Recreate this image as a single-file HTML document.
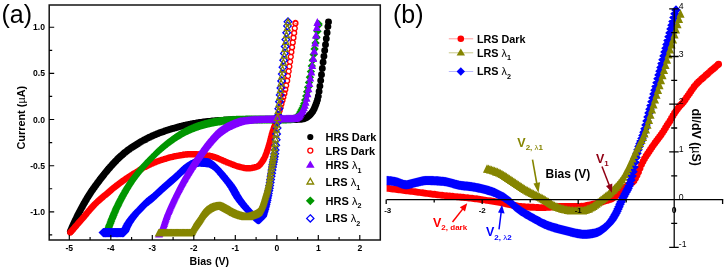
<!DOCTYPE html>
<html><head><meta charset="utf-8"><title>Figure</title>
<style>
html,body{margin:0;padding:0;background:#fff}
svg{display:block}
text{font-family:"Liberation Sans",sans-serif;fill:#000}
.tk{font-size:8.6px;font-weight:bold}
.tb{font-size:8.7px}
.pl{font-size:25px}
.al{font-size:10.6px;font-weight:bold}
.bl{font-size:12px;font-weight:bold}
.lg{font-size:11px;font-weight:bold}
.lgb{font-size:10.8px}
.sub{font-size:7.2px;font-weight:bold}
.an{font-size:12.5px;font-weight:bold}
.ans{font-size:8px;font-weight:bold}
</style></head><body>
<svg width="725" height="269" viewBox="0 0 725 269">
<rect width="725" height="269" fill="#fff"/>
<g id="panelA">
<path d="M70.3 231.5h0M71.1 229.6h0M71.9 227.8h0M72.7 226h0M73.5 224.2h0M74.3 222.5h0M75.1 220.7h0M75.9 219.1h0M76.7 217.4h0M77.5 215.8h0M78.3 214.2h0M79.1 212.7h0M79.9 211.1h0M80.7 209.6h0M81.5 208.1h0M82.3 206.7h0M83.1 205.2h0M83.9 203.8h0M84.7 202.4h0M85.5 201h0M86.3 199.7h0M87.1 198.3h0M87.9 197h0M88.7 195.7h0M89.5 194.5h0M90.3 193.2h0M91.1 192h0M91.9 190.8h0M92.7 189.7h0M93.5 188.5h0M94.3 187.4h0M95.1 186.3h0M95.9 185.2h0M96.7 184.1h0M97.5 183h0M98.3 181.9h0M99.1 180.9h0M99.9 179.8h0M100.7 178.8h0M101.5 177.7h0M102.3 176.7h0M103.1 175.7h0M103.9 174.7h0M104.7 173.6h0M105.5 172.6h0M106.3 171.7h0M107.1 170.7h0M107.9 169.7h0M108.7 168.8h0M109.5 167.9h0M110.3 167h0M111.1 166.1h0M111.9 165.2h0M112.7 164.3h0M113.5 163.4h0M114.3 162.6h0M115.1 161.7h0M115.9 160.9h0M116.7 160.1h0M117.5 159.3h0M118.3 158.5h0M119.1 157.7h0M119.9 157h0M120.7 156.3h0M121.5 155.6h0M122.3 154.9h0M123.1 154.2h0M123.9 153.5h0M124.7 152.8h0M125.5 152.2h0M126.3 151.6h0M127.1 151h0M127.9 150.3h0M128.7 149.7h0M129.5 149.2h0M130.3 148.6h0M131.1 148h0M131.9 147.5h0M132.7 146.9h0M133.5 146.4h0M134.3 145.9h0M135.1 145.4h0M135.9 144.9h0M136.7 144.4h0M137.5 143.9h0M138.3 143.4h0M139.1 142.9h0M139.9 142.5h0M140.7 142h0M141.5 141.5h0M142.3 141.1h0M143.1 140.6h0M143.9 140.2h0M144.7 139.8h0M145.5 139.4h0M146.3 138.9h0M147.1 138.5h0M147.9 138.1h0M148.7 137.7h0M149.5 137.3h0M150.3 137h0M151.1 136.6h0M151.9 136.2h0M152.7 135.8h0M153.5 135.5h0M154.3 135.1h0M155.1 134.8h0M155.9 134.4h0M156.7 134.1h0M157.5 133.8h0M158.3 133.5h0M159.1 133.1h0M159.9 132.8h0M160.7 132.5h0M161.5 132.2h0M162.3 132h0M163.1 131.7h0M163.9 131.4h0M164.7 131.1h0M165.5 130.8h0M166.3 130.6h0M167.1 130.3h0M167.9 130.1h0M168.7 129.8h0M169.5 129.6h0M170.3 129.3h0M171.1 129.1h0M171.9 128.8h0M172.7 128.6h0M173.5 128.4h0M174.3 128.1h0M175.1 127.9h0M175.9 127.7h0M176.7 127.5h0M177.5 127.2h0M178.3 127h0M179.1 126.8h0M179.9 126.6h0M180.7 126.4h0M181.5 126.2h0M182.3 126h0M183.1 125.8h0M183.9 125.6h0M184.7 125.4h0M185.5 125.3h0M186.3 125.1h0M187.1 124.9h0M187.9 124.7h0M188.7 124.6h0M189.5 124.4h0M190.3 124.2h0M191.1 124.1h0M191.9 123.9h0M192.7 123.8h0M193.5 123.6h0M194.3 123.5h0M195.1 123.4h0M195.9 123.2h0M196.7 123.1h0M197.5 123h0M198.3 122.8h0M199.1 122.7h0M199.9 122.6h0M200.7 122.5h0M201.5 122.4h0M202.3 122.3h0M203.1 122.2h0M203.9 122.1h0M204.7 122h0M205.5 121.9h0M206.3 121.8h0M207.1 121.7h0M207.9 121.6h0M208.7 121.5h0M209.5 121.4h0M210.3 121.4h0M211.1 121.3h0M211.9 121.2h0M212.7 121.2h0M213.5 121.1h0M214.3 121h0M215.1 121h0M215.9 120.9h0M216.7 120.8h0M217.5 120.8h0M218.3 120.7h0M219.1 120.7h0M219.9 120.6h0M220.7 120.6h0M221.5 120.5h0M222.3 120.4h0M223.1 120.4h0M223.9 120.3h0M224.7 120.3h0M225.5 120.2h0M226.3 120.2h0M227.1 120.2h0M227.9 120.1h0M228.7 120.1h0M229.5 120h0M230.3 120h0M231.1 119.9h0M231.9 119.9h0M232.7 119.9h0M233.5 119.8h0M234.3 119.8h0M235.1 119.8h0M235.9 119.7h0M236.7 119.7h0M237.5 119.7h0M238.3 119.6h0M239.1 119.6h0M239.9 119.6h0M240.7 119.6h0M241.5 119.6h0M242.3 119.6h0M243.1 119.6h0M243.9 119.5h0M244.7 119.5h0M245.5 119.5h0M246.3 119.5h0M247.1 119.5h0M247.9 119.5h0M248.7 119.5h0M249.5 119.5h0M250.3 119.5h0M251.1 119.5h0M251.9 119.5h0M252.7 119.5h0M253.5 119.5h0M254.3 119.5h0M255.1 119.5h0M255.9 119.5h0M256.7 119.5h0M257.5 119.5h0M258.3 119.5h0M259.1 119.5h0M259.9 119.5h0M260.7 119.5h0M261.5 119.5h0M262.3 119.5h0M263.1 119.5h0M263.9 119.5h0M264.7 119.5h0M265.5 119.5h0M266.3 119.5h0M267.1 119.5h0M267.9 119.5h0M268.7 119.5h0M269.5 119.5h0M270.3 119.5h0M271.1 119.5h0M271.9 119.5h0M272.7 119.5h0M273.5 119.5h0M274.3 119.5h0M275.1 119.5h0M275.9 119.5h0M276.7 119.5h0M277.5 119.5h0M278.3 119.5h0M279.1 119.5h0M279.9 119.5h0M280.7 119.5h0M281.5 119.5h0M282.3 119.5h0M283.1 119.5h0M283.9 119.5h0M284.7 119.5h0M285.5 119.5h0M286.3 119.5h0M287.1 119.5h0M287.9 119.5h0M288.7 119.5h0M289.5 119.5h0M290.3 119.5h0M291.1 119.5h0M291.9 119.5h0M292.7 119.5h0M293.5 119.5h0M294.3 119.5h0M295.1 119.5h0M295.9 119.5h0M296.7 119.5h0M297.5 119.4h0M298.3 119.4h0M299.1 119.4h0M299.9 119.4h0M300.7 119.4h0M301.5 119.3h0M302.3 119.1h0M303.1 118.9h0M303.9 118.7h0M304.7 118.4h0M305.5 118.1h0M306.3 117.7h0M307.1 117.2h0M307.9 116.6h0M308.7 115.9h0M309.5 115.3h0M310.3 114.5h0M311.1 113.6h0M311.9 112.6h0M312.7 111.5h0M313.5 110.1h0M314.3 108.4h0M315.1 106.5h0M315.9 104.5h0M316.7 102.3h0M317.5 99.8h0M318.3 96.2h0M319.1 91.5h0M319.9 86.1h0M320.7 80.6h0M321.5 74.7h0M322.3 68.5h0M323.1 62.3h0M323.9 56.3h0M324.7 50.5h0M325.5 44.7h0M326.3 38.8h0M327.1 32.7h0M327.9 26.6h0M328.5 22h0" stroke="#000" stroke-width="6.9" stroke-linecap="round" fill="none"/>
<path d="M70.3 232.5L71.2 231.5L72.1 230.4L73.1 229.4L74 228.3L74.9 227.2L75.8 226.2L76.7 225.1L77.7 224.1L78.6 223L79.5 221.9L80.4 220.9L81.3 219.8L82.3 218.8L83.2 217.7L84.1 216.7L85 215.6L85.9 214.5L86.9 213.4L87.8 212.3L88.7 211.2L89.6 210.1L90.5 209L91.5 208L92.4 207L93.3 206L94.2 205L95.1 204.1L96.1 203.2L97 202.3L97.9 201.4L98.8 200.6L99.7 199.7L100.7 198.9L101.6 198.1L102.5 197.4L103.4 196.6L104.3 195.8L105.3 195.1L106.2 194.4L107.1 193.6L108 192.8L108.9 192L109.9 191.2L110.8 190.4L111.7 189.6L112.6 188.8L113.5 188.1L114.5 187.4L115.4 186.6L116.3 185.9L117.2 185.2L118.1 184.5L119.1 183.8L120 183.1L120.9 182.4L121.8 181.7L122.7 181.1L123.7 180.4L124.6 179.8L125.5 179.1L126.4 178.5L127.3 177.9L128.3 177.3L129.2 176.7L130.1 176.1L131 175.5L131.9 174.9L132.9 174.3L133.8 173.8L134.7 173.2L135.6 172.6L136.5 172L137.5 171.4L138.4 170.8L139.3 170.2L140.2 169.6L141.1 169.1L142.1 168.6L143 168.1L143.9 167.6L144.8 167.1L145.7 166.6L146.7 166.2L147.6 165.7L148.5 165.3L149.4 164.8L150.3 164.4L151.3 164L152.2 163.6L153.1 163.2L154 162.8L154.9 162.4L155.9 162L156.8 161.7L157.7 161.3L158.6 161L159.5 160.7L160.5 160.3L161.4 160L162.3 159.7L163.2 159.4L164.1 159.2L165.1 158.9L166 158.6L166.9 158.3L167.8 158L168.7 157.8L169.7 157.5L170.6 157.3L171.5 157.1L172.4 156.9L173.3 156.6L174.3 156.4L175.2 156.3L176.1 156.1L177 155.9L177.9 155.8L178.9 155.6L179.8 155.5L180.7 155.3L181.6 155.2L182.5 155L183.5 154.9L184.4 154.8L185.3 154.7L186.2 154.6L187.1 154.5L188.1 154.4L189 154.4L189.9 154.3L190.8 154.3L191.7 154.3L192.7 154.3L193.6 154.3L194.5 154.4L195.4 154.4L196.3 154.5L197.3 154.5L198.2 154.6L199.1 154.7L200 154.8L200.9 154.9L201.9 154.9L202.8 155L203.7 155.2L204.6 155.3L205.5 155.4L206.5 155.5L207.4 155.6L208.3 155.8L209.2 155.9L210.1 156L211.1 156.2L212 156.4L212.9 156.6L213.8 156.9L214.7 157.2L215.7 157.5L216.6 157.8L217.5 158.2L218.4 158.6L219.3 159L220.3 159.4L221.2 159.8L222.1 160.2L223 160.6L223.9 161L224.9 161.4L225.8 161.8L226.7 162.2L227.6 162.6L228.5 162.9L229.5 163.3L230.4 163.6L231.3 164L232.2 164.3L233.1 164.7L234.1 165.1L235 165.4L235.9 165.8L236.8 166.1L237.7 166.4L238.7 166.7L239.6 166.9L240.5 167.1L241.4 167.3L242.3 167.6L243.3 167.8L244.2 168L245.1 168.1L246 168.3L246.9 168.4L247.9 168.4L248.8 168.4L249.7 168.3L250.6 168.2L251.5 168.1L252.5 167.9L253.4 167.7L254.3 167.5L255.2 167.3L256.1 167L257.1 166.6L258 166.2L258.9 165.6L259.8 164.8L260.7 163.7L261.7 162.5L262.6 161.2L263.5 159.7L264.4 157.9L265.3 155.9L266.3 153.6L267.2 150.9L268.1 147.9L269 144.9L269.9 141.6L270.9 138L271.8 134.5L272.7 131.4L273.6 128.7L274.5 126.2L275.5 123.8L276.4 121.3L276.4 121.3M295.4 23.4L295.5 23" stroke="#ff0000" stroke-width="4" fill="none" stroke-linejoin="round"/>
<path d="M67.8 232.5a2.45 2.45 0 1 0 4.9 0a2.45 2.45 0 1 0 -4.9 0zM68.3 232a2.45 2.45 0 1 0 4.9 0a2.45 2.45 0 1 0 -4.9 0zM68.8 231.5a2.45 2.45 0 1 0 4.9 0a2.45 2.45 0 1 0 -4.9 0zM69.2 230.9a2.45 2.45 0 1 0 4.9 0a2.45 2.45 0 1 0 -4.9 0zM69.7 230.4a2.45 2.45 0 1 0 4.9 0a2.45 2.45 0 1 0 -4.9 0zM70.1 229.9a2.45 2.45 0 1 0 4.9 0a2.45 2.45 0 1 0 -4.9 0zM70.6 229.4a2.45 2.45 0 1 0 4.9 0a2.45 2.45 0 1 0 -4.9 0zM71.1 228.8a2.45 2.45 0 1 0 4.9 0a2.45 2.45 0 1 0 -4.9 0zM71.5 228.3a2.45 2.45 0 1 0 4.9 0a2.45 2.45 0 1 0 -4.9 0zM72 227.8a2.45 2.45 0 1 0 4.9 0a2.45 2.45 0 1 0 -4.9 0zM72.4 227.2a2.45 2.45 0 1 0 4.9 0a2.45 2.45 0 1 0 -4.9 0zM72.9 226.7a2.45 2.45 0 1 0 4.9 0a2.45 2.45 0 1 0 -4.9 0zM73.4 226.2a2.45 2.45 0 1 0 4.9 0a2.45 2.45 0 1 0 -4.9 0zM73.8 225.7a2.45 2.45 0 1 0 4.9 0a2.45 2.45 0 1 0 -4.9 0zM74.3 225.1a2.45 2.45 0 1 0 4.9 0a2.45 2.45 0 1 0 -4.9 0zM74.7 224.6a2.45 2.45 0 1 0 4.9 0a2.45 2.45 0 1 0 -4.9 0zM75.2 224.1a2.45 2.45 0 1 0 4.9 0a2.45 2.45 0 1 0 -4.9 0zM75.7 223.5a2.45 2.45 0 1 0 4.9 0a2.45 2.45 0 1 0 -4.9 0zM76.1 223a2.45 2.45 0 1 0 4.9 0a2.45 2.45 0 1 0 -4.9 0zM76.6 222.5a2.45 2.45 0 1 0 4.9 0a2.45 2.45 0 1 0 -4.9 0zM77 221.9a2.45 2.45 0 1 0 4.9 0a2.45 2.45 0 1 0 -4.9 0zM77.5 221.4a2.45 2.45 0 1 0 4.9 0a2.45 2.45 0 1 0 -4.9 0zM78 220.9a2.45 2.45 0 1 0 4.9 0a2.45 2.45 0 1 0 -4.9 0zM78.4 220.4a2.45 2.45 0 1 0 4.9 0a2.45 2.45 0 1 0 -4.9 0zM78.9 219.8a2.45 2.45 0 1 0 4.9 0a2.45 2.45 0 1 0 -4.9 0zM79.3 219.3a2.45 2.45 0 1 0 4.9 0a2.45 2.45 0 1 0 -4.9 0zM79.8 218.8a2.45 2.45 0 1 0 4.9 0a2.45 2.45 0 1 0 -4.9 0zM80.3 218.2a2.45 2.45 0 1 0 4.9 0a2.45 2.45 0 1 0 -4.9 0zM80.7 217.7a2.45 2.45 0 1 0 4.9 0a2.45 2.45 0 1 0 -4.9 0zM81.2 217.2a2.45 2.45 0 1 0 4.9 0a2.45 2.45 0 1 0 -4.9 0zM81.6 216.7a2.45 2.45 0 1 0 4.9 0a2.45 2.45 0 1 0 -4.9 0zM82.1 216.1a2.45 2.45 0 1 0 4.9 0a2.45 2.45 0 1 0 -4.9 0zM82.6 215.6a2.45 2.45 0 1 0 4.9 0a2.45 2.45 0 1 0 -4.9 0zM83 215a2.45 2.45 0 1 0 4.9 0a2.45 2.45 0 1 0 -4.9 0zM83.5 214.5a2.45 2.45 0 1 0 4.9 0a2.45 2.45 0 1 0 -4.9 0zM83.9 213.9a2.45 2.45 0 1 0 4.9 0a2.45 2.45 0 1 0 -4.9 0zM84.4 213.4a2.45 2.45 0 1 0 4.9 0a2.45 2.45 0 1 0 -4.9 0zM84.9 212.8a2.45 2.45 0 1 0 4.9 0a2.45 2.45 0 1 0 -4.9 0zM85.3 212.3a2.45 2.45 0 1 0 4.9 0a2.45 2.45 0 1 0 -4.9 0zM85.8 211.7a2.45 2.45 0 1 0 4.9 0a2.45 2.45 0 1 0 -4.9 0zM86.2 211.2a2.45 2.45 0 1 0 4.9 0a2.45 2.45 0 1 0 -4.9 0zM86.7 210.7a2.45 2.45 0 1 0 4.9 0a2.45 2.45 0 1 0 -4.9 0zM87.2 210.1a2.45 2.45 0 1 0 4.9 0a2.45 2.45 0 1 0 -4.9 0zM87.6 209.6a2.45 2.45 0 1 0 4.9 0a2.45 2.45 0 1 0 -4.9 0zM88.1 209a2.45 2.45 0 1 0 4.9 0a2.45 2.45 0 1 0 -4.9 0zM88.5 208.5a2.45 2.45 0 1 0 4.9 0a2.45 2.45 0 1 0 -4.9 0zM89 208a2.45 2.45 0 1 0 4.9 0a2.45 2.45 0 1 0 -4.9 0zM89.5 207.5a2.45 2.45 0 1 0 4.9 0a2.45 2.45 0 1 0 -4.9 0zM89.9 207a2.45 2.45 0 1 0 4.9 0a2.45 2.45 0 1 0 -4.9 0zM90.4 206.5a2.45 2.45 0 1 0 4.9 0a2.45 2.45 0 1 0 -4.9 0zM90.8 206a2.45 2.45 0 1 0 4.9 0a2.45 2.45 0 1 0 -4.9 0zM91.3 205.5a2.45 2.45 0 1 0 4.9 0a2.45 2.45 0 1 0 -4.9 0zM91.8 205a2.45 2.45 0 1 0 4.9 0a2.45 2.45 0 1 0 -4.9 0zM92.2 204.5a2.45 2.45 0 1 0 4.9 0a2.45 2.45 0 1 0 -4.9 0zM92.7 204.1a2.45 2.45 0 1 0 4.9 0a2.45 2.45 0 1 0 -4.9 0zM93.1 203.6a2.45 2.45 0 1 0 4.9 0a2.45 2.45 0 1 0 -4.9 0zM93.6 203.2a2.45 2.45 0 1 0 4.9 0a2.45 2.45 0 1 0 -4.9 0zM94.1 202.7a2.45 2.45 0 1 0 4.9 0a2.45 2.45 0 1 0 -4.9 0zM94.5 202.3a2.45 2.45 0 1 0 4.9 0a2.45 2.45 0 1 0 -4.9 0zM95 201.8a2.45 2.45 0 1 0 4.9 0a2.45 2.45 0 1 0 -4.9 0zM95.4 201.4a2.45 2.45 0 1 0 4.9 0a2.45 2.45 0 1 0 -4.9 0zM95.9 201a2.45 2.45 0 1 0 4.9 0a2.45 2.45 0 1 0 -4.9 0zM96.4 200.6a2.45 2.45 0 1 0 4.9 0a2.45 2.45 0 1 0 -4.9 0zM96.8 200.2a2.45 2.45 0 1 0 4.9 0a2.45 2.45 0 1 0 -4.9 0zM97.3 199.7a2.45 2.45 0 1 0 4.9 0a2.45 2.45 0 1 0 -4.9 0zM97.7 199.3a2.45 2.45 0 1 0 4.9 0a2.45 2.45 0 1 0 -4.9 0zM98.2 198.9a2.45 2.45 0 1 0 4.9 0a2.45 2.45 0 1 0 -4.9 0zM98.7 198.5a2.45 2.45 0 1 0 4.9 0a2.45 2.45 0 1 0 -4.9 0zM99.1 198.1a2.45 2.45 0 1 0 4.9 0a2.45 2.45 0 1 0 -4.9 0zM99.6 197.7a2.45 2.45 0 1 0 4.9 0a2.45 2.45 0 1 0 -4.9 0zM100 197.4a2.45 2.45 0 1 0 4.9 0a2.45 2.45 0 1 0 -4.9 0zM100.5 197a2.45 2.45 0 1 0 4.9 0a2.45 2.45 0 1 0 -4.9 0zM101 196.6a2.45 2.45 0 1 0 4.9 0a2.45 2.45 0 1 0 -4.9 0zM101.4 196.2a2.45 2.45 0 1 0 4.9 0a2.45 2.45 0 1 0 -4.9 0zM101.9 195.8a2.45 2.45 0 1 0 4.9 0a2.45 2.45 0 1 0 -4.9 0zM102.3 195.5a2.45 2.45 0 1 0 4.9 0a2.45 2.45 0 1 0 -4.9 0zM102.8 195.1a2.45 2.45 0 1 0 4.9 0a2.45 2.45 0 1 0 -4.9 0zM103.3 194.7a2.45 2.45 0 1 0 4.9 0a2.45 2.45 0 1 0 -4.9 0zM103.7 194.4a2.45 2.45 0 1 0 4.9 0a2.45 2.45 0 1 0 -4.9 0zM104.2 194a2.45 2.45 0 1 0 4.9 0a2.45 2.45 0 1 0 -4.9 0zM104.6 193.6a2.45 2.45 0 1 0 4.9 0a2.45 2.45 0 1 0 -4.9 0zM105.1 193.2a2.45 2.45 0 1 0 4.9 0a2.45 2.45 0 1 0 -4.9 0zM105.6 192.8a2.45 2.45 0 1 0 4.9 0a2.45 2.45 0 1 0 -4.9 0zM106 192.4a2.45 2.45 0 1 0 4.9 0a2.45 2.45 0 1 0 -4.9 0zM106.5 192a2.45 2.45 0 1 0 4.9 0a2.45 2.45 0 1 0 -4.9 0zM106.9 191.6a2.45 2.45 0 1 0 4.9 0a2.45 2.45 0 1 0 -4.9 0zM107.4 191.2a2.45 2.45 0 1 0 4.9 0a2.45 2.45 0 1 0 -4.9 0zM107.9 190.8a2.45 2.45 0 1 0 4.9 0a2.45 2.45 0 1 0 -4.9 0zM108.3 190.4a2.45 2.45 0 1 0 4.9 0a2.45 2.45 0 1 0 -4.9 0zM108.8 190a2.45 2.45 0 1 0 4.9 0a2.45 2.45 0 1 0 -4.9 0zM109.2 189.6a2.45 2.45 0 1 0 4.9 0a2.45 2.45 0 1 0 -4.9 0zM109.7 189.2a2.45 2.45 0 1 0 4.9 0a2.45 2.45 0 1 0 -4.9 0zM110.2 188.8a2.45 2.45 0 1 0 4.9 0a2.45 2.45 0 1 0 -4.9 0zM110.6 188.5a2.45 2.45 0 1 0 4.9 0a2.45 2.45 0 1 0 -4.9 0zM111.1 188.1a2.45 2.45 0 1 0 4.9 0a2.45 2.45 0 1 0 -4.9 0zM111.5 187.7a2.45 2.45 0 1 0 4.9 0a2.45 2.45 0 1 0 -4.9 0zM112 187.4a2.45 2.45 0 1 0 4.9 0a2.45 2.45 0 1 0 -4.9 0zM112.5 187a2.45 2.45 0 1 0 4.9 0a2.45 2.45 0 1 0 -4.9 0zM112.9 186.6a2.45 2.45 0 1 0 4.9 0a2.45 2.45 0 1 0 -4.9 0zM113.4 186.3a2.45 2.45 0 1 0 4.9 0a2.45 2.45 0 1 0 -4.9 0zM113.8 185.9a2.45 2.45 0 1 0 4.9 0a2.45 2.45 0 1 0 -4.9 0zM114.3 185.5a2.45 2.45 0 1 0 4.9 0a2.45 2.45 0 1 0 -4.9 0zM114.8 185.2a2.45 2.45 0 1 0 4.9 0a2.45 2.45 0 1 0 -4.9 0zM115.2 184.8a2.45 2.45 0 1 0 4.9 0a2.45 2.45 0 1 0 -4.9 0zM115.7 184.5a2.45 2.45 0 1 0 4.9 0a2.45 2.45 0 1 0 -4.9 0zM116.1 184.1a2.45 2.45 0 1 0 4.9 0a2.45 2.45 0 1 0 -4.9 0zM116.6 183.8a2.45 2.45 0 1 0 4.9 0a2.45 2.45 0 1 0 -4.9 0zM117.1 183.4a2.45 2.45 0 1 0 4.9 0a2.45 2.45 0 1 0 -4.9 0zM117.5 183.1a2.45 2.45 0 1 0 4.9 0a2.45 2.45 0 1 0 -4.9 0zM118 182.8a2.45 2.45 0 1 0 4.9 0a2.45 2.45 0 1 0 -4.9 0zM118.4 182.4a2.45 2.45 0 1 0 4.9 0a2.45 2.45 0 1 0 -4.9 0zM118.9 182.1a2.45 2.45 0 1 0 4.9 0a2.45 2.45 0 1 0 -4.9 0zM119.4 181.7a2.45 2.45 0 1 0 4.9 0a2.45 2.45 0 1 0 -4.9 0zM119.8 181.4a2.45 2.45 0 1 0 4.9 0a2.45 2.45 0 1 0 -4.9 0zM120.3 181.1a2.45 2.45 0 1 0 4.9 0a2.45 2.45 0 1 0 -4.9 0zM120.7 180.7a2.45 2.45 0 1 0 4.9 0a2.45 2.45 0 1 0 -4.9 0zM121.2 180.4a2.45 2.45 0 1 0 4.9 0a2.45 2.45 0 1 0 -4.9 0zM121.7 180.1a2.45 2.45 0 1 0 4.9 0a2.45 2.45 0 1 0 -4.9 0zM122.1 179.8a2.45 2.45 0 1 0 4.9 0a2.45 2.45 0 1 0 -4.9 0zM122.6 179.5a2.45 2.45 0 1 0 4.9 0a2.45 2.45 0 1 0 -4.9 0zM123 179.1a2.45 2.45 0 1 0 4.9 0a2.45 2.45 0 1 0 -4.9 0zM123.5 178.8a2.45 2.45 0 1 0 4.9 0a2.45 2.45 0 1 0 -4.9 0zM124 178.5a2.45 2.45 0 1 0 4.9 0a2.45 2.45 0 1 0 -4.9 0zM124.4 178.2a2.45 2.45 0 1 0 4.9 0a2.45 2.45 0 1 0 -4.9 0zM124.9 177.9a2.45 2.45 0 1 0 4.9 0a2.45 2.45 0 1 0 -4.9 0zM125.3 177.6a2.45 2.45 0 1 0 4.9 0a2.45 2.45 0 1 0 -4.9 0zM125.8 177.3a2.45 2.45 0 1 0 4.9 0a2.45 2.45 0 1 0 -4.9 0zM126.3 177a2.45 2.45 0 1 0 4.9 0a2.45 2.45 0 1 0 -4.9 0zM126.7 176.7a2.45 2.45 0 1 0 4.9 0a2.45 2.45 0 1 0 -4.9 0zM127.2 176.4a2.45 2.45 0 1 0 4.9 0a2.45 2.45 0 1 0 -4.9 0zM127.6 176.1a2.45 2.45 0 1 0 4.9 0a2.45 2.45 0 1 0 -4.9 0zM128.1 175.8a2.45 2.45 0 1 0 4.9 0a2.45 2.45 0 1 0 -4.9 0zM128.6 175.5a2.45 2.45 0 1 0 4.9 0a2.45 2.45 0 1 0 -4.9 0zM129 175.2a2.45 2.45 0 1 0 4.9 0a2.45 2.45 0 1 0 -4.9 0zM129.5 174.9a2.45 2.45 0 1 0 4.9 0a2.45 2.45 0 1 0 -4.9 0zM129.9 174.6a2.45 2.45 0 1 0 4.9 0a2.45 2.45 0 1 0 -4.9 0zM130.4 174.3a2.45 2.45 0 1 0 4.9 0a2.45 2.45 0 1 0 -4.9 0zM130.9 174a2.45 2.45 0 1 0 4.9 0a2.45 2.45 0 1 0 -4.9 0zM131.3 173.8a2.45 2.45 0 1 0 4.9 0a2.45 2.45 0 1 0 -4.9 0zM131.8 173.5a2.45 2.45 0 1 0 4.9 0a2.45 2.45 0 1 0 -4.9 0zM132.2 173.2a2.45 2.45 0 1 0 4.9 0a2.45 2.45 0 1 0 -4.9 0zM132.7 172.9a2.45 2.45 0 1 0 4.9 0a2.45 2.45 0 1 0 -4.9 0zM133.2 172.6a2.45 2.45 0 1 0 4.9 0a2.45 2.45 0 1 0 -4.9 0zM133.6 172.3a2.45 2.45 0 1 0 4.9 0a2.45 2.45 0 1 0 -4.9 0zM134.1 172a2.45 2.45 0 1 0 4.9 0a2.45 2.45 0 1 0 -4.9 0zM134.5 171.7a2.45 2.45 0 1 0 4.9 0a2.45 2.45 0 1 0 -4.9 0zM135 171.4a2.45 2.45 0 1 0 4.9 0a2.45 2.45 0 1 0 -4.9 0zM135.5 171.1a2.45 2.45 0 1 0 4.9 0a2.45 2.45 0 1 0 -4.9 0zM135.9 170.8a2.45 2.45 0 1 0 4.9 0a2.45 2.45 0 1 0 -4.9 0zM136.4 170.5a2.45 2.45 0 1 0 4.9 0a2.45 2.45 0 1 0 -4.9 0zM136.8 170.2a2.45 2.45 0 1 0 4.9 0a2.45 2.45 0 1 0 -4.9 0zM137.3 169.9a2.45 2.45 0 1 0 4.9 0a2.45 2.45 0 1 0 -4.9 0zM137.8 169.6a2.45 2.45 0 1 0 4.9 0a2.45 2.45 0 1 0 -4.9 0zM138.2 169.4a2.45 2.45 0 1 0 4.9 0a2.45 2.45 0 1 0 -4.9 0zM138.7 169.1a2.45 2.45 0 1 0 4.9 0a2.45 2.45 0 1 0 -4.9 0zM139.1 168.9a2.45 2.45 0 1 0 4.9 0a2.45 2.45 0 1 0 -4.9 0zM139.6 168.6a2.45 2.45 0 1 0 4.9 0a2.45 2.45 0 1 0 -4.9 0zM140.1 168.3a2.45 2.45 0 1 0 4.9 0a2.45 2.45 0 1 0 -4.9 0zM140.5 168.1a2.45 2.45 0 1 0 4.9 0a2.45 2.45 0 1 0 -4.9 0zM141 167.8a2.45 2.45 0 1 0 4.9 0a2.45 2.45 0 1 0 -4.9 0zM141.4 167.6a2.45 2.45 0 1 0 4.9 0a2.45 2.45 0 1 0 -4.9 0zM141.9 167.3a2.45 2.45 0 1 0 4.9 0a2.45 2.45 0 1 0 -4.9 0zM142.4 167.1a2.45 2.45 0 1 0 4.9 0a2.45 2.45 0 1 0 -4.9 0zM142.8 166.9a2.45 2.45 0 1 0 4.9 0a2.45 2.45 0 1 0 -4.9 0zM143.3 166.6a2.45 2.45 0 1 0 4.9 0a2.45 2.45 0 1 0 -4.9 0zM143.7 166.4a2.45 2.45 0 1 0 4.9 0a2.45 2.45 0 1 0 -4.9 0zM144.2 166.2a2.45 2.45 0 1 0 4.9 0a2.45 2.45 0 1 0 -4.9 0zM144.7 165.9a2.45 2.45 0 1 0 4.9 0a2.45 2.45 0 1 0 -4.9 0zM145.1 165.7a2.45 2.45 0 1 0 4.9 0a2.45 2.45 0 1 0 -4.9 0zM145.6 165.5a2.45 2.45 0 1 0 4.9 0a2.45 2.45 0 1 0 -4.9 0zM146 165.3a2.45 2.45 0 1 0 4.9 0a2.45 2.45 0 1 0 -4.9 0zM146.5 165.1a2.45 2.45 0 1 0 4.9 0a2.45 2.45 0 1 0 -4.9 0zM147 164.8a2.45 2.45 0 1 0 4.9 0a2.45 2.45 0 1 0 -4.9 0zM147.4 164.6a2.45 2.45 0 1 0 4.9 0a2.45 2.45 0 1 0 -4.9 0zM147.9 164.4a2.45 2.45 0 1 0 4.9 0a2.45 2.45 0 1 0 -4.9 0zM148.3 164.2a2.45 2.45 0 1 0 4.9 0a2.45 2.45 0 1 0 -4.9 0zM148.8 164a2.45 2.45 0 1 0 4.9 0a2.45 2.45 0 1 0 -4.9 0zM149.3 163.8a2.45 2.45 0 1 0 4.9 0a2.45 2.45 0 1 0 -4.9 0zM149.7 163.6a2.45 2.45 0 1 0 4.9 0a2.45 2.45 0 1 0 -4.9 0zM150.2 163.4a2.45 2.45 0 1 0 4.9 0a2.45 2.45 0 1 0 -4.9 0zM150.6 163.2a2.45 2.45 0 1 0 4.9 0a2.45 2.45 0 1 0 -4.9 0zM151.1 163a2.45 2.45 0 1 0 4.9 0a2.45 2.45 0 1 0 -4.9 0zM151.6 162.8a2.45 2.45 0 1 0 4.9 0a2.45 2.45 0 1 0 -4.9 0zM152 162.6a2.45 2.45 0 1 0 4.9 0a2.45 2.45 0 1 0 -4.9 0zM152.5 162.4a2.45 2.45 0 1 0 4.9 0a2.45 2.45 0 1 0 -4.9 0zM152.9 162.2a2.45 2.45 0 1 0 4.9 0a2.45 2.45 0 1 0 -4.9 0zM153.4 162a2.45 2.45 0 1 0 4.9 0a2.45 2.45 0 1 0 -4.9 0zM153.9 161.8a2.45 2.45 0 1 0 4.9 0a2.45 2.45 0 1 0 -4.9 0zM154.3 161.7a2.45 2.45 0 1 0 4.9 0a2.45 2.45 0 1 0 -4.9 0zM154.8 161.5a2.45 2.45 0 1 0 4.9 0a2.45 2.45 0 1 0 -4.9 0zM155.2 161.3a2.45 2.45 0 1 0 4.9 0a2.45 2.45 0 1 0 -4.9 0zM155.7 161.1a2.45 2.45 0 1 0 4.9 0a2.45 2.45 0 1 0 -4.9 0zM156.2 161a2.45 2.45 0 1 0 4.9 0a2.45 2.45 0 1 0 -4.9 0zM156.6 160.8a2.45 2.45 0 1 0 4.9 0a2.45 2.45 0 1 0 -4.9 0zM157.1 160.7a2.45 2.45 0 1 0 4.9 0a2.45 2.45 0 1 0 -4.9 0zM157.5 160.5a2.45 2.45 0 1 0 4.9 0a2.45 2.45 0 1 0 -4.9 0zM158 160.3a2.45 2.45 0 1 0 4.9 0a2.45 2.45 0 1 0 -4.9 0zM158.5 160.2a2.45 2.45 0 1 0 4.9 0a2.45 2.45 0 1 0 -4.9 0zM158.9 160a2.45 2.45 0 1 0 4.9 0a2.45 2.45 0 1 0 -4.9 0zM159.4 159.9a2.45 2.45 0 1 0 4.9 0a2.45 2.45 0 1 0 -4.9 0zM159.8 159.7a2.45 2.45 0 1 0 4.9 0a2.45 2.45 0 1 0 -4.9 0zM160.3 159.6a2.45 2.45 0 1 0 4.9 0a2.45 2.45 0 1 0 -4.9 0zM160.8 159.4a2.45 2.45 0 1 0 4.9 0a2.45 2.45 0 1 0 -4.9 0zM161.2 159.3a2.45 2.45 0 1 0 4.9 0a2.45 2.45 0 1 0 -4.9 0zM161.7 159.2a2.45 2.45 0 1 0 4.9 0a2.45 2.45 0 1 0 -4.9 0zM162.1 159a2.45 2.45 0 1 0 4.9 0a2.45 2.45 0 1 0 -4.9 0zM162.6 158.9a2.45 2.45 0 1 0 4.9 0a2.45 2.45 0 1 0 -4.9 0zM163.1 158.7a2.45 2.45 0 1 0 4.9 0a2.45 2.45 0 1 0 -4.9 0zM163.5 158.6a2.45 2.45 0 1 0 4.9 0a2.45 2.45 0 1 0 -4.9 0zM164 158.5a2.45 2.45 0 1 0 4.9 0a2.45 2.45 0 1 0 -4.9 0zM164.4 158.3a2.45 2.45 0 1 0 4.9 0a2.45 2.45 0 1 0 -4.9 0zM164.9 158.2a2.45 2.45 0 1 0 4.9 0a2.45 2.45 0 1 0 -4.9 0zM165.4 158a2.45 2.45 0 1 0 4.9 0a2.45 2.45 0 1 0 -4.9 0zM165.8 157.9a2.45 2.45 0 1 0 4.9 0a2.45 2.45 0 1 0 -4.9 0zM166.3 157.8a2.45 2.45 0 1 0 4.9 0a2.45 2.45 0 1 0 -4.9 0zM166.7 157.7a2.45 2.45 0 1 0 4.9 0a2.45 2.45 0 1 0 -4.9 0zM167.2 157.5a2.45 2.45 0 1 0 4.9 0a2.45 2.45 0 1 0 -4.9 0zM167.7 157.4a2.45 2.45 0 1 0 4.9 0a2.45 2.45 0 1 0 -4.9 0zM168.1 157.3a2.45 2.45 0 1 0 4.9 0a2.45 2.45 0 1 0 -4.9 0zM168.6 157.2a2.45 2.45 0 1 0 4.9 0a2.45 2.45 0 1 0 -4.9 0zM169 157.1a2.45 2.45 0 1 0 4.9 0a2.45 2.45 0 1 0 -4.9 0zM169.5 157a2.45 2.45 0 1 0 4.9 0a2.45 2.45 0 1 0 -4.9 0zM170 156.9a2.45 2.45 0 1 0 4.9 0a2.45 2.45 0 1 0 -4.9 0zM170.4 156.7a2.45 2.45 0 1 0 4.9 0a2.45 2.45 0 1 0 -4.9 0zM170.9 156.6a2.45 2.45 0 1 0 4.9 0a2.45 2.45 0 1 0 -4.9 0zM171.3 156.5a2.45 2.45 0 1 0 4.9 0a2.45 2.45 0 1 0 -4.9 0zM171.8 156.4a2.45 2.45 0 1 0 4.9 0a2.45 2.45 0 1 0 -4.9 0zM172.3 156.4a2.45 2.45 0 1 0 4.9 0a2.45 2.45 0 1 0 -4.9 0zM172.7 156.3a2.45 2.45 0 1 0 4.9 0a2.45 2.45 0 1 0 -4.9 0zM173.2 156.2a2.45 2.45 0 1 0 4.9 0a2.45 2.45 0 1 0 -4.9 0zM173.6 156.1a2.45 2.45 0 1 0 4.9 0a2.45 2.45 0 1 0 -4.9 0zM174.1 156a2.45 2.45 0 1 0 4.9 0a2.45 2.45 0 1 0 -4.9 0zM174.6 155.9a2.45 2.45 0 1 0 4.9 0a2.45 2.45 0 1 0 -4.9 0zM175 155.9a2.45 2.45 0 1 0 4.9 0a2.45 2.45 0 1 0 -4.9 0zM175.5 155.8a2.45 2.45 0 1 0 4.9 0a2.45 2.45 0 1 0 -4.9 0zM175.9 155.7a2.45 2.45 0 1 0 4.9 0a2.45 2.45 0 1 0 -4.9 0zM176.4 155.6a2.45 2.45 0 1 0 4.9 0a2.45 2.45 0 1 0 -4.9 0zM176.9 155.6a2.45 2.45 0 1 0 4.9 0a2.45 2.45 0 1 0 -4.9 0zM177.3 155.5a2.45 2.45 0 1 0 4.9 0a2.45 2.45 0 1 0 -4.9 0zM177.8 155.4a2.45 2.45 0 1 0 4.9 0a2.45 2.45 0 1 0 -4.9 0zM178.2 155.3a2.45 2.45 0 1 0 4.9 0a2.45 2.45 0 1 0 -4.9 0zM178.7 155.3a2.45 2.45 0 1 0 4.9 0a2.45 2.45 0 1 0 -4.9 0zM179.2 155.2a2.45 2.45 0 1 0 4.9 0a2.45 2.45 0 1 0 -4.9 0zM179.6 155.1a2.45 2.45 0 1 0 4.9 0a2.45 2.45 0 1 0 -4.9 0zM180.1 155a2.45 2.45 0 1 0 4.9 0a2.45 2.45 0 1 0 -4.9 0zM180.5 155a2.45 2.45 0 1 0 4.9 0a2.45 2.45 0 1 0 -4.9 0zM181 154.9a2.45 2.45 0 1 0 4.9 0a2.45 2.45 0 1 0 -4.9 0zM181.5 154.8a2.45 2.45 0 1 0 4.9 0a2.45 2.45 0 1 0 -4.9 0zM181.9 154.8a2.45 2.45 0 1 0 4.9 0a2.45 2.45 0 1 0 -4.9 0zM182.4 154.7a2.45 2.45 0 1 0 4.9 0a2.45 2.45 0 1 0 -4.9 0zM182.8 154.7a2.45 2.45 0 1 0 4.9 0a2.45 2.45 0 1 0 -4.9 0zM183.3 154.6a2.45 2.45 0 1 0 4.9 0a2.45 2.45 0 1 0 -4.9 0zM183.8 154.6a2.45 2.45 0 1 0 4.9 0a2.45 2.45 0 1 0 -4.9 0zM184.2 154.5a2.45 2.45 0 1 0 4.9 0a2.45 2.45 0 1 0 -4.9 0zM184.7 154.5a2.45 2.45 0 1 0 4.9 0a2.45 2.45 0 1 0 -4.9 0zM185.1 154.4a2.45 2.45 0 1 0 4.9 0a2.45 2.45 0 1 0 -4.9 0zM185.6 154.4a2.45 2.45 0 1 0 4.9 0a2.45 2.45 0 1 0 -4.9 0zM186.1 154.4a2.45 2.45 0 1 0 4.9 0a2.45 2.45 0 1 0 -4.9 0zM186.5 154.4a2.45 2.45 0 1 0 4.9 0a2.45 2.45 0 1 0 -4.9 0zM187 154.3a2.45 2.45 0 1 0 4.9 0a2.45 2.45 0 1 0 -4.9 0zM187.4 154.3a2.45 2.45 0 1 0 4.9 0a2.45 2.45 0 1 0 -4.9 0zM187.9 154.3a2.45 2.45 0 1 0 4.9 0a2.45 2.45 0 1 0 -4.9 0zM188.4 154.3a2.45 2.45 0 1 0 4.9 0a2.45 2.45 0 1 0 -4.9 0zM188.8 154.3a2.45 2.45 0 1 0 4.9 0a2.45 2.45 0 1 0 -4.9 0zM189.3 154.3a2.45 2.45 0 1 0 4.9 0a2.45 2.45 0 1 0 -4.9 0zM189.7 154.3a2.45 2.45 0 1 0 4.9 0a2.45 2.45 0 1 0 -4.9 0zM190.2 154.3a2.45 2.45 0 1 0 4.9 0a2.45 2.45 0 1 0 -4.9 0zM190.7 154.3a2.45 2.45 0 1 0 4.9 0a2.45 2.45 0 1 0 -4.9 0zM191.1 154.3a2.45 2.45 0 1 0 4.9 0a2.45 2.45 0 1 0 -4.9 0zM191.6 154.4a2.45 2.45 0 1 0 4.9 0a2.45 2.45 0 1 0 -4.9 0zM192 154.4a2.45 2.45 0 1 0 4.9 0a2.45 2.45 0 1 0 -4.9 0zM192.5 154.4a2.45 2.45 0 1 0 4.9 0a2.45 2.45 0 1 0 -4.9 0zM193 154.4a2.45 2.45 0 1 0 4.9 0a2.45 2.45 0 1 0 -4.9 0zM193.4 154.4a2.45 2.45 0 1 0 4.9 0a2.45 2.45 0 1 0 -4.9 0zM193.9 154.5a2.45 2.45 0 1 0 4.9 0a2.45 2.45 0 1 0 -4.9 0zM194.3 154.5a2.45 2.45 0 1 0 4.9 0a2.45 2.45 0 1 0 -4.9 0zM194.8 154.5a2.45 2.45 0 1 0 4.9 0a2.45 2.45 0 1 0 -4.9 0zM195.3 154.6a2.45 2.45 0 1 0 4.9 0a2.45 2.45 0 1 0 -4.9 0zM195.7 154.6a2.45 2.45 0 1 0 4.9 0a2.45 2.45 0 1 0 -4.9 0zM196.2 154.6a2.45 2.45 0 1 0 4.9 0a2.45 2.45 0 1 0 -4.9 0zM196.6 154.7a2.45 2.45 0 1 0 4.9 0a2.45 2.45 0 1 0 -4.9 0zM197.1 154.7a2.45 2.45 0 1 0 4.9 0a2.45 2.45 0 1 0 -4.9 0zM197.6 154.8a2.45 2.45 0 1 0 4.9 0a2.45 2.45 0 1 0 -4.9 0zM198 154.8a2.45 2.45 0 1 0 4.9 0a2.45 2.45 0 1 0 -4.9 0zM198.5 154.9a2.45 2.45 0 1 0 4.9 0a2.45 2.45 0 1 0 -4.9 0zM198.9 154.9a2.45 2.45 0 1 0 4.9 0a2.45 2.45 0 1 0 -4.9 0zM199.4 154.9a2.45 2.45 0 1 0 4.9 0a2.45 2.45 0 1 0 -4.9 0zM199.9 155a2.45 2.45 0 1 0 4.9 0a2.45 2.45 0 1 0 -4.9 0zM200.3 155a2.45 2.45 0 1 0 4.9 0a2.45 2.45 0 1 0 -4.9 0zM200.8 155.1a2.45 2.45 0 1 0 4.9 0a2.45 2.45 0 1 0 -4.9 0zM201.2 155.2a2.45 2.45 0 1 0 4.9 0a2.45 2.45 0 1 0 -4.9 0zM201.7 155.2a2.45 2.45 0 1 0 4.9 0a2.45 2.45 0 1 0 -4.9 0zM202.2 155.3a2.45 2.45 0 1 0 4.9 0a2.45 2.45 0 1 0 -4.9 0zM202.6 155.3a2.45 2.45 0 1 0 4.9 0a2.45 2.45 0 1 0 -4.9 0zM203.1 155.4a2.45 2.45 0 1 0 4.9 0a2.45 2.45 0 1 0 -4.9 0zM203.5 155.4a2.45 2.45 0 1 0 4.9 0a2.45 2.45 0 1 0 -4.9 0zM204 155.5a2.45 2.45 0 1 0 4.9 0a2.45 2.45 0 1 0 -4.9 0zM204.5 155.6a2.45 2.45 0 1 0 4.9 0a2.45 2.45 0 1 0 -4.9 0zM204.9 155.6a2.45 2.45 0 1 0 4.9 0a2.45 2.45 0 1 0 -4.9 0zM205.4 155.7a2.45 2.45 0 1 0 4.9 0a2.45 2.45 0 1 0 -4.9 0zM205.8 155.8a2.45 2.45 0 1 0 4.9 0a2.45 2.45 0 1 0 -4.9 0zM206.3 155.8a2.45 2.45 0 1 0 4.9 0a2.45 2.45 0 1 0 -4.9 0zM206.8 155.9a2.45 2.45 0 1 0 4.9 0a2.45 2.45 0 1 0 -4.9 0zM207.2 156a2.45 2.45 0 1 0 4.9 0a2.45 2.45 0 1 0 -4.9 0zM207.7 156a2.45 2.45 0 1 0 4.9 0a2.45 2.45 0 1 0 -4.9 0zM208.1 156.1a2.45 2.45 0 1 0 4.9 0a2.45 2.45 0 1 0 -4.9 0zM208.6 156.2a2.45 2.45 0 1 0 4.9 0a2.45 2.45 0 1 0 -4.9 0zM209.1 156.3a2.45 2.45 0 1 0 4.9 0a2.45 2.45 0 1 0 -4.9 0zM209.5 156.4a2.45 2.45 0 1 0 4.9 0a2.45 2.45 0 1 0 -4.9 0zM210 156.5a2.45 2.45 0 1 0 4.9 0a2.45 2.45 0 1 0 -4.9 0zM210.4 156.6a2.45 2.45 0 1 0 4.9 0a2.45 2.45 0 1 0 -4.9 0zM210.9 156.7a2.45 2.45 0 1 0 4.9 0a2.45 2.45 0 1 0 -4.9 0zM211.4 156.9a2.45 2.45 0 1 0 4.9 0a2.45 2.45 0 1 0 -4.9 0zM211.8 157a2.45 2.45 0 1 0 4.9 0a2.45 2.45 0 1 0 -4.9 0zM212.3 157.2a2.45 2.45 0 1 0 4.9 0a2.45 2.45 0 1 0 -4.9 0zM212.7 157.3a2.45 2.45 0 1 0 4.9 0a2.45 2.45 0 1 0 -4.9 0zM213.2 157.5a2.45 2.45 0 1 0 4.9 0a2.45 2.45 0 1 0 -4.9 0zM213.7 157.7a2.45 2.45 0 1 0 4.9 0a2.45 2.45 0 1 0 -4.9 0zM214.1 157.8a2.45 2.45 0 1 0 4.9 0a2.45 2.45 0 1 0 -4.9 0zM214.6 158a2.45 2.45 0 1 0 4.9 0a2.45 2.45 0 1 0 -4.9 0zM215 158.2a2.45 2.45 0 1 0 4.9 0a2.45 2.45 0 1 0 -4.9 0zM215.5 158.4a2.45 2.45 0 1 0 4.9 0a2.45 2.45 0 1 0 -4.9 0zM216 158.6a2.45 2.45 0 1 0 4.9 0a2.45 2.45 0 1 0 -4.9 0zM216.4 158.8a2.45 2.45 0 1 0 4.9 0a2.45 2.45 0 1 0 -4.9 0zM216.9 159a2.45 2.45 0 1 0 4.9 0a2.45 2.45 0 1 0 -4.9 0zM217.3 159.2a2.45 2.45 0 1 0 4.9 0a2.45 2.45 0 1 0 -4.9 0zM217.8 159.4a2.45 2.45 0 1 0 4.9 0a2.45 2.45 0 1 0 -4.9 0zM218.3 159.6a2.45 2.45 0 1 0 4.9 0a2.45 2.45 0 1 0 -4.9 0zM218.7 159.8a2.45 2.45 0 1 0 4.9 0a2.45 2.45 0 1 0 -4.9 0zM219.2 160a2.45 2.45 0 1 0 4.9 0a2.45 2.45 0 1 0 -4.9 0zM219.6 160.2a2.45 2.45 0 1 0 4.9 0a2.45 2.45 0 1 0 -4.9 0zM220.1 160.4a2.45 2.45 0 1 0 4.9 0a2.45 2.45 0 1 0 -4.9 0zM220.6 160.6a2.45 2.45 0 1 0 4.9 0a2.45 2.45 0 1 0 -4.9 0zM221 160.8a2.45 2.45 0 1 0 4.9 0a2.45 2.45 0 1 0 -4.9 0zM221.5 161a2.45 2.45 0 1 0 4.9 0a2.45 2.45 0 1 0 -4.9 0zM221.9 161.2a2.45 2.45 0 1 0 4.9 0a2.45 2.45 0 1 0 -4.9 0zM222.4 161.4a2.45 2.45 0 1 0 4.9 0a2.45 2.45 0 1 0 -4.9 0zM222.9 161.6a2.45 2.45 0 1 0 4.9 0a2.45 2.45 0 1 0 -4.9 0zM223.3 161.8a2.45 2.45 0 1 0 4.9 0a2.45 2.45 0 1 0 -4.9 0zM223.8 162a2.45 2.45 0 1 0 4.9 0a2.45 2.45 0 1 0 -4.9 0zM224.2 162.2a2.45 2.45 0 1 0 4.9 0a2.45 2.45 0 1 0 -4.9 0zM224.7 162.4a2.45 2.45 0 1 0 4.9 0a2.45 2.45 0 1 0 -4.9 0zM225.2 162.6a2.45 2.45 0 1 0 4.9 0a2.45 2.45 0 1 0 -4.9 0zM225.6 162.8a2.45 2.45 0 1 0 4.9 0a2.45 2.45 0 1 0 -4.9 0zM226.1 162.9a2.45 2.45 0 1 0 4.9 0a2.45 2.45 0 1 0 -4.9 0zM226.5 163.1a2.45 2.45 0 1 0 4.9 0a2.45 2.45 0 1 0 -4.9 0zM227 163.3a2.45 2.45 0 1 0 4.9 0a2.45 2.45 0 1 0 -4.9 0zM227.5 163.4a2.45 2.45 0 1 0 4.9 0a2.45 2.45 0 1 0 -4.9 0zM227.9 163.6a2.45 2.45 0 1 0 4.9 0a2.45 2.45 0 1 0 -4.9 0zM228.4 163.8a2.45 2.45 0 1 0 4.9 0a2.45 2.45 0 1 0 -4.9 0zM228.8 164a2.45 2.45 0 1 0 4.9 0a2.45 2.45 0 1 0 -4.9 0zM229.3 164.2a2.45 2.45 0 1 0 4.9 0a2.45 2.45 0 1 0 -4.9 0zM229.8 164.3a2.45 2.45 0 1 0 4.9 0a2.45 2.45 0 1 0 -4.9 0zM230.2 164.5a2.45 2.45 0 1 0 4.9 0a2.45 2.45 0 1 0 -4.9 0zM230.7 164.7a2.45 2.45 0 1 0 4.9 0a2.45 2.45 0 1 0 -4.9 0zM231.1 164.9a2.45 2.45 0 1 0 4.9 0a2.45 2.45 0 1 0 -4.9 0zM231.6 165.1a2.45 2.45 0 1 0 4.9 0a2.45 2.45 0 1 0 -4.9 0zM232.1 165.2a2.45 2.45 0 1 0 4.9 0a2.45 2.45 0 1 0 -4.9 0zM232.5 165.4a2.45 2.45 0 1 0 4.9 0a2.45 2.45 0 1 0 -4.9 0zM233 165.6a2.45 2.45 0 1 0 4.9 0a2.45 2.45 0 1 0 -4.9 0zM233.4 165.8a2.45 2.45 0 1 0 4.9 0a2.45 2.45 0 1 0 -4.9 0zM233.9 165.9a2.45 2.45 0 1 0 4.9 0a2.45 2.45 0 1 0 -4.9 0zM234.4 166.1a2.45 2.45 0 1 0 4.9 0a2.45 2.45 0 1 0 -4.9 0zM234.8 166.2a2.45 2.45 0 1 0 4.9 0a2.45 2.45 0 1 0 -4.9 0zM235.3 166.4a2.45 2.45 0 1 0 4.9 0a2.45 2.45 0 1 0 -4.9 0zM235.7 166.5a2.45 2.45 0 1 0 4.9 0a2.45 2.45 0 1 0 -4.9 0zM236.2 166.7a2.45 2.45 0 1 0 4.9 0a2.45 2.45 0 1 0 -4.9 0zM236.7 166.8a2.45 2.45 0 1 0 4.9 0a2.45 2.45 0 1 0 -4.9 0zM237.1 166.9a2.45 2.45 0 1 0 4.9 0a2.45 2.45 0 1 0 -4.9 0zM237.6 167a2.45 2.45 0 1 0 4.9 0a2.45 2.45 0 1 0 -4.9 0zM238 167.1a2.45 2.45 0 1 0 4.9 0a2.45 2.45 0 1 0 -4.9 0zM238.5 167.2a2.45 2.45 0 1 0 4.9 0a2.45 2.45 0 1 0 -4.9 0zM239 167.3a2.45 2.45 0 1 0 4.9 0a2.45 2.45 0 1 0 -4.9 0zM239.4 167.4a2.45 2.45 0 1 0 4.9 0a2.45 2.45 0 1 0 -4.9 0zM239.9 167.6a2.45 2.45 0 1 0 4.9 0a2.45 2.45 0 1 0 -4.9 0zM240.3 167.7a2.45 2.45 0 1 0 4.9 0a2.45 2.45 0 1 0 -4.9 0zM240.8 167.8a2.45 2.45 0 1 0 4.9 0a2.45 2.45 0 1 0 -4.9 0zM241.3 167.9a2.45 2.45 0 1 0 4.9 0a2.45 2.45 0 1 0 -4.9 0zM241.7 168a2.45 2.45 0 1 0 4.9 0a2.45 2.45 0 1 0 -4.9 0zM242.2 168.1a2.45 2.45 0 1 0 4.9 0a2.45 2.45 0 1 0 -4.9 0zM242.6 168.1a2.45 2.45 0 1 0 4.9 0a2.45 2.45 0 1 0 -4.9 0zM243.1 168.2a2.45 2.45 0 1 0 4.9 0a2.45 2.45 0 1 0 -4.9 0zM243.6 168.3a2.45 2.45 0 1 0 4.9 0a2.45 2.45 0 1 0 -4.9 0zM244 168.3a2.45 2.45 0 1 0 4.9 0a2.45 2.45 0 1 0 -4.9 0zM244.5 168.4a2.45 2.45 0 1 0 4.9 0a2.45 2.45 0 1 0 -4.9 0zM244.9 168.4a2.45 2.45 0 1 0 4.9 0a2.45 2.45 0 1 0 -4.9 0zM245.4 168.4a2.45 2.45 0 1 0 4.9 0a2.45 2.45 0 1 0 -4.9 0zM245.9 168.4a2.45 2.45 0 1 0 4.9 0a2.45 2.45 0 1 0 -4.9 0zM246.3 168.4a2.45 2.45 0 1 0 4.9 0a2.45 2.45 0 1 0 -4.9 0zM246.8 168.4a2.45 2.45 0 1 0 4.9 0a2.45 2.45 0 1 0 -4.9 0zM247.2 168.3a2.45 2.45 0 1 0 4.9 0a2.45 2.45 0 1 0 -4.9 0zM247.7 168.3a2.45 2.45 0 1 0 4.9 0a2.45 2.45 0 1 0 -4.9 0zM248.2 168.2a2.45 2.45 0 1 0 4.9 0a2.45 2.45 0 1 0 -4.9 0zM248.6 168.1a2.45 2.45 0 1 0 4.9 0a2.45 2.45 0 1 0 -4.9 0zM249.1 168.1a2.45 2.45 0 1 0 4.9 0a2.45 2.45 0 1 0 -4.9 0zM249.5 168a2.45 2.45 0 1 0 4.9 0a2.45 2.45 0 1 0 -4.9 0zM250 167.9a2.45 2.45 0 1 0 4.9 0a2.45 2.45 0 1 0 -4.9 0zM250.5 167.8a2.45 2.45 0 1 0 4.9 0a2.45 2.45 0 1 0 -4.9 0zM250.9 167.7a2.45 2.45 0 1 0 4.9 0a2.45 2.45 0 1 0 -4.9 0zM251.4 167.6a2.45 2.45 0 1 0 4.9 0a2.45 2.45 0 1 0 -4.9 0zM251.8 167.5a2.45 2.45 0 1 0 4.9 0a2.45 2.45 0 1 0 -4.9 0zM252.3 167.4a2.45 2.45 0 1 0 4.9 0a2.45 2.45 0 1 0 -4.9 0zM252.8 167.3a2.45 2.45 0 1 0 4.9 0a2.45 2.45 0 1 0 -4.9 0zM253.2 167.1a2.45 2.45 0 1 0 4.9 0a2.45 2.45 0 1 0 -4.9 0zM253.7 167a2.45 2.45 0 1 0 4.9 0a2.45 2.45 0 1 0 -4.9 0zM254.1 166.8a2.45 2.45 0 1 0 4.9 0a2.45 2.45 0 1 0 -4.9 0zM254.6 166.6a2.45 2.45 0 1 0 4.9 0a2.45 2.45 0 1 0 -4.9 0zM255.1 166.4a2.45 2.45 0 1 0 4.9 0a2.45 2.45 0 1 0 -4.9 0zM255.5 166.2a2.45 2.45 0 1 0 4.9 0a2.45 2.45 0 1 0 -4.9 0zM256 165.9a2.45 2.45 0 1 0 4.9 0a2.45 2.45 0 1 0 -4.9 0zM256.4 165.6a2.45 2.45 0 1 0 4.9 0a2.45 2.45 0 1 0 -4.9 0zM256.9 165.2a2.45 2.45 0 1 0 4.9 0a2.45 2.45 0 1 0 -4.9 0zM257.4 164.8a2.45 2.45 0 1 0 4.9 0a2.45 2.45 0 1 0 -4.9 0zM257.8 164.3a2.45 2.45 0 1 0 4.9 0a2.45 2.45 0 1 0 -4.9 0zM258.3 163.7a2.45 2.45 0 1 0 4.9 0a2.45 2.45 0 1 0 -4.9 0zM258.7 163.1a2.45 2.45 0 1 0 4.9 0a2.45 2.45 0 1 0 -4.9 0zM259.2 162.5a2.45 2.45 0 1 0 4.9 0a2.45 2.45 0 1 0 -4.9 0zM259.7 161.8a2.45 2.45 0 1 0 4.9 0a2.45 2.45 0 1 0 -4.9 0zM260.1 161.2a2.45 2.45 0 1 0 4.9 0a2.45 2.45 0 1 0 -4.9 0zM260.6 160.4a2.45 2.45 0 1 0 4.9 0a2.45 2.45 0 1 0 -4.9 0zM261 159.7a2.45 2.45 0 1 0 4.9 0a2.45 2.45 0 1 0 -4.9 0zM261.5 158.8a2.45 2.45 0 1 0 4.9 0a2.45 2.45 0 1 0 -4.9 0zM262 157.9a2.45 2.45 0 1 0 4.9 0a2.45 2.45 0 1 0 -4.9 0zM262.4 157a2.45 2.45 0 1 0 4.9 0a2.45 2.45 0 1 0 -4.9 0zM262.9 155.9a2.45 2.45 0 1 0 4.9 0a2.45 2.45 0 1 0 -4.9 0zM263.3 154.8a2.45 2.45 0 1 0 4.9 0a2.45 2.45 0 1 0 -4.9 0zM263.8 153.6a2.45 2.45 0 1 0 4.9 0a2.45 2.45 0 1 0 -4.9 0zM264.3 152.2a2.45 2.45 0 1 0 4.9 0a2.45 2.45 0 1 0 -4.9 0zM264.7 150.9a2.45 2.45 0 1 0 4.9 0a2.45 2.45 0 1 0 -4.9 0zM265.2 149.4a2.45 2.45 0 1 0 4.9 0a2.45 2.45 0 1 0 -4.9 0zM265.6 147.9a2.45 2.45 0 1 0 4.9 0a2.45 2.45 0 1 0 -4.9 0zM266.1 146.4a2.45 2.45 0 1 0 4.9 0a2.45 2.45 0 1 0 -4.9 0zM266.6 144.9a2.45 2.45 0 1 0 4.9 0a2.45 2.45 0 1 0 -4.9 0zM267 143.3a2.45 2.45 0 1 0 4.9 0a2.45 2.45 0 1 0 -4.9 0zM267.5 141.6a2.45 2.45 0 1 0 4.9 0a2.45 2.45 0 1 0 -4.9 0zM267.9 139.8a2.45 2.45 0 1 0 4.9 0a2.45 2.45 0 1 0 -4.9 0zM268.4 138a2.45 2.45 0 1 0 4.9 0a2.45 2.45 0 1 0 -4.9 0zM268.9 136.2a2.45 2.45 0 1 0 4.9 0a2.45 2.45 0 1 0 -4.9 0zM269.3 134.5a2.45 2.45 0 1 0 4.9 0a2.45 2.45 0 1 0 -4.9 0zM269.8 132.9a2.45 2.45 0 1 0 4.9 0a2.45 2.45 0 1 0 -4.9 0zM270.2 131.4a2.45 2.45 0 1 0 4.9 0a2.45 2.45 0 1 0 -4.9 0zM270.7 130a2.45 2.45 0 1 0 4.9 0a2.45 2.45 0 1 0 -4.9 0zM271.2 128.7a2.45 2.45 0 1 0 4.9 0a2.45 2.45 0 1 0 -4.9 0zM271.6 127.4a2.45 2.45 0 1 0 4.9 0a2.45 2.45 0 1 0 -4.9 0zM272.1 126.2a2.45 2.45 0 1 0 4.9 0a2.45 2.45 0 1 0 -4.9 0zM272.5 125a2.45 2.45 0 1 0 4.9 0a2.45 2.45 0 1 0 -4.9 0zM273 123.8a2.45 2.45 0 1 0 4.9 0a2.45 2.45 0 1 0 -4.9 0zM273.5 122.6a2.45 2.45 0 1 0 4.9 0a2.45 2.45 0 1 0 -4.9 0zM273.9 121.3a2.45 2.45 0 1 0 4.9 0a2.45 2.45 0 1 0 -4.9 0zM274.7 118.9a2.45 2.45 0 1 0 4.9 0a2.45 2.45 0 1 0 -4.9 0zM275.5 116.4a2.45 2.45 0 1 0 4.9 0a2.45 2.45 0 1 0 -4.9 0zM276.2 114a2.45 2.45 0 1 0 4.9 0a2.45 2.45 0 1 0 -4.9 0zM277.2 110.7a2.45 2.45 0 1 0 4.9 0a2.45 2.45 0 1 0 -4.9 0zM278.1 107.3a2.45 2.45 0 1 0 4.9 0a2.45 2.45 0 1 0 -4.9 0zM279 103.9a2.45 2.45 0 1 0 4.9 0a2.45 2.45 0 1 0 -4.9 0zM280 100.4a2.45 2.45 0 1 0 4.9 0a2.45 2.45 0 1 0 -4.9 0zM280.9 96.9a2.45 2.45 0 1 0 4.9 0a2.45 2.45 0 1 0 -4.9 0zM281.9 93.4a2.45 2.45 0 1 0 4.9 0a2.45 2.45 0 1 0 -4.9 0zM282.8 89.6a2.45 2.45 0 1 0 4.9 0a2.45 2.45 0 1 0 -4.9 0zM283.7 85.4a2.45 2.45 0 1 0 4.9 0a2.45 2.45 0 1 0 -4.9 0zM284.7 80.7a2.45 2.45 0 1 0 4.9 0a2.45 2.45 0 1 0 -4.9 0zM285.5 76a2.45 2.45 0 1 0 4.9 0a2.45 2.45 0 1 0 -4.9 0zM286.2 71.2a2.45 2.45 0 1 0 4.9 0a2.45 2.45 0 1 0 -4.9 0zM286.9 66.4a2.45 2.45 0 1 0 4.9 0a2.45 2.45 0 1 0 -4.9 0zM287.6 61.7a2.45 2.45 0 1 0 4.9 0a2.45 2.45 0 1 0 -4.9 0zM288.3 56.8a2.45 2.45 0 1 0 4.9 0a2.45 2.45 0 1 0 -4.9 0zM288.9 52.1a2.45 2.45 0 1 0 4.9 0a2.45 2.45 0 1 0 -4.9 0zM289.6 47.3a2.45 2.45 0 1 0 4.9 0a2.45 2.45 0 1 0 -4.9 0zM290.3 42.5a2.45 2.45 0 1 0 4.9 0a2.45 2.45 0 1 0 -4.9 0zM291 37.7a2.45 2.45 0 1 0 4.9 0a2.45 2.45 0 1 0 -4.9 0zM291.7 33a2.45 2.45 0 1 0 4.9 0a2.45 2.45 0 1 0 -4.9 0zM292.3 28.3a2.45 2.45 0 1 0 4.9 0a2.45 2.45 0 1 0 -4.9 0zM293 23.4a2.45 2.45 0 1 0 4.9 0a2.45 2.45 0 1 0 -4.9 0zM293 23a2.45 2.45 0 1 0 4.9 0a2.45 2.45 0 1 0 -4.9 0z" stroke="#ff0000" stroke-width="1.4" fill="none"/>
<path d="M107.5 226.8l4.2 4.2l-4.2 4.2l-4.2 -4.2zM108 225.5l4.2 4.2l-4.2 4.2l-4.2 -4.2zM108.4 224.1l4.2 4.2l-4.2 4.2l-4.2 -4.2zM108.9 222.8l4.2 4.2l-4.2 4.2l-4.2 -4.2zM109.3 221.6l4.2 4.2l-4.2 4.2l-4.2 -4.2zM109.8 220.3l4.2 4.2l-4.2 4.2l-4.2 -4.2zM110.3 219.1l4.2 4.2l-4.2 4.2l-4.2 -4.2zM110.7 217.9l4.2 4.2l-4.2 4.2l-4.2 -4.2zM111.2 216.7l4.2 4.2l-4.2 4.2l-4.2 -4.2zM111.6 215.6l4.2 4.2l-4.2 4.2l-4.2 -4.2zM112.1 214.4l4.2 4.2l-4.2 4.2l-4.2 -4.2zM112.6 213.3l4.2 4.2l-4.2 4.2l-4.2 -4.2zM113 212.1l4.2 4.2l-4.2 4.2l-4.2 -4.2zM113.5 211l4.2 4.2l-4.2 4.2l-4.2 -4.2zM113.9 209.9l4.2 4.2l-4.2 4.2l-4.2 -4.2zM114.4 208.8l4.2 4.2l-4.2 4.2l-4.2 -4.2zM114.9 207.7l4.2 4.2l-4.2 4.2l-4.2 -4.2zM115.3 206.7l4.2 4.2l-4.2 4.2l-4.2 -4.2zM115.8 205.6l4.2 4.2l-4.2 4.2l-4.2 -4.2zM116.2 204.6l4.2 4.2l-4.2 4.2l-4.2 -4.2zM116.7 203.6l4.2 4.2l-4.2 4.2l-4.2 -4.2zM117.2 202.6l4.2 4.2l-4.2 4.2l-4.2 -4.2zM117.6 201.7l4.2 4.2l-4.2 4.2l-4.2 -4.2zM118.1 200.7l4.2 4.2l-4.2 4.2l-4.2 -4.2zM118.5 199.8l4.2 4.2l-4.2 4.2l-4.2 -4.2zM119 198.8l4.2 4.2l-4.2 4.2l-4.2 -4.2zM119.5 197.9l4.2 4.2l-4.2 4.2l-4.2 -4.2zM119.9 197l4.2 4.2l-4.2 4.2l-4.2 -4.2zM120.4 196.1l4.2 4.2l-4.2 4.2l-4.2 -4.2zM120.8 195.2l4.2 4.2l-4.2 4.2l-4.2 -4.2zM121.3 194.4l4.2 4.2l-4.2 4.2l-4.2 -4.2zM121.8 193.5l4.2 4.2l-4.2 4.2l-4.2 -4.2zM122.2 192.6l4.2 4.2l-4.2 4.2l-4.2 -4.2zM122.7 191.8l4.2 4.2l-4.2 4.2l-4.2 -4.2zM123.1 191l4.2 4.2l-4.2 4.2l-4.2 -4.2zM123.6 190.1l4.2 4.2l-4.2 4.2l-4.2 -4.2zM124.1 189.3l4.2 4.2l-4.2 4.2l-4.2 -4.2zM124.5 188.5l4.2 4.2l-4.2 4.2l-4.2 -4.2zM125 187.7l4.2 4.2l-4.2 4.2l-4.2 -4.2zM125.4 186.9l4.2 4.2l-4.2 4.2l-4.2 -4.2zM125.9 186.1l4.2 4.2l-4.2 4.2l-4.2 -4.2zM126.4 185.3l4.2 4.2l-4.2 4.2l-4.2 -4.2zM126.8 184.6l4.2 4.2l-4.2 4.2l-4.2 -4.2zM127.3 183.8l4.2 4.2l-4.2 4.2l-4.2 -4.2zM127.7 183.1l4.2 4.2l-4.2 4.2l-4.2 -4.2zM128.2 182.3l4.2 4.2l-4.2 4.2l-4.2 -4.2zM128.7 181.6l4.2 4.2l-4.2 4.2l-4.2 -4.2zM129.1 180.9l4.2 4.2l-4.2 4.2l-4.2 -4.2zM129.6 180.2l4.2 4.2l-4.2 4.2l-4.2 -4.2zM130 179.5l4.2 4.2l-4.2 4.2l-4.2 -4.2zM130.5 178.8l4.2 4.2l-4.2 4.2l-4.2 -4.2zM131 178.1l4.2 4.2l-4.2 4.2l-4.2 -4.2zM131.4 177.4l4.2 4.2l-4.2 4.2l-4.2 -4.2zM131.9 176.8l4.2 4.2l-4.2 4.2l-4.2 -4.2zM132.3 176.1l4.2 4.2l-4.2 4.2l-4.2 -4.2zM132.8 175.5l4.2 4.2l-4.2 4.2l-4.2 -4.2zM133.3 174.9l4.2 4.2l-4.2 4.2l-4.2 -4.2zM133.7 174.2l4.2 4.2l-4.2 4.2l-4.2 -4.2zM134.2 173.6l4.2 4.2l-4.2 4.2l-4.2 -4.2zM134.6 173l4.2 4.2l-4.2 4.2l-4.2 -4.2zM135.1 172.4l4.2 4.2l-4.2 4.2l-4.2 -4.2zM135.6 171.8l4.2 4.2l-4.2 4.2l-4.2 -4.2zM136 171.2l4.2 4.2l-4.2 4.2l-4.2 -4.2zM136.5 170.6l4.2 4.2l-4.2 4.2l-4.2 -4.2zM136.9 170l4.2 4.2l-4.2 4.2l-4.2 -4.2zM137.4 169.5l4.2 4.2l-4.2 4.2l-4.2 -4.2zM137.9 168.9l4.2 4.2l-4.2 4.2l-4.2 -4.2zM138.3 168.3l4.2 4.2l-4.2 4.2l-4.2 -4.2zM138.8 167.8l4.2 4.2l-4.2 4.2l-4.2 -4.2zM139.2 167.2l4.2 4.2l-4.2 4.2l-4.2 -4.2zM139.7 166.6l4.2 4.2l-4.2 4.2l-4.2 -4.2zM140.2 166.1l4.2 4.2l-4.2 4.2l-4.2 -4.2zM140.6 165.5l4.2 4.2l-4.2 4.2l-4.2 -4.2zM141.1 165l4.2 4.2l-4.2 4.2l-4.2 -4.2zM141.5 164.5l4.2 4.2l-4.2 4.2l-4.2 -4.2zM142 163.9l4.2 4.2l-4.2 4.2l-4.2 -4.2zM142.5 163.4l4.2 4.2l-4.2 4.2l-4.2 -4.2zM142.9 162.9l4.2 4.2l-4.2 4.2l-4.2 -4.2zM143.4 162.4l4.2 4.2l-4.2 4.2l-4.2 -4.2zM143.8 161.9l4.2 4.2l-4.2 4.2l-4.2 -4.2zM144.3 161.3l4.2 4.2l-4.2 4.2l-4.2 -4.2zM144.8 160.8l4.2 4.2l-4.2 4.2l-4.2 -4.2zM145.2 160.3l4.2 4.2l-4.2 4.2l-4.2 -4.2zM145.7 159.8l4.2 4.2l-4.2 4.2l-4.2 -4.2zM146.1 159.4l4.2 4.2l-4.2 4.2l-4.2 -4.2zM146.6 158.9l4.2 4.2l-4.2 4.2l-4.2 -4.2zM147.1 158.4l4.2 4.2l-4.2 4.2l-4.2 -4.2zM147.5 157.9l4.2 4.2l-4.2 4.2l-4.2 -4.2zM148 157.4l4.2 4.2l-4.2 4.2l-4.2 -4.2zM148.4 156.9l4.2 4.2l-4.2 4.2l-4.2 -4.2zM148.9 156.4l4.2 4.2l-4.2 4.2l-4.2 -4.2zM149.4 156l4.2 4.2l-4.2 4.2l-4.2 -4.2zM149.8 155.5l4.2 4.2l-4.2 4.2l-4.2 -4.2zM150.3 155l4.2 4.2l-4.2 4.2l-4.2 -4.2zM150.7 154.6l4.2 4.2l-4.2 4.2l-4.2 -4.2zM151.2 154.1l4.2 4.2l-4.2 4.2l-4.2 -4.2zM151.7 153.6l4.2 4.2l-4.2 4.2l-4.2 -4.2zM152.1 153.2l4.2 4.2l-4.2 4.2l-4.2 -4.2zM152.6 152.7l4.2 4.2l-4.2 4.2l-4.2 -4.2zM153 152.2l4.2 4.2l-4.2 4.2l-4.2 -4.2zM153.5 151.8l4.2 4.2l-4.2 4.2l-4.2 -4.2zM154 151.3l4.2 4.2l-4.2 4.2l-4.2 -4.2zM154.4 150.9l4.2 4.2l-4.2 4.2l-4.2 -4.2zM154.9 150.4l4.2 4.2l-4.2 4.2l-4.2 -4.2zM155.3 150l4.2 4.2l-4.2 4.2l-4.2 -4.2zM155.8 149.5l4.2 4.2l-4.2 4.2l-4.2 -4.2zM156.3 149.1l4.2 4.2l-4.2 4.2l-4.2 -4.2zM156.7 148.6l4.2 4.2l-4.2 4.2l-4.2 -4.2zM157.2 148.2l4.2 4.2l-4.2 4.2l-4.2 -4.2zM157.6 147.8l4.2 4.2l-4.2 4.2l-4.2 -4.2zM158.1 147.3l4.2 4.2l-4.2 4.2l-4.2 -4.2zM158.6 146.9l4.2 4.2l-4.2 4.2l-4.2 -4.2zM159 146.5l4.2 4.2l-4.2 4.2l-4.2 -4.2zM159.5 146.1l4.2 4.2l-4.2 4.2l-4.2 -4.2zM159.9 145.7l4.2 4.2l-4.2 4.2l-4.2 -4.2zM160.4 145.2l4.2 4.2l-4.2 4.2l-4.2 -4.2zM160.9 144.8l4.2 4.2l-4.2 4.2l-4.2 -4.2zM161.3 144.4l4.2 4.2l-4.2 4.2l-4.2 -4.2zM161.8 144l4.2 4.2l-4.2 4.2l-4.2 -4.2zM162.2 143.6l4.2 4.2l-4.2 4.2l-4.2 -4.2zM162.7 143.2l4.2 4.2l-4.2 4.2l-4.2 -4.2zM163.2 142.9l4.2 4.2l-4.2 4.2l-4.2 -4.2zM163.6 142.5l4.2 4.2l-4.2 4.2l-4.2 -4.2zM164.1 142.1l4.2 4.2l-4.2 4.2l-4.2 -4.2zM164.5 141.7l4.2 4.2l-4.2 4.2l-4.2 -4.2zM165 141.3l4.2 4.2l-4.2 4.2l-4.2 -4.2zM165.5 140.9l4.2 4.2l-4.2 4.2l-4.2 -4.2zM165.9 140.6l4.2 4.2l-4.2 4.2l-4.2 -4.2zM166.4 140.2l4.2 4.2l-4.2 4.2l-4.2 -4.2zM166.8 139.8l4.2 4.2l-4.2 4.2l-4.2 -4.2zM167.3 139.5l4.2 4.2l-4.2 4.2l-4.2 -4.2zM167.8 139.1l4.2 4.2l-4.2 4.2l-4.2 -4.2zM168.2 138.7l4.2 4.2l-4.2 4.2l-4.2 -4.2zM168.7 138.4l4.2 4.2l-4.2 4.2l-4.2 -4.2zM169.1 138l4.2 4.2l-4.2 4.2l-4.2 -4.2zM169.6 137.7l4.2 4.2l-4.2 4.2l-4.2 -4.2zM170.1 137.4l4.2 4.2l-4.2 4.2l-4.2 -4.2zM170.5 137l4.2 4.2l-4.2 4.2l-4.2 -4.2zM171 136.7l4.2 4.2l-4.2 4.2l-4.2 -4.2zM171.4 136.3l4.2 4.2l-4.2 4.2l-4.2 -4.2zM171.9 136l4.2 4.2l-4.2 4.2l-4.2 -4.2zM172.4 135.7l4.2 4.2l-4.2 4.2l-4.2 -4.2zM172.8 135.3l4.2 4.2l-4.2 4.2l-4.2 -4.2zM173.3 135l4.2 4.2l-4.2 4.2l-4.2 -4.2zM173.7 134.7l4.2 4.2l-4.2 4.2l-4.2 -4.2zM174.2 134.4l4.2 4.2l-4.2 4.2l-4.2 -4.2zM174.7 134l4.2 4.2l-4.2 4.2l-4.2 -4.2zM175.1 133.7l4.2 4.2l-4.2 4.2l-4.2 -4.2zM175.6 133.4l4.2 4.2l-4.2 4.2l-4.2 -4.2zM176 133.1l4.2 4.2l-4.2 4.2l-4.2 -4.2zM176.5 132.8l4.2 4.2l-4.2 4.2l-4.2 -4.2zM177 132.5l4.2 4.2l-4.2 4.2l-4.2 -4.2zM177.4 132.2l4.2 4.2l-4.2 4.2l-4.2 -4.2zM177.9 131.9l4.2 4.2l-4.2 4.2l-4.2 -4.2zM178.3 131.6l4.2 4.2l-4.2 4.2l-4.2 -4.2zM178.8 131.3l4.2 4.2l-4.2 4.2l-4.2 -4.2zM179.3 131l4.2 4.2l-4.2 4.2l-4.2 -4.2zM179.7 130.8l4.2 4.2l-4.2 4.2l-4.2 -4.2zM180.2 130.5l4.2 4.2l-4.2 4.2l-4.2 -4.2zM180.6 130.2l4.2 4.2l-4.2 4.2l-4.2 -4.2zM181.1 130l4.2 4.2l-4.2 4.2l-4.2 -4.2zM181.6 129.7l4.2 4.2l-4.2 4.2l-4.2 -4.2zM182 129.4l4.2 4.2l-4.2 4.2l-4.2 -4.2zM182.5 129.2l4.2 4.2l-4.2 4.2l-4.2 -4.2zM182.9 128.9l4.2 4.2l-4.2 4.2l-4.2 -4.2zM183.4 128.6l4.2 4.2l-4.2 4.2l-4.2 -4.2zM183.9 128.4l4.2 4.2l-4.2 4.2l-4.2 -4.2zM184.3 128.1l4.2 4.2l-4.2 4.2l-4.2 -4.2zM184.8 127.9l4.2 4.2l-4.2 4.2l-4.2 -4.2zM185.2 127.6l4.2 4.2l-4.2 4.2l-4.2 -4.2zM185.7 127.4l4.2 4.2l-4.2 4.2l-4.2 -4.2zM186.2 127.1l4.2 4.2l-4.2 4.2l-4.2 -4.2zM186.6 126.9l4.2 4.2l-4.2 4.2l-4.2 -4.2zM187.1 126.7l4.2 4.2l-4.2 4.2l-4.2 -4.2zM187.5 126.5l4.2 4.2l-4.2 4.2l-4.2 -4.2zM188 126.2l4.2 4.2l-4.2 4.2l-4.2 -4.2zM188.5 126l4.2 4.2l-4.2 4.2l-4.2 -4.2zM188.9 125.8l4.2 4.2l-4.2 4.2l-4.2 -4.2zM189.4 125.6l4.2 4.2l-4.2 4.2l-4.2 -4.2zM189.8 125.4l4.2 4.2l-4.2 4.2l-4.2 -4.2zM190.3 125.2l4.2 4.2l-4.2 4.2l-4.2 -4.2zM190.8 125l4.2 4.2l-4.2 4.2l-4.2 -4.2zM191.2 124.8l4.2 4.2l-4.2 4.2l-4.2 -4.2zM191.7 124.6l4.2 4.2l-4.2 4.2l-4.2 -4.2zM192.1 124.4l4.2 4.2l-4.2 4.2l-4.2 -4.2zM192.6 124.2l4.2 4.2l-4.2 4.2l-4.2 -4.2zM193.1 124l4.2 4.2l-4.2 4.2l-4.2 -4.2zM193.5 123.8l4.2 4.2l-4.2 4.2l-4.2 -4.2zM194 123.6l4.2 4.2l-4.2 4.2l-4.2 -4.2zM194.4 123.5l4.2 4.2l-4.2 4.2l-4.2 -4.2zM194.9 123.3l4.2 4.2l-4.2 4.2l-4.2 -4.2zM195.4 123.1l4.2 4.2l-4.2 4.2l-4.2 -4.2zM195.8 122.9l4.2 4.2l-4.2 4.2l-4.2 -4.2zM196.3 122.8l4.2 4.2l-4.2 4.2l-4.2 -4.2zM196.7 122.6l4.2 4.2l-4.2 4.2l-4.2 -4.2zM197.2 122.4l4.2 4.2l-4.2 4.2l-4.2 -4.2zM197.7 122.3l4.2 4.2l-4.2 4.2l-4.2 -4.2zM198.1 122.1l4.2 4.2l-4.2 4.2l-4.2 -4.2zM198.6 122l4.2 4.2l-4.2 4.2l-4.2 -4.2zM199 121.8l4.2 4.2l-4.2 4.2l-4.2 -4.2zM199.5 121.7l4.2 4.2l-4.2 4.2l-4.2 -4.2zM200 121.5l4.2 4.2l-4.2 4.2l-4.2 -4.2zM200.4 121.4l4.2 4.2l-4.2 4.2l-4.2 -4.2zM200.9 121.2l4.2 4.2l-4.2 4.2l-4.2 -4.2zM201.3 121.1l4.2 4.2l-4.2 4.2l-4.2 -4.2zM201.8 120.9l4.2 4.2l-4.2 4.2l-4.2 -4.2zM202.3 120.8l4.2 4.2l-4.2 4.2l-4.2 -4.2zM202.7 120.7l4.2 4.2l-4.2 4.2l-4.2 -4.2zM203.2 120.5l4.2 4.2l-4.2 4.2l-4.2 -4.2zM203.6 120.4l4.2 4.2l-4.2 4.2l-4.2 -4.2zM204.1 120.3l4.2 4.2l-4.2 4.2l-4.2 -4.2zM204.6 120.1l4.2 4.2l-4.2 4.2l-4.2 -4.2zM205 120l4.2 4.2l-4.2 4.2l-4.2 -4.2zM205.5 119.9l4.2 4.2l-4.2 4.2l-4.2 -4.2zM205.9 119.8l4.2 4.2l-4.2 4.2l-4.2 -4.2zM206.4 119.7l4.2 4.2l-4.2 4.2l-4.2 -4.2zM206.9 119.5l4.2 4.2l-4.2 4.2l-4.2 -4.2zM207.3 119.4l4.2 4.2l-4.2 4.2l-4.2 -4.2zM207.8 119.3l4.2 4.2l-4.2 4.2l-4.2 -4.2zM208.2 119.2l4.2 4.2l-4.2 4.2l-4.2 -4.2zM208.7 119.1l4.2 4.2l-4.2 4.2l-4.2 -4.2zM209.2 119l4.2 4.2l-4.2 4.2l-4.2 -4.2zM209.6 118.9l4.2 4.2l-4.2 4.2l-4.2 -4.2zM210.1 118.8l4.2 4.2l-4.2 4.2l-4.2 -4.2zM210.5 118.7l4.2 4.2l-4.2 4.2l-4.2 -4.2zM211 118.6l4.2 4.2l-4.2 4.2l-4.2 -4.2zM211.5 118.5l4.2 4.2l-4.2 4.2l-4.2 -4.2zM211.9 118.4l4.2 4.2l-4.2 4.2l-4.2 -4.2zM212.4 118.3l4.2 4.2l-4.2 4.2l-4.2 -4.2zM212.8 118.2l4.2 4.2l-4.2 4.2l-4.2 -4.2zM213.3 118.1l4.2 4.2l-4.2 4.2l-4.2 -4.2zM213.8 118l4.2 4.2l-4.2 4.2l-4.2 -4.2zM214.2 117.9l4.2 4.2l-4.2 4.2l-4.2 -4.2zM214.7 117.8l4.2 4.2l-4.2 4.2l-4.2 -4.2zM215.1 117.8l4.2 4.2l-4.2 4.2l-4.2 -4.2zM215.6 117.7l4.2 4.2l-4.2 4.2l-4.2 -4.2zM216.1 117.6l4.2 4.2l-4.2 4.2l-4.2 -4.2zM216.5 117.5l4.2 4.2l-4.2 4.2l-4.2 -4.2zM217 117.4l4.2 4.2l-4.2 4.2l-4.2 -4.2zM217.4 117.4l4.2 4.2l-4.2 4.2l-4.2 -4.2zM217.9 117.3l4.2 4.2l-4.2 4.2l-4.2 -4.2zM218.4 117.2l4.2 4.2l-4.2 4.2l-4.2 -4.2zM218.8 117.2l4.2 4.2l-4.2 4.2l-4.2 -4.2zM219.3 117.1l4.2 4.2l-4.2 4.2l-4.2 -4.2zM219.7 117l4.2 4.2l-4.2 4.2l-4.2 -4.2zM220.2 117l4.2 4.2l-4.2 4.2l-4.2 -4.2zM220.7 116.9l4.2 4.2l-4.2 4.2l-4.2 -4.2zM221.1 116.9l4.2 4.2l-4.2 4.2l-4.2 -4.2zM221.6 116.8l4.2 4.2l-4.2 4.2l-4.2 -4.2zM222.5 116.7l4.2 4.2l-4.2 4.2l-4.2 -4.2zM223.5 116.6l4.2 4.2l-4.2 4.2l-4.2 -4.2zM224.4 116.5l4.2 4.2l-4.2 4.2l-4.2 -4.2zM225.3 116.4l4.2 4.2l-4.2 4.2l-4.2 -4.2zM226.3 116.3l4.2 4.2l-4.2 4.2l-4.2 -4.2zM227.2 116.2l4.2 4.2l-4.2 4.2l-4.2 -4.2zM228.2 116.1l4.2 4.2l-4.2 4.2l-4.2 -4.2zM229.1 116.1l4.2 4.2l-4.2 4.2l-4.2 -4.2zM230 116l4.2 4.2l-4.2 4.2l-4.2 -4.2zM231 115.9l4.2 4.2l-4.2 4.2l-4.2 -4.2zM231.9 115.9l4.2 4.2l-4.2 4.2l-4.2 -4.2zM232.9 115.8l4.2 4.2l-4.2 4.2l-4.2 -4.2zM233.8 115.8l4.2 4.2l-4.2 4.2l-4.2 -4.2zM234.7 115.7l4.2 4.2l-4.2 4.2l-4.2 -4.2zM235.7 115.7l4.2 4.2l-4.2 4.2l-4.2 -4.2zM236.6 115.6l4.2 4.2l-4.2 4.2l-4.2 -4.2zM237.6 115.6l4.2 4.2l-4.2 4.2l-4.2 -4.2zM238.5 115.5l4.2 4.2l-4.2 4.2l-4.2 -4.2zM239.4 115.5l4.2 4.2l-4.2 4.2l-4.2 -4.2zM240.4 115.5l4.2 4.2l-4.2 4.2l-4.2 -4.2zM241.3 115.5l4.2 4.2l-4.2 4.2l-4.2 -4.2zM242.3 115.4l4.2 4.2l-4.2 4.2l-4.2 -4.2zM243.2 115.4l4.2 4.2l-4.2 4.2l-4.2 -4.2zM244.1 115.4l4.2 4.2l-4.2 4.2l-4.2 -4.2zM245.1 115.4l4.2 4.2l-4.2 4.2l-4.2 -4.2zM246 115.3l4.2 4.2l-4.2 4.2l-4.2 -4.2zM247 115.3l4.2 4.2l-4.2 4.2l-4.2 -4.2zM247.9 115.3l4.2 4.2l-4.2 4.2l-4.2 -4.2zM248.8 115.3l4.2 4.2l-4.2 4.2l-4.2 -4.2zM249.8 115.3l4.2 4.2l-4.2 4.2l-4.2 -4.2zM250.7 115.3l4.2 4.2l-4.2 4.2l-4.2 -4.2zM251.7 115.3l4.2 4.2l-4.2 4.2l-4.2 -4.2zM252.6 115.3l4.2 4.2l-4.2 4.2l-4.2 -4.2zM253.5 115.3l4.2 4.2l-4.2 4.2l-4.2 -4.2zM254.5 115.3l4.2 4.2l-4.2 4.2l-4.2 -4.2zM255.4 115.3l4.2 4.2l-4.2 4.2l-4.2 -4.2zM256.4 115.3l4.2 4.2l-4.2 4.2l-4.2 -4.2zM257.3 115.3l4.2 4.2l-4.2 4.2l-4.2 -4.2zM258.2 115.3l4.2 4.2l-4.2 4.2l-4.2 -4.2zM259.2 115.3l4.2 4.2l-4.2 4.2l-4.2 -4.2zM260.1 115.3l4.2 4.2l-4.2 4.2l-4.2 -4.2zM261.1 115.3l4.2 4.2l-4.2 4.2l-4.2 -4.2zM262 115.3l4.2 4.2l-4.2 4.2l-4.2 -4.2zM262.9 115.3l4.2 4.2l-4.2 4.2l-4.2 -4.2zM263.9 115.3l4.2 4.2l-4.2 4.2l-4.2 -4.2zM264.8 115.3l4.2 4.2l-4.2 4.2l-4.2 -4.2zM265.8 115.3l4.2 4.2l-4.2 4.2l-4.2 -4.2zM266.7 115.3l4.2 4.2l-4.2 4.2l-4.2 -4.2zM267.6 115.3l4.2 4.2l-4.2 4.2l-4.2 -4.2zM268.6 115.3l4.2 4.2l-4.2 4.2l-4.2 -4.2zM269.5 115.3l4.2 4.2l-4.2 4.2l-4.2 -4.2zM270.5 115.3l4.2 4.2l-4.2 4.2l-4.2 -4.2zM271.4 115.3l4.2 4.2l-4.2 4.2l-4.2 -4.2zM272.3 115.3l4.2 4.2l-4.2 4.2l-4.2 -4.2zM273.3 115.3l4.2 4.2l-4.2 4.2l-4.2 -4.2zM274.2 115.3l4.2 4.2l-4.2 4.2l-4.2 -4.2zM275.2 115.3l4.2 4.2l-4.2 4.2l-4.2 -4.2zM276.1 115.3l4.2 4.2l-4.2 4.2l-4.2 -4.2zM277 115.3l4.2 4.2l-4.2 4.2l-4.2 -4.2zM278 115.3l4.2 4.2l-4.2 4.2l-4.2 -4.2zM278.9 115.3l4.2 4.2l-4.2 4.2l-4.2 -4.2zM279.9 115.3l4.2 4.2l-4.2 4.2l-4.2 -4.2zM280.8 115.3l4.2 4.2l-4.2 4.2l-4.2 -4.2zM281.7 115.3l4.2 4.2l-4.2 4.2l-4.2 -4.2zM282.7 115.3l4.2 4.2l-4.2 4.2l-4.2 -4.2zM283.6 115.3l4.2 4.2l-4.2 4.2l-4.2 -4.2zM284.6 115.3l4.2 4.2l-4.2 4.2l-4.2 -4.2zM285.5 115.3l4.2 4.2l-4.2 4.2l-4.2 -4.2zM286.4 115.3l4.2 4.2l-4.2 4.2l-4.2 -4.2zM287.4 115.2l4.2 4.2l-4.2 4.2l-4.2 -4.2zM288.3 115.2l4.2 4.2l-4.2 4.2l-4.2 -4.2zM289.3 115.1l4.2 4.2l-4.2 4.2l-4.2 -4.2zM290.2 115.1l4.2 4.2l-4.2 4.2l-4.2 -4.2zM291.1 115l4.2 4.2l-4.2 4.2l-4.2 -4.2zM292.1 114.9l4.2 4.2l-4.2 4.2l-4.2 -4.2zM293 114.8l4.2 4.2l-4.2 4.2l-4.2 -4.2zM294 114.6l4.2 4.2l-4.2 4.2l-4.2 -4.2zM294.9 114.2l4.2 4.2l-4.2 4.2l-4.2 -4.2zM295.8 113.6l4.2 4.2l-4.2 4.2l-4.2 -4.2zM296.8 113l4.2 4.2l-4.2 4.2l-4.2 -4.2zM297.7 112.2l4.2 4.2l-4.2 4.2l-4.2 -4.2zM298.7 111l4.2 4.2l-4.2 4.2l-4.2 -4.2zM299.6 109.5l4.2 4.2l-4.2 4.2l-4.2 -4.2zM300.5 107.7l4.2 4.2l-4.2 4.2l-4.2 -4.2zM301.5 105.9l4.2 4.2l-4.2 4.2l-4.2 -4.2zM302.4 104l4.2 4.2l-4.2 4.2l-4.2 -4.2zM303.4 101.8l4.2 4.2l-4.2 4.2l-4.2 -4.2zM304.3 99.2l4.2 4.2l-4.2 4.2l-4.2 -4.2zM305.2 95.9l4.2 4.2l-4.2 4.2l-4.2 -4.2zM306.2 91.9l4.2 4.2l-4.2 4.2l-4.2 -4.2zM307.1 87.5l4.2 4.2l-4.2 4.2l-4.2 -4.2zM308.1 83l4.2 4.2l-4.2 4.2l-4.2 -4.2zM309 78.2l4.2 4.2l-4.2 4.2l-4.2 -4.2zM309.9 73l4.2 4.2l-4.2 4.2l-4.2 -4.2zM310.9 67.4l4.2 4.2l-4.2 4.2l-4.2 -4.2zM311.8 61.7l4.2 4.2l-4.2 4.2l-4.2 -4.2zM312.8 56l4.2 4.2l-4.2 4.2l-4.2 -4.2zM313.7 50.4l4.2 4.2l-4.2 4.2l-4.2 -4.2zM314.6 44.7l4.2 4.2l-4.2 4.2l-4.2 -4.2zM315.6 38.9l4.2 4.2l-4.2 4.2l-4.2 -4.2zM316.5 33l4.2 4.2l-4.2 4.2l-4.2 -4.2zM317.5 27.1l4.2 4.2l-4.2 4.2l-4.2 -4.2zM318.4 21.1l4.2 4.2l-4.2 4.2l-4.2 -4.2zM318.6 19.8l4.2 4.2l-4.2 4.2l-4.2 -4.2z" fill="#009600"/>
<path d="M103.2 232.6L104.1 232.6L105 232.6L106 232.6L106.9 232.6L107.8 232.6L108.7 232.6L109.6 232.6L110.6 232.6L111.5 232.6L112.4 232.6L113.3 232.6L114.2 232.6L115.2 232.6L116.1 232.6L117 232.6L117.9 232.6L118.8 232.6L119.8 232.6L120.7 232.6L121.6 232.6L122.5 232.6L123.4 232.6L124.4 231.7L125.3 230L126.2 227.8L127.1 225.7L128 224.1L129 222.6L129.9 221.2L130.8 219.8L131.7 218.6L132.6 217.4L133.6 216.3L134.5 215.1L135.4 214.1L136.3 213L137.2 212L138.2 211.1L139.1 210.2L140 209.3L140.9 208.2L141.8 207.2L142.8 206.3L143.7 205.3L144.6 204.4L145.5 203.5L146.4 202.7L147.4 201.9L148.3 201.2L149.2 200.5L150.1 199.8L151 199.1L152 198.4L152.9 197.6L153.8 196.8L154.7 196L155.6 195.1L156.6 194.2L157.5 193.4L158.4 192.5L159.3 191.6L160.2 190.8L161.2 190L162.1 189.1L163 188.3L163.9 187.5L164.8 186.7L165.8 185.9L166.7 185.1L167.6 184.2L168.5 183.4L169.4 182.6L170.4 181.8L171.3 181.1L172.2 180.3L173.1 179.5L174 178.6L175 177.8L175.9 177L176.8 176.1L177.7 175.3L178.6 174.4L179.6 173.5L180.5 172.6L181.4 171.7L182.3 170.9L183.2 170.1L184.2 169.3L185.1 168.6L186 168L186.9 167.3L187.8 166.7L188.8 166.1L189.7 165.6L190.6 165.1L191.5 164.6L192.4 164.1L193.4 163.7L194.3 163.3L195.2 162.9L196.1 162.6L197 162.4L198 162.2L198.9 162.1L199.8 162.1L200.7 162.2L201.6 162.2L202.6 162.3L203.5 162.3L204.4 162.4L205.3 162.5L206.2 162.6L207.2 162.7L208.1 162.8L209 163.1L209.9 163.5L210.8 164L211.8 164.6L212.7 165.2L213.6 165.9L214.5 166.6L215.4 167.5L216.4 168.4L217.3 169.3L218.2 170.3L219.1 171.3L220 172.3L221 173.3L221.9 174.4L222.8 175.5L223.7 176.7L224.6 177.8L225.6 178.9L226.5 180.1L227.4 181.2L228.3 182.3L229.2 183.5L230.2 184.8L231.1 186.1L232 187.4L232.9 188.9L233.8 190.5L234.8 192.2L235.7 193.9L236.6 195.6L237.5 197.1L238.4 198.4L239.4 199.7L240.3 201L241.2 202.2L242.1 203.3L243 204.5L244 205.6L244.9 206.7L245.8 207.8L246.7 208.8L247.6 209.8L248.6 210.8L249.5 211.8L250.4 212.8L251.3 213.8L252.2 214.8L253.2 215.8L254.1 216.7L255 217.5L255.9 218.3L256.8 219L257.8 219.5L258.7 219.6L259.6 219.2L260.5 218.6L261.4 217.6L262.4 216.4L263.3 214.1L264.2 211L265.1 207.8L266 204.2L266 204.2" stroke="#0000ff" stroke-width="4.5" fill="none" stroke-linejoin="round"/>
<path d="M103.2 228.8l3.8 3.8l-3.8 3.8l-3.8 -3.8zM103.7 228.8l3.8 3.8l-3.8 3.8l-3.8 -3.8zM104.1 228.8l3.8 3.8l-3.8 3.8l-3.8 -3.8zM104.6 228.8l3.8 3.8l-3.8 3.8l-3.8 -3.8zM105 228.8l3.8 3.8l-3.8 3.8l-3.8 -3.8zM105.5 228.8l3.8 3.8l-3.8 3.8l-3.8 -3.8zM106 228.8l3.8 3.8l-3.8 3.8l-3.8 -3.8zM106.4 228.8l3.8 3.8l-3.8 3.8l-3.8 -3.8zM106.9 228.8l3.8 3.8l-3.8 3.8l-3.8 -3.8zM107.3 228.8l3.8 3.8l-3.8 3.8l-3.8 -3.8zM107.8 228.8l3.8 3.8l-3.8 3.8l-3.8 -3.8zM108.3 228.8l3.8 3.8l-3.8 3.8l-3.8 -3.8zM108.7 228.8l3.8 3.8l-3.8 3.8l-3.8 -3.8zM109.2 228.8l3.8 3.8l-3.8 3.8l-3.8 -3.8zM109.6 228.8l3.8 3.8l-3.8 3.8l-3.8 -3.8zM110.1 228.8l3.8 3.8l-3.8 3.8l-3.8 -3.8zM110.6 228.8l3.8 3.8l-3.8 3.8l-3.8 -3.8zM111 228.8l3.8 3.8l-3.8 3.8l-3.8 -3.8zM111.5 228.8l3.8 3.8l-3.8 3.8l-3.8 -3.8zM111.9 228.8l3.8 3.8l-3.8 3.8l-3.8 -3.8zM112.4 228.8l3.8 3.8l-3.8 3.8l-3.8 -3.8zM112.9 228.8l3.8 3.8l-3.8 3.8l-3.8 -3.8zM113.3 228.8l3.8 3.8l-3.8 3.8l-3.8 -3.8zM113.8 228.8l3.8 3.8l-3.8 3.8l-3.8 -3.8zM114.2 228.8l3.8 3.8l-3.8 3.8l-3.8 -3.8zM114.7 228.8l3.8 3.8l-3.8 3.8l-3.8 -3.8zM115.2 228.8l3.8 3.8l-3.8 3.8l-3.8 -3.8zM115.6 228.8l3.8 3.8l-3.8 3.8l-3.8 -3.8zM116.1 228.8l3.8 3.8l-3.8 3.8l-3.8 -3.8zM116.5 228.8l3.8 3.8l-3.8 3.8l-3.8 -3.8zM117 228.8l3.8 3.8l-3.8 3.8l-3.8 -3.8zM117.5 228.8l3.8 3.8l-3.8 3.8l-3.8 -3.8zM117.9 228.8l3.8 3.8l-3.8 3.8l-3.8 -3.8zM118.4 228.8l3.8 3.8l-3.8 3.8l-3.8 -3.8zM118.8 228.8l3.8 3.8l-3.8 3.8l-3.8 -3.8zM119.3 228.8l3.8 3.8l-3.8 3.8l-3.8 -3.8zM119.8 228.8l3.8 3.8l-3.8 3.8l-3.8 -3.8zM120.2 228.8l3.8 3.8l-3.8 3.8l-3.8 -3.8zM120.7 228.8l3.8 3.8l-3.8 3.8l-3.8 -3.8zM121.1 228.8l3.8 3.8l-3.8 3.8l-3.8 -3.8zM121.6 228.8l3.8 3.8l-3.8 3.8l-3.8 -3.8zM122.1 228.8l3.8 3.8l-3.8 3.8l-3.8 -3.8zM122.5 228.8l3.8 3.8l-3.8 3.8l-3.8 -3.8zM123 228.8l3.8 3.8l-3.8 3.8l-3.8 -3.8zM123.4 228.8l3.8 3.8l-3.8 3.8l-3.8 -3.8zM123.9 228.5l3.8 3.8l-3.8 3.8l-3.8 -3.8zM124.4 227.9l3.8 3.8l-3.8 3.8l-3.8 -3.8zM124.8 227.2l3.8 3.8l-3.8 3.8l-3.8 -3.8zM125.3 226.2l3.8 3.8l-3.8 3.8l-3.8 -3.8zM125.7 225.1l3.8 3.8l-3.8 3.8l-3.8 -3.8zM126.2 224l3.8 3.8l-3.8 3.8l-3.8 -3.8zM126.7 222.9l3.8 3.8l-3.8 3.8l-3.8 -3.8zM127.1 221.9l3.8 3.8l-3.8 3.8l-3.8 -3.8zM127.6 221.1l3.8 3.8l-3.8 3.8l-3.8 -3.8zM128 220.3l3.8 3.8l-3.8 3.8l-3.8 -3.8zM128.5 219.5l3.8 3.8l-3.8 3.8l-3.8 -3.8zM129 218.8l3.8 3.8l-3.8 3.8l-3.8 -3.8zM129.4 218.1l3.8 3.8l-3.8 3.8l-3.8 -3.8zM129.9 217.4l3.8 3.8l-3.8 3.8l-3.8 -3.8zM130.3 216.7l3.8 3.8l-3.8 3.8l-3.8 -3.8zM130.8 216l3.8 3.8l-3.8 3.8l-3.8 -3.8zM131.3 215.4l3.8 3.8l-3.8 3.8l-3.8 -3.8zM131.7 214.8l3.8 3.8l-3.8 3.8l-3.8 -3.8zM132.2 214.2l3.8 3.8l-3.8 3.8l-3.8 -3.8zM132.6 213.6l3.8 3.8l-3.8 3.8l-3.8 -3.8zM133.1 213l3.8 3.8l-3.8 3.8l-3.8 -3.8zM133.6 212.5l3.8 3.8l-3.8 3.8l-3.8 -3.8zM134 211.9l3.8 3.8l-3.8 3.8l-3.8 -3.8zM134.5 211.3l3.8 3.8l-3.8 3.8l-3.8 -3.8zM134.9 210.8l3.8 3.8l-3.8 3.8l-3.8 -3.8zM135.4 210.3l3.8 3.8l-3.8 3.8l-3.8 -3.8zM135.9 209.7l3.8 3.8l-3.8 3.8l-3.8 -3.8zM136.3 209.2l3.8 3.8l-3.8 3.8l-3.8 -3.8zM136.8 208.7l3.8 3.8l-3.8 3.8l-3.8 -3.8zM137.2 208.2l3.8 3.8l-3.8 3.8l-3.8 -3.8zM137.7 207.8l3.8 3.8l-3.8 3.8l-3.8 -3.8zM138.2 207.3l3.8 3.8l-3.8 3.8l-3.8 -3.8zM138.6 206.8l3.8 3.8l-3.8 3.8l-3.8 -3.8zM139.1 206.4l3.8 3.8l-3.8 3.8l-3.8 -3.8zM139.5 205.9l3.8 3.8l-3.8 3.8l-3.8 -3.8zM140 205.5l3.8 3.8l-3.8 3.8l-3.8 -3.8zM140.5 205l3.8 3.8l-3.8 3.8l-3.8 -3.8zM140.9 204.4l3.8 3.8l-3.8 3.8l-3.8 -3.8zM141.4 203.9l3.8 3.8l-3.8 3.8l-3.8 -3.8zM141.8 203.4l3.8 3.8l-3.8 3.8l-3.8 -3.8zM142.3 202.9l3.8 3.8l-3.8 3.8l-3.8 -3.8zM142.8 202.5l3.8 3.8l-3.8 3.8l-3.8 -3.8zM143.2 202l3.8 3.8l-3.8 3.8l-3.8 -3.8zM143.7 201.5l3.8 3.8l-3.8 3.8l-3.8 -3.8zM144.1 201.1l3.8 3.8l-3.8 3.8l-3.8 -3.8zM144.6 200.6l3.8 3.8l-3.8 3.8l-3.8 -3.8zM145.1 200.2l3.8 3.8l-3.8 3.8l-3.8 -3.8zM145.5 199.7l3.8 3.8l-3.8 3.8l-3.8 -3.8zM146 199.3l3.8 3.8l-3.8 3.8l-3.8 -3.8zM146.4 198.9l3.8 3.8l-3.8 3.8l-3.8 -3.8zM146.9 198.5l3.8 3.8l-3.8 3.8l-3.8 -3.8zM147.4 198.1l3.8 3.8l-3.8 3.8l-3.8 -3.8zM147.8 197.8l3.8 3.8l-3.8 3.8l-3.8 -3.8zM148.3 197.4l3.8 3.8l-3.8 3.8l-3.8 -3.8zM148.7 197l3.8 3.8l-3.8 3.8l-3.8 -3.8zM149.2 196.7l3.8 3.8l-3.8 3.8l-3.8 -3.8zM149.7 196.3l3.8 3.8l-3.8 3.8l-3.8 -3.8zM150.1 196l3.8 3.8l-3.8 3.8l-3.8 -3.8zM150.6 195.6l3.8 3.8l-3.8 3.8l-3.8 -3.8zM151 195.3l3.8 3.8l-3.8 3.8l-3.8 -3.8zM151.5 194.9l3.8 3.8l-3.8 3.8l-3.8 -3.8zM152 194.6l3.8 3.8l-3.8 3.8l-3.8 -3.8zM152.4 194.2l3.8 3.8l-3.8 3.8l-3.8 -3.8zM152.9 193.8l3.8 3.8l-3.8 3.8l-3.8 -3.8zM153.3 193.4l3.8 3.8l-3.8 3.8l-3.8 -3.8zM153.8 193l3.8 3.8l-3.8 3.8l-3.8 -3.8zM154.3 192.6l3.8 3.8l-3.8 3.8l-3.8 -3.8zM154.7 192.2l3.8 3.8l-3.8 3.8l-3.8 -3.8zM155.2 191.7l3.8 3.8l-3.8 3.8l-3.8 -3.8zM155.6 191.3l3.8 3.8l-3.8 3.8l-3.8 -3.8zM156.1 190.9l3.8 3.8l-3.8 3.8l-3.8 -3.8zM156.6 190.4l3.8 3.8l-3.8 3.8l-3.8 -3.8zM157 190l3.8 3.8l-3.8 3.8l-3.8 -3.8zM157.5 189.6l3.8 3.8l-3.8 3.8l-3.8 -3.8zM157.9 189.1l3.8 3.8l-3.8 3.8l-3.8 -3.8zM158.4 188.7l3.8 3.8l-3.8 3.8l-3.8 -3.8zM158.9 188.3l3.8 3.8l-3.8 3.8l-3.8 -3.8zM159.3 187.8l3.8 3.8l-3.8 3.8l-3.8 -3.8zM159.8 187.4l3.8 3.8l-3.8 3.8l-3.8 -3.8zM160.2 187l3.8 3.8l-3.8 3.8l-3.8 -3.8zM160.7 186.6l3.8 3.8l-3.8 3.8l-3.8 -3.8zM161.2 186.2l3.8 3.8l-3.8 3.8l-3.8 -3.8zM161.6 185.7l3.8 3.8l-3.8 3.8l-3.8 -3.8zM162.1 185.3l3.8 3.8l-3.8 3.8l-3.8 -3.8zM162.5 184.9l3.8 3.8l-3.8 3.8l-3.8 -3.8zM163 184.5l3.8 3.8l-3.8 3.8l-3.8 -3.8zM163.5 184.1l3.8 3.8l-3.8 3.8l-3.8 -3.8zM163.9 183.7l3.8 3.8l-3.8 3.8l-3.8 -3.8zM164.4 183.3l3.8 3.8l-3.8 3.8l-3.8 -3.8zM164.8 182.9l3.8 3.8l-3.8 3.8l-3.8 -3.8zM165.3 182.5l3.8 3.8l-3.8 3.8l-3.8 -3.8zM165.8 182.1l3.8 3.8l-3.8 3.8l-3.8 -3.8zM166.2 181.7l3.8 3.8l-3.8 3.8l-3.8 -3.8zM166.7 181.3l3.8 3.8l-3.8 3.8l-3.8 -3.8zM167.1 180.8l3.8 3.8l-3.8 3.8l-3.8 -3.8zM167.6 180.4l3.8 3.8l-3.8 3.8l-3.8 -3.8zM168.1 180l3.8 3.8l-3.8 3.8l-3.8 -3.8zM168.5 179.6l3.8 3.8l-3.8 3.8l-3.8 -3.8zM169 179.2l3.8 3.8l-3.8 3.8l-3.8 -3.8zM169.4 178.8l3.8 3.8l-3.8 3.8l-3.8 -3.8zM169.9 178.4l3.8 3.8l-3.8 3.8l-3.8 -3.8zM170.4 178l3.8 3.8l-3.8 3.8l-3.8 -3.8zM170.8 177.6l3.8 3.8l-3.8 3.8l-3.8 -3.8zM171.3 177.3l3.8 3.8l-3.8 3.8l-3.8 -3.8zM171.7 176.9l3.8 3.8l-3.8 3.8l-3.8 -3.8zM172.2 176.5l3.8 3.8l-3.8 3.8l-3.8 -3.8zM172.7 176.1l3.8 3.8l-3.8 3.8l-3.8 -3.8zM173.1 175.7l3.8 3.8l-3.8 3.8l-3.8 -3.8zM173.6 175.3l3.8 3.8l-3.8 3.8l-3.8 -3.8zM174 174.8l3.8 3.8l-3.8 3.8l-3.8 -3.8zM174.5 174.4l3.8 3.8l-3.8 3.8l-3.8 -3.8zM175 174l3.8 3.8l-3.8 3.8l-3.8 -3.8zM175.4 173.6l3.8 3.8l-3.8 3.8l-3.8 -3.8zM175.9 173.2l3.8 3.8l-3.8 3.8l-3.8 -3.8zM176.3 172.8l3.8 3.8l-3.8 3.8l-3.8 -3.8zM176.8 172.3l3.8 3.8l-3.8 3.8l-3.8 -3.8zM177.3 171.9l3.8 3.8l-3.8 3.8l-3.8 -3.8zM177.7 171.5l3.8 3.8l-3.8 3.8l-3.8 -3.8zM178.2 171.1l3.8 3.8l-3.8 3.8l-3.8 -3.8zM178.6 170.6l3.8 3.8l-3.8 3.8l-3.8 -3.8zM179.1 170.1l3.8 3.8l-3.8 3.8l-3.8 -3.8zM179.6 169.7l3.8 3.8l-3.8 3.8l-3.8 -3.8zM180 169.2l3.8 3.8l-3.8 3.8l-3.8 -3.8zM180.5 168.8l3.8 3.8l-3.8 3.8l-3.8 -3.8zM180.9 168.3l3.8 3.8l-3.8 3.8l-3.8 -3.8zM181.4 167.9l3.8 3.8l-3.8 3.8l-3.8 -3.8zM181.9 167.5l3.8 3.8l-3.8 3.8l-3.8 -3.8zM182.3 167.1l3.8 3.8l-3.8 3.8l-3.8 -3.8zM182.8 166.7l3.8 3.8l-3.8 3.8l-3.8 -3.8zM183.2 166.3l3.8 3.8l-3.8 3.8l-3.8 -3.8zM183.7 165.9l3.8 3.8l-3.8 3.8l-3.8 -3.8zM184.2 165.5l3.8 3.8l-3.8 3.8l-3.8 -3.8zM184.6 165.2l3.8 3.8l-3.8 3.8l-3.8 -3.8zM185.1 164.8l3.8 3.8l-3.8 3.8l-3.8 -3.8zM185.5 164.5l3.8 3.8l-3.8 3.8l-3.8 -3.8zM186 164.2l3.8 3.8l-3.8 3.8l-3.8 -3.8zM186.5 163.8l3.8 3.8l-3.8 3.8l-3.8 -3.8zM186.9 163.5l3.8 3.8l-3.8 3.8l-3.8 -3.8zM187.4 163.2l3.8 3.8l-3.8 3.8l-3.8 -3.8zM187.8 162.9l3.8 3.8l-3.8 3.8l-3.8 -3.8zM188.3 162.6l3.8 3.8l-3.8 3.8l-3.8 -3.8zM188.8 162.3l3.8 3.8l-3.8 3.8l-3.8 -3.8zM189.2 162l3.8 3.8l-3.8 3.8l-3.8 -3.8zM189.7 161.8l3.8 3.8l-3.8 3.8l-3.8 -3.8zM190.1 161.5l3.8 3.8l-3.8 3.8l-3.8 -3.8zM190.6 161.3l3.8 3.8l-3.8 3.8l-3.8 -3.8zM191.1 161l3.8 3.8l-3.8 3.8l-3.8 -3.8zM191.5 160.8l3.8 3.8l-3.8 3.8l-3.8 -3.8zM192 160.6l3.8 3.8l-3.8 3.8l-3.8 -3.8zM192.4 160.3l3.8 3.8l-3.8 3.8l-3.8 -3.8zM192.9 160.1l3.8 3.8l-3.8 3.8l-3.8 -3.8zM193.4 159.9l3.8 3.8l-3.8 3.8l-3.8 -3.8zM193.8 159.7l3.8 3.8l-3.8 3.8l-3.8 -3.8zM194.3 159.5l3.8 3.8l-3.8 3.8l-3.8 -3.8zM194.7 159.3l3.8 3.8l-3.8 3.8l-3.8 -3.8zM195.2 159.1l3.8 3.8l-3.8 3.8l-3.8 -3.8zM195.7 158.9l3.8 3.8l-3.8 3.8l-3.8 -3.8zM196.1 158.8l3.8 3.8l-3.8 3.8l-3.8 -3.8zM196.6 158.7l3.8 3.8l-3.8 3.8l-3.8 -3.8zM197 158.6l3.8 3.8l-3.8 3.8l-3.8 -3.8zM197.5 158.5l3.8 3.8l-3.8 3.8l-3.8 -3.8zM198 158.4l3.8 3.8l-3.8 3.8l-3.8 -3.8zM198.4 158.4l3.8 3.8l-3.8 3.8l-3.8 -3.8zM198.9 158.3l3.8 3.8l-3.8 3.8l-3.8 -3.8zM199.3 158.3l3.8 3.8l-3.8 3.8l-3.8 -3.8zM199.8 158.3l3.8 3.8l-3.8 3.8l-3.8 -3.8zM200.3 158.3l3.8 3.8l-3.8 3.8l-3.8 -3.8zM200.7 158.4l3.8 3.8l-3.8 3.8l-3.8 -3.8zM201.2 158.4l3.8 3.8l-3.8 3.8l-3.8 -3.8zM201.6 158.4l3.8 3.8l-3.8 3.8l-3.8 -3.8zM202.1 158.4l3.8 3.8l-3.8 3.8l-3.8 -3.8zM202.6 158.5l3.8 3.8l-3.8 3.8l-3.8 -3.8zM203 158.5l3.8 3.8l-3.8 3.8l-3.8 -3.8zM203.5 158.5l3.8 3.8l-3.8 3.8l-3.8 -3.8zM203.9 158.6l3.8 3.8l-3.8 3.8l-3.8 -3.8zM204.4 158.6l3.8 3.8l-3.8 3.8l-3.8 -3.8zM204.9 158.6l3.8 3.8l-3.8 3.8l-3.8 -3.8zM205.3 158.7l3.8 3.8l-3.8 3.8l-3.8 -3.8zM205.8 158.7l3.8 3.8l-3.8 3.8l-3.8 -3.8zM206.2 158.8l3.8 3.8l-3.8 3.8l-3.8 -3.8zM206.7 158.9l3.8 3.8l-3.8 3.8l-3.8 -3.8zM207.2 158.9l3.8 3.8l-3.8 3.8l-3.8 -3.8zM207.6 159l3.8 3.8l-3.8 3.8l-3.8 -3.8zM208.1 159l3.8 3.8l-3.8 3.8l-3.8 -3.8zM208.5 159.1l3.8 3.8l-3.8 3.8l-3.8 -3.8zM209 159.3l3.8 3.8l-3.8 3.8l-3.8 -3.8zM209.5 159.5l3.8 3.8l-3.8 3.8l-3.8 -3.8zM209.9 159.7l3.8 3.8l-3.8 3.8l-3.8 -3.8zM210.4 159.9l3.8 3.8l-3.8 3.8l-3.8 -3.8zM210.8 160.2l3.8 3.8l-3.8 3.8l-3.8 -3.8zM211.3 160.5l3.8 3.8l-3.8 3.8l-3.8 -3.8zM211.8 160.8l3.8 3.8l-3.8 3.8l-3.8 -3.8zM212.2 161.1l3.8 3.8l-3.8 3.8l-3.8 -3.8zM212.7 161.4l3.8 3.8l-3.8 3.8l-3.8 -3.8zM213.1 161.7l3.8 3.8l-3.8 3.8l-3.8 -3.8zM213.6 162.1l3.8 3.8l-3.8 3.8l-3.8 -3.8zM214.1 162.4l3.8 3.8l-3.8 3.8l-3.8 -3.8zM214.5 162.8l3.8 3.8l-3.8 3.8l-3.8 -3.8zM215 163.2l3.8 3.8l-3.8 3.8l-3.8 -3.8zM215.4 163.7l3.8 3.8l-3.8 3.8l-3.8 -3.8zM215.9 164.1l3.8 3.8l-3.8 3.8l-3.8 -3.8zM216.4 164.6l3.8 3.8l-3.8 3.8l-3.8 -3.8zM216.8 165.1l3.8 3.8l-3.8 3.8l-3.8 -3.8zM217.3 165.5l3.8 3.8l-3.8 3.8l-3.8 -3.8zM217.7 166l3.8 3.8l-3.8 3.8l-3.8 -3.8zM218.2 166.5l3.8 3.8l-3.8 3.8l-3.8 -3.8zM218.7 167l3.8 3.8l-3.8 3.8l-3.8 -3.8zM219.1 167.5l3.8 3.8l-3.8 3.8l-3.8 -3.8zM219.6 168l3.8 3.8l-3.8 3.8l-3.8 -3.8zM220 168.5l3.8 3.8l-3.8 3.8l-3.8 -3.8zM220.5 169l3.8 3.8l-3.8 3.8l-3.8 -3.8zM221 169.5l3.8 3.8l-3.8 3.8l-3.8 -3.8zM221.4 170.1l3.8 3.8l-3.8 3.8l-3.8 -3.8zM221.9 170.6l3.8 3.8l-3.8 3.8l-3.8 -3.8zM222.3 171.2l3.8 3.8l-3.8 3.8l-3.8 -3.8zM222.8 171.7l3.8 3.8l-3.8 3.8l-3.8 -3.8zM223.3 172.3l3.8 3.8l-3.8 3.8l-3.8 -3.8zM223.7 172.9l3.8 3.8l-3.8 3.8l-3.8 -3.8zM224.2 173.4l3.8 3.8l-3.8 3.8l-3.8 -3.8zM224.6 174l3.8 3.8l-3.8 3.8l-3.8 -3.8zM225.1 174.6l3.8 3.8l-3.8 3.8l-3.8 -3.8zM225.6 175.1l3.8 3.8l-3.8 3.8l-3.8 -3.8zM226 175.7l3.8 3.8l-3.8 3.8l-3.8 -3.8zM226.5 176.3l3.8 3.8l-3.8 3.8l-3.8 -3.8zM226.9 176.8l3.8 3.8l-3.8 3.8l-3.8 -3.8zM227.4 177.4l3.8 3.8l-3.8 3.8l-3.8 -3.8zM227.9 178l3.8 3.8l-3.8 3.8l-3.8 -3.8zM228.3 178.5l3.8 3.8l-3.8 3.8l-3.8 -3.8zM228.8 179.1l3.8 3.8l-3.8 3.8l-3.8 -3.8zM229.2 179.7l3.8 3.8l-3.8 3.8l-3.8 -3.8zM229.7 180.3l3.8 3.8l-3.8 3.8l-3.8 -3.8zM230.2 181l3.8 3.8l-3.8 3.8l-3.8 -3.8zM230.6 181.6l3.8 3.8l-3.8 3.8l-3.8 -3.8zM231.1 182.3l3.8 3.8l-3.8 3.8l-3.8 -3.8zM231.5 182.9l3.8 3.8l-3.8 3.8l-3.8 -3.8zM232 183.6l3.8 3.8l-3.8 3.8l-3.8 -3.8zM232.5 184.3l3.8 3.8l-3.8 3.8l-3.8 -3.8zM232.9 185.1l3.8 3.8l-3.8 3.8l-3.8 -3.8zM233.4 185.9l3.8 3.8l-3.8 3.8l-3.8 -3.8zM233.8 186.7l3.8 3.8l-3.8 3.8l-3.8 -3.8zM234.3 187.6l3.8 3.8l-3.8 3.8l-3.8 -3.8zM234.8 188.4l3.8 3.8l-3.8 3.8l-3.8 -3.8zM235.2 189.3l3.8 3.8l-3.8 3.8l-3.8 -3.8zM235.7 190.1l3.8 3.8l-3.8 3.8l-3.8 -3.8zM236.1 191l3.8 3.8l-3.8 3.8l-3.8 -3.8zM236.6 191.8l3.8 3.8l-3.8 3.8l-3.8 -3.8zM237.1 192.5l3.8 3.8l-3.8 3.8l-3.8 -3.8zM237.5 193.3l3.8 3.8l-3.8 3.8l-3.8 -3.8zM238 194l3.8 3.8l-3.8 3.8l-3.8 -3.8zM238.4 194.6l3.8 3.8l-3.8 3.8l-3.8 -3.8zM238.9 195.3l3.8 3.8l-3.8 3.8l-3.8 -3.8zM239.4 195.9l3.8 3.8l-3.8 3.8l-3.8 -3.8zM239.8 196.5l3.8 3.8l-3.8 3.8l-3.8 -3.8zM240.3 197.2l3.8 3.8l-3.8 3.8l-3.8 -3.8zM240.7 197.8l3.8 3.8l-3.8 3.8l-3.8 -3.8zM241.2 198.4l3.8 3.8l-3.8 3.8l-3.8 -3.8zM241.7 199l3.8 3.8l-3.8 3.8l-3.8 -3.8zM242.1 199.5l3.8 3.8l-3.8 3.8l-3.8 -3.8zM242.6 200.1l3.8 3.8l-3.8 3.8l-3.8 -3.8zM243 200.7l3.8 3.8l-3.8 3.8l-3.8 -3.8zM243.5 201.2l3.8 3.8l-3.8 3.8l-3.8 -3.8zM244 201.8l3.8 3.8l-3.8 3.8l-3.8 -3.8zM244.4 202.3l3.8 3.8l-3.8 3.8l-3.8 -3.8zM244.9 202.9l3.8 3.8l-3.8 3.8l-3.8 -3.8zM245.3 203.4l3.8 3.8l-3.8 3.8l-3.8 -3.8zM245.8 204l3.8 3.8l-3.8 3.8l-3.8 -3.8zM246.3 204.5l3.8 3.8l-3.8 3.8l-3.8 -3.8zM246.7 205l3.8 3.8l-3.8 3.8l-3.8 -3.8zM247.2 205.5l3.8 3.8l-3.8 3.8l-3.8 -3.8zM247.6 206l3.8 3.8l-3.8 3.8l-3.8 -3.8zM248.1 206.5l3.8 3.8l-3.8 3.8l-3.8 -3.8zM248.6 207l3.8 3.8l-3.8 3.8l-3.8 -3.8zM249 207.5l3.8 3.8l-3.8 3.8l-3.8 -3.8zM249.5 208l3.8 3.8l-3.8 3.8l-3.8 -3.8zM249.9 208.5l3.8 3.8l-3.8 3.8l-3.8 -3.8zM250.4 209l3.8 3.8l-3.8 3.8l-3.8 -3.8zM250.9 209.5l3.8 3.8l-3.8 3.8l-3.8 -3.8zM251.3 210l3.8 3.8l-3.8 3.8l-3.8 -3.8zM251.8 210.5l3.8 3.8l-3.8 3.8l-3.8 -3.8zM252.2 211l3.8 3.8l-3.8 3.8l-3.8 -3.8zM252.7 211.5l3.8 3.8l-3.8 3.8l-3.8 -3.8zM253.2 212l3.8 3.8l-3.8 3.8l-3.8 -3.8zM253.6 212.5l3.8 3.8l-3.8 3.8l-3.8 -3.8zM254.1 212.9l3.8 3.8l-3.8 3.8l-3.8 -3.8zM254.5 213.3l3.8 3.8l-3.8 3.8l-3.8 -3.8zM255 213.7l3.8 3.8l-3.8 3.8l-3.8 -3.8zM255.5 214.1l3.8 3.8l-3.8 3.8l-3.8 -3.8zM255.9 214.5l3.8 3.8l-3.8 3.8l-3.8 -3.8zM256.4 214.8l3.8 3.8l-3.8 3.8l-3.8 -3.8zM256.8 215.2l3.8 3.8l-3.8 3.8l-3.8 -3.8zM257.3 215.5l3.8 3.8l-3.8 3.8l-3.8 -3.8zM257.8 215.7l3.8 3.8l-3.8 3.8l-3.8 -3.8zM258.2 215.8l3.8 3.8l-3.8 3.8l-3.8 -3.8zM258.7 215.8l3.8 3.8l-3.8 3.8l-3.8 -3.8zM259.1 215.7l3.8 3.8l-3.8 3.8l-3.8 -3.8zM259.6 215.4l3.8 3.8l-3.8 3.8l-3.8 -3.8zM260.1 215.1l3.8 3.8l-3.8 3.8l-3.8 -3.8zM260.5 214.8l3.8 3.8l-3.8 3.8l-3.8 -3.8zM261 214.3l3.8 3.8l-3.8 3.8l-3.8 -3.8zM261.4 213.8l3.8 3.8l-3.8 3.8l-3.8 -3.8zM261.9 213.3l3.8 3.8l-3.8 3.8l-3.8 -3.8zM262.4 212.6l3.8 3.8l-3.8 3.8l-3.8 -3.8zM262.8 211.6l3.8 3.8l-3.8 3.8l-3.8 -3.8zM263.3 210.3l3.8 3.8l-3.8 3.8l-3.8 -3.8zM263.7 208.8l3.8 3.8l-3.8 3.8l-3.8 -3.8zM264.2 207.2l3.8 3.8l-3.8 3.8l-3.8 -3.8zM264.7 205.7l3.8 3.8l-3.8 3.8l-3.8 -3.8zM265.1 204l3.8 3.8l-3.8 3.8l-3.8 -3.8zM265.6 202.3l3.8 3.8l-3.8 3.8l-3.8 -3.8zM266 200.4l3.8 3.8l-3.8 3.8l-3.8 -3.8zM266.5 198.4l3.8 3.8l-3.8 3.8l-3.8 -3.8zM267 196.4l3.8 3.8l-3.8 3.8l-3.8 -3.8zM267.4 194.2l3.8 3.8l-3.8 3.8l-3.8 -3.8zM267.9 192l3.8 3.8l-3.8 3.8l-3.8 -3.8zM268.3 189.6l3.8 3.8l-3.8 3.8l-3.8 -3.8zM268.8 187l3.8 3.8l-3.8 3.8l-3.8 -3.8zM269.3 184.4l3.8 3.8l-3.8 3.8l-3.8 -3.8zM269.7 181.7l3.8 3.8l-3.8 3.8l-3.8 -3.8zM270.2 178.7l3.8 3.8l-3.8 3.8l-3.8 -3.8zM270.6 175.7l3.8 3.8l-3.8 3.8l-3.8 -3.8zM271.1 172.5l3.8 3.8l-3.8 3.8l-3.8 -3.8zM271.6 169.4l3.8 3.8l-3.8 3.8l-3.8 -3.8zM272 166.3l3.8 3.8l-3.8 3.8l-3.8 -3.8zM272.5 163.3l3.8 3.8l-3.8 3.8l-3.8 -3.8zM272.9 160.6l3.8 3.8l-3.8 3.8l-3.8 -3.8zM273.4 158.1l3.8 3.8l-3.8 3.8l-3.8 -3.8zM273.9 155.6l3.8 3.8l-3.8 3.8l-3.8 -3.8zM274.3 152.9l3.8 3.8l-3.8 3.8l-3.8 -3.8zM274.8 149.9l3.8 3.8l-3.8 3.8l-3.8 -3.8zM275.2 146.2l3.8 3.8l-3.8 3.8l-3.8 -3.8zM275.7 141.5l3.8 3.8l-3.8 3.8l-3.8 -3.8zM276.2 136l3.8 3.8l-3.8 3.8l-3.8 -3.8zM276.6 130.2l3.8 3.8l-3.8 3.8l-3.8 -3.8zM277.1 124.3l3.8 3.8l-3.8 3.8l-3.8 -3.8zM277.5 118.6l3.8 3.8l-3.8 3.8l-3.8 -3.8zM278.2 111.8l3.8 3.8l-3.8 3.8l-3.8 -3.8zM278.8 104.9l3.8 3.8l-3.8 3.8l-3.8 -3.8zM279.5 98l3.8 3.8l-3.8 3.8l-3.8 -3.8zM280.2 91.1l3.8 3.8l-3.8 3.8l-3.8 -3.8zM280.9 84.2l3.8 3.8l-3.8 3.8l-3.8 -3.8zM281.6 77.2l3.8 3.8l-3.8 3.8l-3.8 -3.8zM282.3 70.3l3.8 3.8l-3.8 3.8l-3.8 -3.8zM283 63.4l3.8 3.8l-3.8 3.8l-3.8 -3.8zM283.7 56.4l3.8 3.8l-3.8 3.8l-3.8 -3.8zM284.4 49.6l3.8 3.8l-3.8 3.8l-3.8 -3.8zM285.2 42.7l3.8 3.8l-3.8 3.8l-3.8 -3.8zM285.9 35.8l3.8 3.8l-3.8 3.8l-3.8 -3.8zM286.7 29l3.8 3.8l-3.8 3.8l-3.8 -3.8zM287.5 22.1l3.8 3.8l-3.8 3.8l-3.8 -3.8zM288 18l3.8 3.8l-3.8 3.8l-3.8 -3.8z" stroke="#0000ff" stroke-width="1.3" fill="none"/>
<path d="M159 229.6l3.9 7.8h-7.8zM159.5 228.9l3.9 7.8h-7.8zM159.9 228.1l3.9 7.8h-7.8zM160.4 227.3l3.9 7.8h-7.8zM160.8 226.5l3.9 7.8h-7.8zM161.3 225.6l3.9 7.8h-7.8zM161.8 224.7l3.9 7.8h-7.8zM162.2 223.7l3.9 7.8h-7.8zM162.7 222.7l3.9 7.8h-7.8zM163.1 221.6l3.9 7.8h-7.8zM163.6 220.4l3.9 7.8h-7.8zM164.1 219.1l3.9 7.8h-7.8zM164.5 217.7l3.9 7.8h-7.8zM165 216.4l3.9 7.8h-7.8zM165.4 215l3.9 7.8h-7.8zM165.9 213.6l3.9 7.8h-7.8zM166.4 212.2l3.9 7.8h-7.8zM166.8 210.9l3.9 7.8h-7.8zM167.3 209.7l3.9 7.8h-7.8zM167.7 208.5l3.9 7.8h-7.8zM168.2 207.3l3.9 7.8h-7.8zM168.7 206.2l3.9 7.8h-7.8zM169.1 205.1l3.9 7.8h-7.8zM169.6 204l3.9 7.8h-7.8zM170 202.9l3.9 7.8h-7.8zM170.5 201.8l3.9 7.8h-7.8zM171 200.7l3.9 7.8h-7.8zM171.4 199.7l3.9 7.8h-7.8zM171.9 198.7l3.9 7.8h-7.8zM172.3 197.6l3.9 7.8h-7.8zM172.8 196.6l3.9 7.8h-7.8zM173.3 195.6l3.9 7.8h-7.8zM173.7 194.6l3.9 7.8h-7.8zM174.2 193.7l3.9 7.8h-7.8zM174.6 192.7l3.9 7.8h-7.8zM175.1 191.7l3.9 7.8h-7.8zM175.6 190.8l3.9 7.8h-7.8zM176 189.9l3.9 7.8h-7.8zM176.5 188.9l3.9 7.8h-7.8zM176.9 188l3.9 7.8h-7.8zM177.4 187.1l3.9 7.8h-7.8zM177.9 186.2l3.9 7.8h-7.8zM178.3 185.3l3.9 7.8h-7.8zM178.8 184.5l3.9 7.8h-7.8zM179.2 183.6l3.9 7.8h-7.8zM179.7 182.7l3.9 7.8h-7.8zM180.2 181.9l3.9 7.8h-7.8zM180.6 181l3.9 7.8h-7.8zM181.1 180.2l3.9 7.8h-7.8zM181.5 179.3l3.9 7.8h-7.8zM182 178.5l3.9 7.8h-7.8zM182.5 177.6l3.9 7.8h-7.8zM182.9 176.8l3.9 7.8h-7.8zM183.4 176l3.9 7.8h-7.8zM183.8 175.2l3.9 7.8h-7.8zM184.3 174.4l3.9 7.8h-7.8zM184.8 173.6l3.9 7.8h-7.8zM185.2 172.8l3.9 7.8h-7.8zM185.7 172l3.9 7.8h-7.8zM186.1 171.3l3.9 7.8h-7.8zM186.6 170.5l3.9 7.8h-7.8zM187.1 169.7l3.9 7.8h-7.8zM187.5 169l3.9 7.8h-7.8zM188 168.2l3.9 7.8h-7.8zM188.4 167.5l3.9 7.8h-7.8zM188.9 166.7l3.9 7.8h-7.8zM189.4 166l3.9 7.8h-7.8zM189.8 165.2l3.9 7.8h-7.8zM190.3 164.5l3.9 7.8h-7.8zM190.7 163.8l3.9 7.8h-7.8zM191.2 163l3.9 7.8h-7.8zM191.7 162.3l3.9 7.8h-7.8zM192.1 161.6l3.9 7.8h-7.8zM192.6 160.9l3.9 7.8h-7.8zM193 160.2l3.9 7.8h-7.8zM193.5 159.5l3.9 7.8h-7.8zM194 158.8l3.9 7.8h-7.8zM194.4 158.1l3.9 7.8h-7.8zM194.9 157.4l3.9 7.8h-7.8zM195.3 156.7l3.9 7.8h-7.8zM195.8 156l3.9 7.8h-7.8zM196.3 155.3l3.9 7.8h-7.8zM196.7 154.7l3.9 7.8h-7.8zM197.2 154l3.9 7.8h-7.8zM197.6 153.3l3.9 7.8h-7.8zM198.1 152.7l3.9 7.8h-7.8zM198.6 152l3.9 7.8h-7.8zM199 151.3l3.9 7.8h-7.8zM199.5 150.7l3.9 7.8h-7.8zM199.9 150l3.9 7.8h-7.8zM200.4 149.4l3.9 7.8h-7.8zM200.9 148.7l3.9 7.8h-7.8zM201.3 148.1l3.9 7.8h-7.8zM201.8 147.4l3.9 7.8h-7.8zM202.2 146.8l3.9 7.8h-7.8zM202.7 146.2l3.9 7.8h-7.8zM203.2 145.6l3.9 7.8h-7.8zM203.6 144.9l3.9 7.8h-7.8zM204.1 144.3l3.9 7.8h-7.8zM204.5 143.7l3.9 7.8h-7.8zM205 143.1l3.9 7.8h-7.8zM205.5 142.5l3.9 7.8h-7.8zM205.9 141.9l3.9 7.8h-7.8zM206.4 141.3l3.9 7.8h-7.8zM206.8 140.7l3.9 7.8h-7.8zM207.3 140.2l3.9 7.8h-7.8zM207.8 139.6l3.9 7.8h-7.8zM208.2 139l3.9 7.8h-7.8zM208.7 138.5l3.9 7.8h-7.8zM209.1 137.9l3.9 7.8h-7.8zM209.6 137.4l3.9 7.8h-7.8zM210.1 136.9l3.9 7.8h-7.8zM210.5 136.3l3.9 7.8h-7.8zM211 135.8l3.9 7.8h-7.8zM211.4 135.3l3.9 7.8h-7.8zM211.9 134.7l3.9 7.8h-7.8zM212.4 134.2l3.9 7.8h-7.8zM212.8 133.7l3.9 7.8h-7.8zM213.3 133.2l3.9 7.8h-7.8zM213.7 132.7l3.9 7.8h-7.8zM214.2 132.2l3.9 7.8h-7.8zM214.7 131.7l3.9 7.8h-7.8zM215.1 131.2l3.9 7.8h-7.8zM215.6 130.8l3.9 7.8h-7.8zM216 130.3l3.9 7.8h-7.8zM216.5 129.9l3.9 7.8h-7.8zM217 129.5l3.9 7.8h-7.8zM217.4 129.1l3.9 7.8h-7.8zM217.9 128.7l3.9 7.8h-7.8zM218.3 128.3l3.9 7.8h-7.8zM218.8 128l3.9 7.8h-7.8zM219.3 127.6l3.9 7.8h-7.8zM219.7 127.3l3.9 7.8h-7.8zM220.2 126.9l3.9 7.8h-7.8zM220.6 126.6l3.9 7.8h-7.8zM221.1 126.2l3.9 7.8h-7.8zM221.6 125.9l3.9 7.8h-7.8zM222 125.6l3.9 7.8h-7.8zM222.5 125.3l3.9 7.8h-7.8zM222.9 125l3.9 7.8h-7.8zM223.4 124.7l3.9 7.8h-7.8zM223.9 124.4l3.9 7.8h-7.8zM224.3 124.1l3.9 7.8h-7.8zM224.8 123.8l3.9 7.8h-7.8zM225.2 123.5l3.9 7.8h-7.8zM225.7 123.3l3.9 7.8h-7.8zM226.2 123l3.9 7.8h-7.8zM226.6 122.8l3.9 7.8h-7.8zM227.1 122.5l3.9 7.8h-7.8zM227.5 122.3l3.9 7.8h-7.8zM228 122.1l3.9 7.8h-7.8zM228.5 121.9l3.9 7.8h-7.8zM228.9 121.7l3.9 7.8h-7.8zM229.4 121.5l3.9 7.8h-7.8zM229.8 121.3l3.9 7.8h-7.8zM230.3 121l3.9 7.8h-7.8zM230.8 120.8l3.9 7.8h-7.8zM231.2 120.6l3.9 7.8h-7.8zM231.7 120.4l3.9 7.8h-7.8zM232.1 120.2l3.9 7.8h-7.8zM232.6 120l3.9 7.8h-7.8zM233.1 119.8l3.9 7.8h-7.8zM233.5 119.6l3.9 7.8h-7.8zM234 119.4l3.9 7.8h-7.8zM234.4 119.3l3.9 7.8h-7.8zM234.9 119.1l3.9 7.8h-7.8zM235.4 118.9l3.9 7.8h-7.8zM235.8 118.7l3.9 7.8h-7.8zM236.3 118.5l3.9 7.8h-7.8zM236.7 118.4l3.9 7.8h-7.8zM237.2 118.2l3.9 7.8h-7.8zM237.7 118.1l3.9 7.8h-7.8zM238.1 117.9l3.9 7.8h-7.8zM238.6 117.8l3.9 7.8h-7.8zM239 117.6l3.9 7.8h-7.8zM239.5 117.5l3.9 7.8h-7.8zM240 117.4l3.9 7.8h-7.8zM240.4 117.2l3.9 7.8h-7.8zM240.9 117.1l3.9 7.8h-7.8zM241.8 116.9l3.9 7.8h-7.8zM242.8 116.7l3.9 7.8h-7.8zM243.7 116.6l3.9 7.8h-7.8zM244.6 116.5l3.9 7.8h-7.8zM245.6 116.4l3.9 7.8h-7.8zM246.5 116.3l3.9 7.8h-7.8zM247.5 116.2l3.9 7.8h-7.8zM248.4 116.1l3.9 7.8h-7.8zM249.3 116l3.9 7.8h-7.8zM250.3 115.9l3.9 7.8h-7.8zM251.2 115.8l3.9 7.8h-7.8zM252.2 115.7l3.9 7.8h-7.8zM253.1 115.7l3.9 7.8h-7.8zM254 115.6l3.9 7.8h-7.8zM255 115.5l3.9 7.8h-7.8zM255.9 115.5l3.9 7.8h-7.8zM256.9 115.4l3.9 7.8h-7.8zM257.8 115.4l3.9 7.8h-7.8zM258.7 115.4l3.9 7.8h-7.8zM259.7 115.3l3.9 7.8h-7.8zM260.6 115.3l3.9 7.8h-7.8zM261.6 115.2l3.9 7.8h-7.8zM262.5 115.2l3.9 7.8h-7.8zM263.4 115.2l3.9 7.8h-7.8zM264.4 115.2l3.9 7.8h-7.8zM265.3 115.1l3.9 7.8h-7.8zM266.3 115.1l3.9 7.8h-7.8zM267.2 115.1l3.9 7.8h-7.8zM268.1 115.1l3.9 7.8h-7.8zM269.1 115l3.9 7.8h-7.8zM270 115l3.9 7.8h-7.8zM271 115l3.9 7.8h-7.8zM271.9 115l3.9 7.8h-7.8zM272.8 115l3.9 7.8h-7.8zM273.8 115l3.9 7.8h-7.8zM274.7 114.9l3.9 7.8h-7.8zM275.7 114.9l3.9 7.8h-7.8zM276.6 114.9l3.9 7.8h-7.8zM277.5 114.9l3.9 7.8h-7.8zM278.5 114.9l3.9 7.8h-7.8zM279.4 114.8l3.9 7.8h-7.8zM280.4 114.8l3.9 7.8h-7.8zM281.3 114.8l3.9 7.8h-7.8zM282.2 114.8l3.9 7.8h-7.8zM283.2 114.8l3.9 7.8h-7.8zM284.1 114.7l3.9 7.8h-7.8zM285.1 114.7l3.9 7.8h-7.8zM286 114.7l3.9 7.8h-7.8zM286.9 114.6l3.9 7.8h-7.8zM287.9 114.6l3.9 7.8h-7.8zM288.8 114.6l3.9 7.8h-7.8zM289.8 114.6l3.9 7.8h-7.8zM290.7 114.5l3.9 7.8h-7.8zM291.6 114.5l3.9 7.8h-7.8zM292.6 114.4l3.9 7.8h-7.8zM293.5 114.3l3.9 7.8h-7.8zM294.5 114.2l3.9 7.8h-7.8zM295.4 114l3.9 7.8h-7.8zM296.3 113.6l3.9 7.8h-7.8zM297.3 113l3.9 7.8h-7.8zM298.2 112.4l3.9 7.8h-7.8zM299.2 111.6l3.9 7.8h-7.8zM300.1 110.4l3.9 7.8h-7.8zM301 108.8l3.9 7.8h-7.8zM302 107.1l3.9 7.8h-7.8zM302.9 105.4l3.9 7.8h-7.8zM303.9 103.4l3.9 7.8h-7.8zM304.8 101l3.9 7.8h-7.8zM305.7 97.9l3.9 7.8h-7.8zM306.7 94l3.9 7.8h-7.8zM307.6 89.4l3.9 7.8h-7.8zM308.6 84.5l3.9 7.8h-7.8zM309.5 79.3l3.9 7.8h-7.8zM310.4 73.7l3.9 7.8h-7.8zM311.4 67.6l3.9 7.8h-7.8zM312.3 61.1l3.9 7.8h-7.8zM313.3 54.1l3.9 7.8h-7.8zM314.2 46.6l3.9 7.8h-7.8zM315.1 38.7l3.9 7.8h-7.8zM316 30.9l3.9 7.8h-7.8zM316.8 23.1l3.9 7.8h-7.8zM317.3 18.1l3.9 7.8h-7.8z" fill="#8000ff"/>
<path d="M158.6 233L159.5 233L160.4 233L161.4 233L162.3 233L163.2 233L164.1 233L165 233L166 233L166.9 233L167.8 233L168.7 233L169.6 233L170.6 233L171.5 233L172.4 233L173.3 233L174.2 233L175.2 233L176.1 233L177 233L177.9 233L178.8 233L179.8 233L180.7 233L181.6 233L182.5 233L183.4 233L184.4 233L185.3 233L186.2 233L187.1 233L188 233L189 233L189.9 233L190.8 232.8L191.7 231.7L192.6 230L193.6 228.2L194.5 226.7L195.4 225.4L196.3 224.1L197.2 222.8L198.2 221.4L199.1 220.1L200 218.7L200.9 217.2L201.8 215.8L202.8 214.5L203.7 213.4L204.6 212.4L205.5 211.4L206.4 210.6L207.4 209.9L208.3 209.3L209.2 208.7L210.1 208.2L211 207.7L212 207.3L212.9 207L213.8 206.7L214.7 206.5L215.6 206.3L216.6 206.1L217.5 206L218.4 205.9L219.3 205.8L220.2 205.8L221.2 206L222.1 206.3L223 206.7L223.9 207.1L224.8 207.6L225.8 208.2L226.7 208.6L227.6 209.1L228.5 209.6L229.4 210.2L230.4 210.7L231.3 211.3L232.2 211.8L233.1 212.4L234 212.8L235 213.2L235.9 213.7L236.8 214.1L237.7 214.5L238.6 214.8L239.6 215.2L240.5 215.5L241.4 215.7L242.3 216L243.2 216.2L244.2 216.4L245.1 216.6L246 216.7L246.9 216.8L247.8 216.7L248.8 216.6L249.7 216.3L250.6 216L251.5 215.7L252.4 215.3L253.4 215L254.3 214.7L255.2 214.3L256.1 213.8L257 213.2L258 212.5L258.9 211.6L259.8 210.1L260.7 208.4L261.6 206.4L262.6 204.3L263.5 202L264.4 199.3L265.3 196.3L266.2 193.2L267.2 190.2L268.1 186.8L268.5 185" stroke="#858500" stroke-width="3.6" fill="none" stroke-linejoin="round"/>
<path d="M158.6 230.1l2.9 5.8h-5.8zM159.1 230.1l2.9 5.8h-5.8zM159.5 230.1l2.9 5.8h-5.8zM160 230.1l2.9 5.8h-5.8zM160.4 230.1l2.9 5.8h-5.8zM160.9 230.1l2.9 5.8h-5.8zM161.4 230.1l2.9 5.8h-5.8zM161.8 230.1l2.9 5.8h-5.8zM162.3 230.1l2.9 5.8h-5.8zM162.7 230.1l2.9 5.8h-5.8zM163.2 230.1l2.9 5.8h-5.8zM163.7 230.1l2.9 5.8h-5.8zM164.1 230.1l2.9 5.8h-5.8zM164.6 230.1l2.9 5.8h-5.8zM165 230.1l2.9 5.8h-5.8zM165.5 230.1l2.9 5.8h-5.8zM166 230.1l2.9 5.8h-5.8zM166.4 230.1l2.9 5.8h-5.8zM166.9 230.1l2.9 5.8h-5.8zM167.3 230.1l2.9 5.8h-5.8zM167.8 230.1l2.9 5.8h-5.8zM168.3 230.1l2.9 5.8h-5.8zM168.7 230.1l2.9 5.8h-5.8zM169.2 230.1l2.9 5.8h-5.8zM169.6 230.1l2.9 5.8h-5.8zM170.1 230.1l2.9 5.8h-5.8zM170.6 230.1l2.9 5.8h-5.8zM171 230.1l2.9 5.8h-5.8zM171.5 230.1l2.9 5.8h-5.8zM171.9 230.1l2.9 5.8h-5.8zM172.4 230.1l2.9 5.8h-5.8zM172.9 230.1l2.9 5.8h-5.8zM173.3 230.1l2.9 5.8h-5.8zM173.8 230.1l2.9 5.8h-5.8zM174.2 230.1l2.9 5.8h-5.8zM174.7 230.1l2.9 5.8h-5.8zM175.2 230.1l2.9 5.8h-5.8zM175.6 230.1l2.9 5.8h-5.8zM176.1 230.1l2.9 5.8h-5.8zM176.5 230.1l2.9 5.8h-5.8zM177 230.1l2.9 5.8h-5.8zM177.5 230.1l2.9 5.8h-5.8zM177.9 230.1l2.9 5.8h-5.8zM178.4 230.1l2.9 5.8h-5.8zM178.8 230.1l2.9 5.8h-5.8zM179.3 230.1l2.9 5.8h-5.8zM179.8 230.1l2.9 5.8h-5.8zM180.2 230.1l2.9 5.8h-5.8zM180.7 230.1l2.9 5.8h-5.8zM181.1 230.1l2.9 5.8h-5.8zM181.6 230.1l2.9 5.8h-5.8zM182.1 230.1l2.9 5.8h-5.8zM182.5 230.1l2.9 5.8h-5.8zM183 230.1l2.9 5.8h-5.8zM183.4 230.1l2.9 5.8h-5.8zM183.9 230.1l2.9 5.8h-5.8zM184.4 230.1l2.9 5.8h-5.8zM184.8 230.1l2.9 5.8h-5.8zM185.3 230.1l2.9 5.8h-5.8zM185.7 230.1l2.9 5.8h-5.8zM186.2 230.1l2.9 5.8h-5.8zM186.7 230.1l2.9 5.8h-5.8zM187.1 230.1l2.9 5.8h-5.8zM187.6 230.1l2.9 5.8h-5.8zM188 230.1l2.9 5.8h-5.8zM188.5 230.1l2.9 5.8h-5.8zM189 230.1l2.9 5.8h-5.8zM189.4 230.1l2.9 5.8h-5.8zM189.9 230.1l2.9 5.8h-5.8zM190.3 230.1l2.9 5.8h-5.8zM190.8 229.9l2.9 5.8h-5.8zM191.3 229.4l2.9 5.8h-5.8zM191.7 228.8l2.9 5.8h-5.8zM192.2 228l2.9 5.8h-5.8zM192.6 227.1l2.9 5.8h-5.8zM193.1 226.2l2.9 5.8h-5.8zM193.6 225.3l2.9 5.8h-5.8zM194 224.5l2.9 5.8h-5.8zM194.5 223.8l2.9 5.8h-5.8zM194.9 223.2l2.9 5.8h-5.8zM195.4 222.5l2.9 5.8h-5.8zM195.9 221.8l2.9 5.8h-5.8zM196.3 221.2l2.9 5.8h-5.8zM196.8 220.5l2.9 5.8h-5.8zM197.2 219.9l2.9 5.8h-5.8zM197.7 219.2l2.9 5.8h-5.8zM198.2 218.5l2.9 5.8h-5.8zM198.6 217.9l2.9 5.8h-5.8zM199.1 217.2l2.9 5.8h-5.8zM199.5 216.5l2.9 5.8h-5.8zM200 215.8l2.9 5.8h-5.8zM200.5 215l2.9 5.8h-5.8zM200.9 214.3l2.9 5.8h-5.8zM201.4 213.6l2.9 5.8h-5.8zM201.8 212.9l2.9 5.8h-5.8zM202.3 212.2l2.9 5.8h-5.8zM202.8 211.6l2.9 5.8h-5.8zM203.2 211l2.9 5.8h-5.8zM203.7 210.5l2.9 5.8h-5.8zM204.1 210l2.9 5.8h-5.8zM204.6 209.5l2.9 5.8h-5.8zM205.1 209l2.9 5.8h-5.8zM205.5 208.5l2.9 5.8h-5.8zM206 208.1l2.9 5.8h-5.8zM206.4 207.7l2.9 5.8h-5.8zM206.9 207.3l2.9 5.8h-5.8zM207.4 207l2.9 5.8h-5.8zM207.8 206.7l2.9 5.8h-5.8zM208.3 206.4l2.9 5.8h-5.8zM208.7 206.1l2.9 5.8h-5.8zM209.2 205.8l2.9 5.8h-5.8zM209.7 205.5l2.9 5.8h-5.8zM210.1 205.3l2.9 5.8h-5.8zM210.6 205l2.9 5.8h-5.8zM211 204.8l2.9 5.8h-5.8zM211.5 204.6l2.9 5.8h-5.8zM212 204.4l2.9 5.8h-5.8zM212.4 204.2l2.9 5.8h-5.8zM212.9 204.1l2.9 5.8h-5.8zM213.3 203.9l2.9 5.8h-5.8zM213.8 203.8l2.9 5.8h-5.8zM214.3 203.7l2.9 5.8h-5.8zM214.7 203.6l2.9 5.8h-5.8zM215.2 203.5l2.9 5.8h-5.8zM215.6 203.4l2.9 5.8h-5.8zM216.1 203.3l2.9 5.8h-5.8zM216.6 203.2l2.9 5.8h-5.8zM217 203.1l2.9 5.8h-5.8zM217.5 203.1l2.9 5.8h-5.8zM217.9 203l2.9 5.8h-5.8zM218.4 203l2.9 5.8h-5.8zM218.9 202.9l2.9 5.8h-5.8zM219.3 202.9l2.9 5.8h-5.8zM219.8 202.9l2.9 5.8h-5.8zM220.2 202.9l2.9 5.8h-5.8zM220.7 203l2.9 5.8h-5.8zM221.2 203.1l2.9 5.8h-5.8zM221.6 203.2l2.9 5.8h-5.8zM222.1 203.4l2.9 5.8h-5.8zM222.5 203.6l2.9 5.8h-5.8zM223 203.8l2.9 5.8h-5.8zM223.5 204l2.9 5.8h-5.8zM223.9 204.2l2.9 5.8h-5.8zM224.4 204.5l2.9 5.8h-5.8zM224.8 204.7l2.9 5.8h-5.8zM225.3 205l2.9 5.8h-5.8zM225.8 205.3l2.9 5.8h-5.8zM226.2 205.5l2.9 5.8h-5.8zM226.7 205.7l2.9 5.8h-5.8zM227.1 206l2.9 5.8h-5.8zM227.6 206.2l2.9 5.8h-5.8zM228.1 206.5l2.9 5.8h-5.8zM228.5 206.7l2.9 5.8h-5.8zM229 207l2.9 5.8h-5.8zM229.4 207.3l2.9 5.8h-5.8zM229.9 207.5l2.9 5.8h-5.8zM230.4 207.8l2.9 5.8h-5.8zM230.8 208.1l2.9 5.8h-5.8zM231.3 208.4l2.9 5.8h-5.8zM231.7 208.7l2.9 5.8h-5.8zM232.2 208.9l2.9 5.8h-5.8zM232.7 209.2l2.9 5.8h-5.8zM233.1 209.5l2.9 5.8h-5.8zM233.6 209.7l2.9 5.8h-5.8zM234 209.9l2.9 5.8h-5.8zM234.5 210.1l2.9 5.8h-5.8zM235 210.3l2.9 5.8h-5.8zM235.4 210.6l2.9 5.8h-5.8zM235.9 210.8l2.9 5.8h-5.8zM236.3 211l2.9 5.8h-5.8zM236.8 211.2l2.9 5.8h-5.8zM237.3 211.4l2.9 5.8h-5.8zM237.7 211.6l2.9 5.8h-5.8zM238.2 211.8l2.9 5.8h-5.8zM238.6 211.9l2.9 5.8h-5.8zM239.1 212.1l2.9 5.8h-5.8zM239.6 212.3l2.9 5.8h-5.8zM240 212.4l2.9 5.8h-5.8zM240.5 212.6l2.9 5.8h-5.8zM240.9 212.7l2.9 5.8h-5.8zM241.4 212.8l2.9 5.8h-5.8zM241.9 212.9l2.9 5.8h-5.8zM242.3 213.1l2.9 5.8h-5.8zM242.8 213.2l2.9 5.8h-5.8zM243.2 213.3l2.9 5.8h-5.8zM243.7 213.4l2.9 5.8h-5.8zM244.2 213.5l2.9 5.8h-5.8zM244.6 213.6l2.9 5.8h-5.8zM245.1 213.7l2.9 5.8h-5.8zM245.5 213.8l2.9 5.8h-5.8zM246 213.8l2.9 5.8h-5.8zM246.5 213.9l2.9 5.8h-5.8zM246.9 213.9l2.9 5.8h-5.8zM247.4 213.9l2.9 5.8h-5.8zM247.8 213.8l2.9 5.8h-5.8zM248.3 213.8l2.9 5.8h-5.8zM248.8 213.7l2.9 5.8h-5.8zM249.2 213.5l2.9 5.8h-5.8zM249.7 213.4l2.9 5.8h-5.8zM250.1 213.3l2.9 5.8h-5.8zM250.6 213.1l2.9 5.8h-5.8zM251.1 212.9l2.9 5.8h-5.8zM251.5 212.8l2.9 5.8h-5.8zM252 212.6l2.9 5.8h-5.8zM252.4 212.4l2.9 5.8h-5.8zM252.9 212.3l2.9 5.8h-5.8zM253.4 212.1l2.9 5.8h-5.8zM253.8 211.9l2.9 5.8h-5.8zM254.3 211.8l2.9 5.8h-5.8zM254.7 211.6l2.9 5.8h-5.8zM255.2 211.4l2.9 5.8h-5.8zM255.7 211.1l2.9 5.8h-5.8zM256.1 210.9l2.9 5.8h-5.8zM256.6 210.6l2.9 5.8h-5.8zM257 210.3l2.9 5.8h-5.8zM257.5 210l2.9 5.8h-5.8zM258 209.6l2.9 5.8h-5.8zM258.4 209.2l2.9 5.8h-5.8zM258.9 208.7l2.9 5.8h-5.8zM259.3 208l2.9 5.8h-5.8zM259.8 207.2l2.9 5.8h-5.8zM260.3 206.4l2.9 5.8h-5.8zM260.7 205.5l2.9 5.8h-5.8zM261.2 204.5l2.9 5.8h-5.8zM261.6 203.5l2.9 5.8h-5.8zM262.1 202.5l2.9 5.8h-5.8zM262.6 201.4l2.9 5.8h-5.8zM263 200.3l2.9 5.8h-5.8zM263.5 199.1l2.9 5.8h-5.8zM263.9 197.8l2.9 5.8h-5.8zM264.4 196.4l2.9 5.8h-5.8zM264.9 194.9l2.9 5.8h-5.8zM265.3 193.4l2.9 5.8h-5.8zM265.8 191.8l2.9 5.8h-5.8zM266.2 190.3l2.9 5.8h-5.8zM266.7 188.8l2.9 5.8h-5.8zM267.2 187.3l2.9 5.8h-5.8zM267.6 185.7l2.9 5.8h-5.8zM268.1 183.9l2.9 5.8h-5.8zM268.5 182.1l2.9 5.8h-5.8zM269 180l2.9 5.8h-5.8zM269.5 177.7l2.9 5.8h-5.8zM269.9 174.9l2.9 5.8h-5.8zM270.4 171.8l2.9 5.8h-5.8zM270.8 168.5l2.9 5.8h-5.8zM271.3 165.4l2.9 5.8h-5.8zM271.8 162.5l2.9 5.8h-5.8zM272.2 159.9l2.9 5.8h-5.8zM272.7 157.3l2.9 5.8h-5.8zM273.1 154.7l2.9 5.8h-5.8zM273.6 151.9l2.9 5.8h-5.8zM274.1 148.7l2.9 5.8h-5.8zM274.5 144.9l2.9 5.8h-5.8zM275 140.6l2.9 5.8h-5.8zM275.4 136l2.9 5.8h-5.8zM275.9 131.2l2.9 5.8h-5.8zM276.4 126.3l2.9 5.8h-5.8zM276.8 121.4l2.9 5.8h-5.8zM277.5 114.5l2.9 5.8h-5.8zM278.2 107.6l2.9 5.8h-5.8zM278.9 100.7l2.9 5.8h-5.8zM279.7 93.7l2.9 5.8h-5.8zM280.4 86.9l2.9 5.8h-5.8zM281.1 80l2.9 5.8h-5.8zM281.9 73.1l2.9 5.8h-5.8zM282.6 66.2l2.9 5.8h-5.8zM283.4 59.3l2.9 5.8h-5.8zM284.2 52.4l2.9 5.8h-5.8zM285 45.5l2.9 5.8h-5.8zM285.8 38.6l2.9 5.8h-5.8zM286.5 31.7l2.9 5.8h-5.8zM287.3 24.9l2.9 5.8h-5.8zM288 18.9l2.9 5.8h-5.8z" stroke="#858500" stroke-width="1.3" fill="none"/>
</g>
<clipPath id="cb"><rect x="386.6" y="0" width="340" height="269"/></clipPath>
<g id="panelB" clip-path="url(#cb)">
<path d="M385 188h0M386.5 188.2h0M388 188.4h0M389.5 188.6h0M391 188.8h0M392.5 189h0M394 189.1h0M395.5 189.3h0M397 189.5h0M398.5 189.7h0M400 189.9h0M401.5 190.1h0M403 190.3h0M404.5 190.5h0M406 190.7h0M407.5 190.9h0M409 191h0M410.5 191.2h0M412 191.4h0M413.5 191.6h0M415 191.8h0M416.5 192h0M418 192.2h0M419.5 192.4h0M421 192.6h0M422.5 192.8h0M424 193h0M425.5 193.2h0M427 193.4h0M428.5 193.6h0M430 193.8h0M431.5 194h0M433 194.2h0M434.5 194.3h0M436 194.5h0M437.5 194.7h0M439 194.9h0M440.5 195.1h0M442 195.2h0M443.5 195.4h0M445 195.6h0M446.5 195.7h0M448 195.9h0M449.5 196h0M451 196.2h0M452.5 196.3h0M454 196.5h0M455.5 196.6h0M457 196.8h0M458.5 196.9h0M460 197h0M461.5 197.2h0M463 197.3h0M464.5 197.5h0M466 197.6h0M467.5 197.8h0M469 198h0M470.5 198.1h0M472 198.3h0M473.5 198.5h0M475 198.7h0M476.5 198.8h0M478 199h0M479.5 199.3h0M481 199.5h0M482.5 199.7h0M484 199.9h0M485.5 200.1h0M487 200.4h0M488.5 200.6h0M490 200.8h0M491.5 201.1h0M493 201.3h0M494.5 201.6h0M496 201.8h0M497.5 202.1h0M499 202.3h0M500.5 202.6h0M502 203h0M503.5 203.3h0M505 203.6h0M506.5 203.9h0M508 204.3h0M509.5 204.6h0M511 204.9h0M512.5 205.2h0M514 205.5h0M515.5 205.8h0M517 206h0M518.5 206.2h0M520 206.4h0M521.5 206.6h0M523 206.7h0M524.5 206.8h0M526 206.9h0M527.5 207h0M529 207.1h0M530.5 207.2h0M532 207.3h0M533.5 207.3h0M535 207.4h0M536.5 207.5h0M538 207.5h0M539.5 207.6h0M541 207.6h0M542.5 207.6h0M544 207.6h0M545.5 207.5h0M547 207.4h0M548.5 207.3h0M550 207.2h0M551.5 207.1h0M553 206.9h0M554.5 206.8h0M556 206.7h0M557.5 206.6h0M559 206.5h0M560.5 206.5h0M562 206.5h0M563.5 206.5h0M565 206.5h0M566.5 206.5h0M568 206.5h0M569.5 206.5h0M571 206.5h0M572.5 206.5h0M574 206.5h0M575.5 206.5h0M577 206.5h0M578.5 206.5h0M580 206.4h0M581.5 206.3h0M583 206.1h0M584.5 205.9h0M586 205.6h0M587.5 205.3h0M589 205h0M590.5 204.7h0M592 204.4h0M593.5 204h0M595 203.7h0M596.5 203.4h0M598 203h0M599.5 202.6h0M601 202.2h0M602.5 201.8h0M604 201.3h0M605.5 200.8h0M607 200.4h0M608.5 199.9h0M610 199.4h0M611.5 198.9h0M613 198.1h0M614.5 197.1h0M616 195.7h0M617.5 194.1h0M619 192.5h0M620.5 191h0M622 189.7h0M623.5 188.5h0M625 187.4h0M626.5 186.4h0M628 185.3h0M629.5 184.3h0M631 183.4h0M632.5 182.2h0M634 180.8h0M635.5 178.3h0M637 175.2h0M638.5 171.9h0M640 168.2h0M641.5 164.6h0M643 161.6h0M644.5 158.8h0M646 156.2h0M647.5 153.9h0M649 151.7h0M650.5 149.5h0M652 147.3h0M653.5 145.1h0M655 143h0M656.5 140.9h0M658 138.9h0M659.5 137h0M661 135h0M662.5 132.8h0M664 130.4h0M665.5 127.9h0M667 125.5h0M668.5 123.2h0M670 120.9h0M671.5 118.2h0M673 115.7h0M674.5 113.3h0M676 111.1h0M677.5 109h0M679 107h0M680.5 105.3h0M682 103.7h0M683.5 101.9h0M685 99.9h0M686.5 97.8h0M688 95.6h0M689.5 93.4h0M691 91.2h0M692.5 89.1h0M694 87h0M695.5 85.1h0M697 83.5h0M698.5 82h0M700 80.6h0M701.5 79.2h0M703 77.9h0M704.5 76.6h0M706 75.3h0M707.5 73.9h0M709 72.6h0M710.5 71.3h0M712 70h0M713.5 68.7h0M715 67.4h0M716.5 66.1h0M718 64.8h0M718.6 64.3h0" stroke="#ff0000" stroke-width="6.9" stroke-linecap="round" fill="none"/>
<path d="M385 175.7l4.8 4.8l-4.8 4.8l-4.8 -4.8zM386 175.7l4.8 4.8l-4.8 4.8l-4.8 -4.8zM387 175.8l4.8 4.8l-4.8 4.8l-4.8 -4.8zM388 175.8l4.8 4.8l-4.8 4.8l-4.8 -4.8zM389 175.9l4.8 4.8l-4.8 4.8l-4.8 -4.8zM390 176l4.8 4.8l-4.8 4.8l-4.8 -4.8zM391 176.1l4.8 4.8l-4.8 4.8l-4.8 -4.8zM392 176.3l4.8 4.8l-4.8 4.8l-4.8 -4.8zM393 176.4l4.8 4.8l-4.8 4.8l-4.8 -4.8zM394 176.6l4.8 4.8l-4.8 4.8l-4.8 -4.8zM395 176.7l4.8 4.8l-4.8 4.8l-4.8 -4.8zM396 176.9l4.8 4.8l-4.8 4.8l-4.8 -4.8zM397 177.2l4.8 4.8l-4.8 4.8l-4.8 -4.8zM398 177.5l4.8 4.8l-4.8 4.8l-4.8 -4.8zM399 177.9l4.8 4.8l-4.8 4.8l-4.8 -4.8zM400 178.3l4.8 4.8l-4.8 4.8l-4.8 -4.8zM401 178.7l4.8 4.8l-4.8 4.8l-4.8 -4.8zM402 179.1l4.8 4.8l-4.8 4.8l-4.8 -4.8zM403 179.4l4.8 4.8l-4.8 4.8l-4.8 -4.8zM404 179.7l4.8 4.8l-4.8 4.8l-4.8 -4.8zM405 179.8l4.8 4.8l-4.8 4.8l-4.8 -4.8zM406 179.9l4.8 4.8l-4.8 4.8l-4.8 -4.8zM407 179.9l4.8 4.8l-4.8 4.8l-4.8 -4.8zM408 179.7l4.8 4.8l-4.8 4.8l-4.8 -4.8zM409 179.6l4.8 4.8l-4.8 4.8l-4.8 -4.8zM410 179.3l4.8 4.8l-4.8 4.8l-4.8 -4.8zM411 179l4.8 4.8l-4.8 4.8l-4.8 -4.8zM412 178.8l4.8 4.8l-4.8 4.8l-4.8 -4.8zM413 178.5l4.8 4.8l-4.8 4.8l-4.8 -4.8zM414 178.2l4.8 4.8l-4.8 4.8l-4.8 -4.8zM415 177.9l4.8 4.8l-4.8 4.8l-4.8 -4.8zM416 177.7l4.8 4.8l-4.8 4.8l-4.8 -4.8zM417 177.5l4.8 4.8l-4.8 4.8l-4.8 -4.8zM418 177.3l4.8 4.8l-4.8 4.8l-4.8 -4.8zM419 177l4.8 4.8l-4.8 4.8l-4.8 -4.8zM420 176.8l4.8 4.8l-4.8 4.8l-4.8 -4.8zM421 176.5l4.8 4.8l-4.8 4.8l-4.8 -4.8zM422 176.3l4.8 4.8l-4.8 4.8l-4.8 -4.8zM423 176.1l4.8 4.8l-4.8 4.8l-4.8 -4.8zM424 175.9l4.8 4.8l-4.8 4.8l-4.8 -4.8zM425 175.8l4.8 4.8l-4.8 4.8l-4.8 -4.8zM426 175.7l4.8 4.8l-4.8 4.8l-4.8 -4.8zM427 175.7l4.8 4.8l-4.8 4.8l-4.8 -4.8zM428 175.7l4.8 4.8l-4.8 4.8l-4.8 -4.8zM429 175.7l4.8 4.8l-4.8 4.8l-4.8 -4.8zM430 175.7l4.8 4.8l-4.8 4.8l-4.8 -4.8zM431 175.8l4.8 4.8l-4.8 4.8l-4.8 -4.8zM432 175.8l4.8 4.8l-4.8 4.8l-4.8 -4.8zM433 175.8l4.8 4.8l-4.8 4.8l-4.8 -4.8zM434 175.9l4.8 4.8l-4.8 4.8l-4.8 -4.8zM435 176l4.8 4.8l-4.8 4.8l-4.8 -4.8zM436 176l4.8 4.8l-4.8 4.8l-4.8 -4.8zM437 176.1l4.8 4.8l-4.8 4.8l-4.8 -4.8zM438 176.1l4.8 4.8l-4.8 4.8l-4.8 -4.8zM439 176.2l4.8 4.8l-4.8 4.8l-4.8 -4.8zM440 176.3l4.8 4.8l-4.8 4.8l-4.8 -4.8zM441 176.4l4.8 4.8l-4.8 4.8l-4.8 -4.8zM442 176.5l4.8 4.8l-4.8 4.8l-4.8 -4.8zM443 176.5l4.8 4.8l-4.8 4.8l-4.8 -4.8zM444 176.7l4.8 4.8l-4.8 4.8l-4.8 -4.8zM445 176.8l4.8 4.8l-4.8 4.8l-4.8 -4.8zM446 177l4.8 4.8l-4.8 4.8l-4.8 -4.8zM447 177.2l4.8 4.8l-4.8 4.8l-4.8 -4.8zM448 177.5l4.8 4.8l-4.8 4.8l-4.8 -4.8zM449 177.7l4.8 4.8l-4.8 4.8l-4.8 -4.8zM450 178l4.8 4.8l-4.8 4.8l-4.8 -4.8zM451 178.2l4.8 4.8l-4.8 4.8l-4.8 -4.8zM452 178.5l4.8 4.8l-4.8 4.8l-4.8 -4.8zM453 178.8l4.8 4.8l-4.8 4.8l-4.8 -4.8zM454 179.1l4.8 4.8l-4.8 4.8l-4.8 -4.8zM455 179.4l4.8 4.8l-4.8 4.8l-4.8 -4.8zM456 179.6l4.8 4.8l-4.8 4.8l-4.8 -4.8zM457 179.9l4.8 4.8l-4.8 4.8l-4.8 -4.8zM458 180.1l4.8 4.8l-4.8 4.8l-4.8 -4.8zM459 180.4l4.8 4.8l-4.8 4.8l-4.8 -4.8zM460 180.5l4.8 4.8l-4.8 4.8l-4.8 -4.8zM461 180.7l4.8 4.8l-4.8 4.8l-4.8 -4.8zM462 180.8l4.8 4.8l-4.8 4.8l-4.8 -4.8zM463 181l4.8 4.8l-4.8 4.8l-4.8 -4.8zM464 181.1l4.8 4.8l-4.8 4.8l-4.8 -4.8zM465 181.2l4.8 4.8l-4.8 4.8l-4.8 -4.8zM466 181.2l4.8 4.8l-4.8 4.8l-4.8 -4.8zM467 181.3l4.8 4.8l-4.8 4.8l-4.8 -4.8zM468 181.5l4.8 4.8l-4.8 4.8l-4.8 -4.8zM469 181.6l4.8 4.8l-4.8 4.8l-4.8 -4.8zM470 181.7l4.8 4.8l-4.8 4.8l-4.8 -4.8zM471 181.8l4.8 4.8l-4.8 4.8l-4.8 -4.8zM472 182l4.8 4.8l-4.8 4.8l-4.8 -4.8zM473 182.2l4.8 4.8l-4.8 4.8l-4.8 -4.8zM474 182.3l4.8 4.8l-4.8 4.8l-4.8 -4.8zM475 182.5l4.8 4.8l-4.8 4.8l-4.8 -4.8zM476 182.7l4.8 4.8l-4.8 4.8l-4.8 -4.8zM477 182.9l4.8 4.8l-4.8 4.8l-4.8 -4.8zM478 183.1l4.8 4.8l-4.8 4.8l-4.8 -4.8zM479 183.3l4.8 4.8l-4.8 4.8l-4.8 -4.8zM480 183.5l4.8 4.8l-4.8 4.8l-4.8 -4.8zM481 183.7l4.8 4.8l-4.8 4.8l-4.8 -4.8zM482 184l4.8 4.8l-4.8 4.8l-4.8 -4.8zM483 184.2l4.8 4.8l-4.8 4.8l-4.8 -4.8zM484 184.5l4.8 4.8l-4.8 4.8l-4.8 -4.8zM485 184.7l4.8 4.8l-4.8 4.8l-4.8 -4.8zM486 185l4.8 4.8l-4.8 4.8l-4.8 -4.8zM487 185.3l4.8 4.8l-4.8 4.8l-4.8 -4.8zM488 185.6l4.8 4.8l-4.8 4.8l-4.8 -4.8zM489 185.8l4.8 4.8l-4.8 4.8l-4.8 -4.8zM490 186.2l4.8 4.8l-4.8 4.8l-4.8 -4.8zM491 186.5l4.8 4.8l-4.8 4.8l-4.8 -4.8zM492 186.8l4.8 4.8l-4.8 4.8l-4.8 -4.8zM493 187.2l4.8 4.8l-4.8 4.8l-4.8 -4.8zM494 187.6l4.8 4.8l-4.8 4.8l-4.8 -4.8zM495 188l4.8 4.8l-4.8 4.8l-4.8 -4.8zM496 188.5l4.8 4.8l-4.8 4.8l-4.8 -4.8zM497 188.9l4.8 4.8l-4.8 4.8l-4.8 -4.8zM498 189.4l4.8 4.8l-4.8 4.8l-4.8 -4.8zM499 189.9l4.8 4.8l-4.8 4.8l-4.8 -4.8zM500 190.4l4.8 4.8l-4.8 4.8l-4.8 -4.8zM501 190.9l4.8 4.8l-4.8 4.8l-4.8 -4.8zM502 191.4l4.8 4.8l-4.8 4.8l-4.8 -4.8zM503 192l4.8 4.8l-4.8 4.8l-4.8 -4.8zM504 192.6l4.8 4.8l-4.8 4.8l-4.8 -4.8zM505 193.3l4.8 4.8l-4.8 4.8l-4.8 -4.8zM506 194l4.8 4.8l-4.8 4.8l-4.8 -4.8zM507 194.7l4.8 4.8l-4.8 4.8l-4.8 -4.8zM508 195.4l4.8 4.8l-4.8 4.8l-4.8 -4.8zM509 196.2l4.8 4.8l-4.8 4.8l-4.8 -4.8zM510 197l4.8 4.8l-4.8 4.8l-4.8 -4.8zM511 197.9l4.8 4.8l-4.8 4.8l-4.8 -4.8zM512 198.9l4.8 4.8l-4.8 4.8l-4.8 -4.8zM513 199.9l4.8 4.8l-4.8 4.8l-4.8 -4.8zM514 200.9l4.8 4.8l-4.8 4.8l-4.8 -4.8zM515 201.8l4.8 4.8l-4.8 4.8l-4.8 -4.8zM516 202.7l4.8 4.8l-4.8 4.8l-4.8 -4.8zM517 203.5l4.8 4.8l-4.8 4.8l-4.8 -4.8zM518 204.2l4.8 4.8l-4.8 4.8l-4.8 -4.8zM519 204.9l4.8 4.8l-4.8 4.8l-4.8 -4.8zM520 205.6l4.8 4.8l-4.8 4.8l-4.8 -4.8zM521 206.3l4.8 4.8l-4.8 4.8l-4.8 -4.8zM522 206.9l4.8 4.8l-4.8 4.8l-4.8 -4.8zM523 207.5l4.8 4.8l-4.8 4.8l-4.8 -4.8zM524 208.2l4.8 4.8l-4.8 4.8l-4.8 -4.8zM525 208.8l4.8 4.8l-4.8 4.8l-4.8 -4.8zM526 209.4l4.8 4.8l-4.8 4.8l-4.8 -4.8zM527 209.9l4.8 4.8l-4.8 4.8l-4.8 -4.8zM528 210.5l4.8 4.8l-4.8 4.8l-4.8 -4.8zM529 211.1l4.8 4.8l-4.8 4.8l-4.8 -4.8zM530 211.6l4.8 4.8l-4.8 4.8l-4.8 -4.8zM531 212.2l4.8 4.8l-4.8 4.8l-4.8 -4.8zM532 212.7l4.8 4.8l-4.8 4.8l-4.8 -4.8zM533 213.3l4.8 4.8l-4.8 4.8l-4.8 -4.8zM534 213.8l4.8 4.8l-4.8 4.8l-4.8 -4.8zM535 214.4l4.8 4.8l-4.8 4.8l-4.8 -4.8zM536 215l4.8 4.8l-4.8 4.8l-4.8 -4.8zM537 215.5l4.8 4.8l-4.8 4.8l-4.8 -4.8zM538 216.1l4.8 4.8l-4.8 4.8l-4.8 -4.8zM539 216.6l4.8 4.8l-4.8 4.8l-4.8 -4.8zM540 217.1l4.8 4.8l-4.8 4.8l-4.8 -4.8zM541 217.7l4.8 4.8l-4.8 4.8l-4.8 -4.8zM542 218.2l4.8 4.8l-4.8 4.8l-4.8 -4.8zM543 218.7l4.8 4.8l-4.8 4.8l-4.8 -4.8zM544 219.1l4.8 4.8l-4.8 4.8l-4.8 -4.8zM545 219.6l4.8 4.8l-4.8 4.8l-4.8 -4.8zM546 220l4.8 4.8l-4.8 4.8l-4.8 -4.8zM547 220.4l4.8 4.8l-4.8 4.8l-4.8 -4.8zM548 220.8l4.8 4.8l-4.8 4.8l-4.8 -4.8zM549 221.2l4.8 4.8l-4.8 4.8l-4.8 -4.8zM550 221.5l4.8 4.8l-4.8 4.8l-4.8 -4.8zM551 221.8l4.8 4.8l-4.8 4.8l-4.8 -4.8zM552 222.2l4.8 4.8l-4.8 4.8l-4.8 -4.8zM553 222.5l4.8 4.8l-4.8 4.8l-4.8 -4.8zM554 222.8l4.8 4.8l-4.8 4.8l-4.8 -4.8zM555 223.1l4.8 4.8l-4.8 4.8l-4.8 -4.8zM556 223.3l4.8 4.8l-4.8 4.8l-4.8 -4.8zM557 223.6l4.8 4.8l-4.8 4.8l-4.8 -4.8zM558 223.9l4.8 4.8l-4.8 4.8l-4.8 -4.8zM559 224.2l4.8 4.8l-4.8 4.8l-4.8 -4.8zM560 224.4l4.8 4.8l-4.8 4.8l-4.8 -4.8zM561 224.7l4.8 4.8l-4.8 4.8l-4.8 -4.8zM562 224.9l4.8 4.8l-4.8 4.8l-4.8 -4.8zM563 225.2l4.8 4.8l-4.8 4.8l-4.8 -4.8zM564 225.4l4.8 4.8l-4.8 4.8l-4.8 -4.8zM565 225.7l4.8 4.8l-4.8 4.8l-4.8 -4.8zM566 225.9l4.8 4.8l-4.8 4.8l-4.8 -4.8zM567 226.2l4.8 4.8l-4.8 4.8l-4.8 -4.8zM568 226.5l4.8 4.8l-4.8 4.8l-4.8 -4.8zM569 226.7l4.8 4.8l-4.8 4.8l-4.8 -4.8zM570 227l4.8 4.8l-4.8 4.8l-4.8 -4.8zM571 227.3l4.8 4.8l-4.8 4.8l-4.8 -4.8zM572 227.5l4.8 4.8l-4.8 4.8l-4.8 -4.8zM573 227.8l4.8 4.8l-4.8 4.8l-4.8 -4.8zM574 228l4.8 4.8l-4.8 4.8l-4.8 -4.8zM575 228.2l4.8 4.8l-4.8 4.8l-4.8 -4.8zM576 228.4l4.8 4.8l-4.8 4.8l-4.8 -4.8zM577 228.6l4.8 4.8l-4.8 4.8l-4.8 -4.8zM578 228.8l4.8 4.8l-4.8 4.8l-4.8 -4.8zM579 228.9l4.8 4.8l-4.8 4.8l-4.8 -4.8zM580 229.1l4.8 4.8l-4.8 4.8l-4.8 -4.8zM581 229.2l4.8 4.8l-4.8 4.8l-4.8 -4.8zM582 229.4l4.8 4.8l-4.8 4.8l-4.8 -4.8zM583 229.4l4.8 4.8l-4.8 4.8l-4.8 -4.8zM584 229.5l4.8 4.8l-4.8 4.8l-4.8 -4.8zM585 229.5l4.8 4.8l-4.8 4.8l-4.8 -4.8zM586 229.5l4.8 4.8l-4.8 4.8l-4.8 -4.8zM587 229.4l4.8 4.8l-4.8 4.8l-4.8 -4.8zM588 229.3l4.8 4.8l-4.8 4.8l-4.8 -4.8zM589 229.2l4.8 4.8l-4.8 4.8l-4.8 -4.8zM590 229.1l4.8 4.8l-4.8 4.8l-4.8 -4.8zM591 228.9l4.8 4.8l-4.8 4.8l-4.8 -4.8zM592 228.8l4.8 4.8l-4.8 4.8l-4.8 -4.8zM593 228.6l4.8 4.8l-4.8 4.8l-4.8 -4.8zM594 228.4l4.8 4.8l-4.8 4.8l-4.8 -4.8zM595 228.2l4.8 4.8l-4.8 4.8l-4.8 -4.8zM596 228l4.8 4.8l-4.8 4.8l-4.8 -4.8zM597 227.6l4.8 4.8l-4.8 4.8l-4.8 -4.8zM598 227.2l4.8 4.8l-4.8 4.8l-4.8 -4.8zM599 226.7l4.8 4.8l-4.8 4.8l-4.8 -4.8zM600 226.2l4.8 4.8l-4.8 4.8l-4.8 -4.8zM601 225.6l4.8 4.8l-4.8 4.8l-4.8 -4.8zM602 224.9l4.8 4.8l-4.8 4.8l-4.8 -4.8zM603 224.2l4.8 4.8l-4.8 4.8l-4.8 -4.8zM604 223.4l4.8 4.8l-4.8 4.8l-4.8 -4.8zM605 222.6l4.8 4.8l-4.8 4.8l-4.8 -4.8zM606 221.8l4.8 4.8l-4.8 4.8l-4.8 -4.8zM607 220.9l4.8 4.8l-4.8 4.8l-4.8 -4.8zM608 220l4.8 4.8l-4.8 4.8l-4.8 -4.8zM609 219l4.8 4.8l-4.8 4.8l-4.8 -4.8zM610 217.8l4.8 4.8l-4.8 4.8l-4.8 -4.8zM611 216.5l4.8 4.8l-4.8 4.8l-4.8 -4.8zM612 215.1l4.8 4.8l-4.8 4.8l-4.8 -4.8zM613 213.6l4.8 4.8l-4.8 4.8l-4.8 -4.8zM614 212l4.8 4.8l-4.8 4.8l-4.8 -4.8zM615 210.3l4.8 4.8l-4.8 4.8l-4.8 -4.8zM616 208.5l4.8 4.8l-4.8 4.8l-4.8 -4.8zM617 206.4l4.8 4.8l-4.8 4.8l-4.8 -4.8zM618 204.2l4.8 4.8l-4.8 4.8l-4.8 -4.8zM619 201.9l4.8 4.8l-4.8 4.8l-4.8 -4.8zM620 199.5l4.8 4.8l-4.8 4.8l-4.8 -4.8zM621 197.2l4.8 4.8l-4.8 4.8l-4.8 -4.8zM622 195l4.8 4.8l-4.8 4.8l-4.8 -4.8zM623 193l4.8 4.8l-4.8 4.8l-4.8 -4.8zM624 191.1l4.8 4.8l-4.8 4.8l-4.8 -4.8zM625 189.3l4.8 4.8l-4.8 4.8l-4.8 -4.8zM626 187.5l4.8 4.8l-4.8 4.8l-4.8 -4.8zM627 185.6l4.8 4.8l-4.8 4.8l-4.8 -4.8zM628 183.6l4.8 4.8l-4.8 4.8l-4.8 -4.8zM629 181.3l4.8 4.8l-4.8 4.8l-4.8 -4.8zM630 178.6l4.8 4.8l-4.8 4.8l-4.8 -4.8zM631 175.3l4.8 4.8l-4.8 4.8l-4.8 -4.8zM632 171.3l4.8 4.8l-4.8 4.8l-4.8 -4.8zM633 166.9l4.8 4.8l-4.8 4.8l-4.8 -4.8zM634 162.1l4.8 4.8l-4.8 4.8l-4.8 -4.8zM635 157.4l4.8 4.8l-4.8 4.8l-4.8 -4.8zM636 152.7l4.8 4.8l-4.8 4.8l-4.8 -4.8zM637 148.5l4.8 4.8l-4.8 4.8l-4.8 -4.8zM638 144.9l4.8 4.8l-4.8 4.8l-4.8 -4.8zM639 141.8l4.8 4.8l-4.8 4.8l-4.8 -4.8zM640 139l4.8 4.8l-4.8 4.8l-4.8 -4.8zM641 136.3l4.8 4.8l-4.8 4.8l-4.8 -4.8zM642 133.7l4.8 4.8l-4.8 4.8l-4.8 -4.8zM643 130.8l4.8 4.8l-4.8 4.8l-4.8 -4.8zM644 127.5l4.8 4.8l-4.8 4.8l-4.8 -4.8zM645 124l4.8 4.8l-4.8 4.8l-4.8 -4.8zM646 120.2l4.8 4.8l-4.8 4.8l-4.8 -4.8zM647 116.2l4.8 4.8l-4.8 4.8l-4.8 -4.8zM648 112.3l4.8 4.8l-4.8 4.8l-4.8 -4.8zM649 108.3l4.8 4.8l-4.8 4.8l-4.8 -4.8zM650 104.5l4.8 4.8l-4.8 4.8l-4.8 -4.8zM651 100.7l4.8 4.8l-4.8 4.8l-4.8 -4.8zM652 96.9l4.8 4.8l-4.8 4.8l-4.8 -4.8zM653 93.1l4.8 4.8l-4.8 4.8l-4.8 -4.8zM654 89.3l4.8 4.8l-4.8 4.8l-4.8 -4.8zM655 85.5l4.8 4.8l-4.8 4.8l-4.8 -4.8zM656 81.7l4.8 4.8l-4.8 4.8l-4.8 -4.8zM657 77.9l4.8 4.8l-4.8 4.8l-4.8 -4.8zM658 74l4.8 4.8l-4.8 4.8l-4.8 -4.8zM659 70.2l4.8 4.8l-4.8 4.8l-4.8 -4.8zM660 66.4l4.8 4.8l-4.8 4.8l-4.8 -4.8zM661 62.6l4.8 4.8l-4.8 4.8l-4.8 -4.8zM662 58.8l4.8 4.8l-4.8 4.8l-4.8 -4.8zM663 54.9l4.8 4.8l-4.8 4.8l-4.8 -4.8zM664 51.1l4.8 4.8l-4.8 4.8l-4.8 -4.8zM665 47.3l4.8 4.8l-4.8 4.8l-4.8 -4.8zM666 43.4l4.8 4.8l-4.8 4.8l-4.8 -4.8zM667 39.6l4.8 4.8l-4.8 4.8l-4.8 -4.8zM668 35.8l4.8 4.8l-4.8 4.8l-4.8 -4.8zM669 32l4.8 4.8l-4.8 4.8l-4.8 -4.8zM670 28.1l4.8 4.8l-4.8 4.8l-4.8 -4.8zM671 24.3l4.8 4.8l-4.8 4.8l-4.8 -4.8zM672 20.5l4.8 4.8l-4.8 4.8l-4.8 -4.8zM673 16.7l4.8 4.8l-4.8 4.8l-4.8 -4.8zM674 12.8l4.8 4.8l-4.8 4.8l-4.8 -4.8zM675 9l4.8 4.8l-4.8 4.8l-4.8 -4.8zM676 5.2l4.8 4.8l-4.8 4.8l-4.8 -4.8z" fill="#0000ff"/>
<path d="M487 164.3l4.1 8.4h-8.2zM488.5 164.6l4.1 8.4h-8.2zM490 165l4.1 8.4h-8.2zM491.5 165.4l4.1 8.4h-8.2zM493 165.9l4.1 8.4h-8.2zM494.5 166.4l4.1 8.4h-8.2zM496 167l4.1 8.4h-8.2zM497.5 167.6l4.1 8.4h-8.2zM499 168.2l4.1 8.4h-8.2zM500.5 168.9l4.1 8.4h-8.2zM502 169.7l4.1 8.4h-8.2zM503.5 170.7l4.1 8.4h-8.2zM505 171.6l4.1 8.4h-8.2zM506.5 172.6l4.1 8.4h-8.2zM508 173.6l4.1 8.4h-8.2zM509.5 174.6l4.1 8.4h-8.2zM511 175.6l4.1 8.4h-8.2zM512.5 176.6l4.1 8.4h-8.2zM514 177.5l4.1 8.4h-8.2zM515.5 178.5l4.1 8.4h-8.2zM517 179.6l4.1 8.4h-8.2zM518.5 180.6l4.1 8.4h-8.2zM520 181.6l4.1 8.4h-8.2zM521.5 182.6l4.1 8.4h-8.2zM523 183.6l4.1 8.4h-8.2zM524.5 184.5l4.1 8.4h-8.2zM526 185.4l4.1 8.4h-8.2zM527.5 186.3l4.1 8.4h-8.2zM529 187.1l4.1 8.4h-8.2zM530.5 187.9l4.1 8.4h-8.2zM532 188.7l4.1 8.4h-8.2zM533.5 189.4l4.1 8.4h-8.2zM535 190.2l4.1 8.4h-8.2zM536.5 190.9l4.1 8.4h-8.2zM538 191.7l4.1 8.4h-8.2zM539.5 192.4l4.1 8.4h-8.2zM541 193.2l4.1 8.4h-8.2zM542.5 194l4.1 8.4h-8.2zM544 194.8l4.1 8.4h-8.2zM545.5 195.7l4.1 8.4h-8.2zM547 196.7l4.1 8.4h-8.2zM548.5 197.6l4.1 8.4h-8.2zM550 198.6l4.1 8.4h-8.2zM551.5 199.5l4.1 8.4h-8.2zM553 200.4l4.1 8.4h-8.2zM554.5 201.2l4.1 8.4h-8.2zM556 202l4.1 8.4h-8.2zM557.5 202.6l4.1 8.4h-8.2zM559 203.2l4.1 8.4h-8.2zM560.5 203.7l4.1 8.4h-8.2zM562 204.1l4.1 8.4h-8.2zM563.5 204.5l4.1 8.4h-8.2zM565 204.9l4.1 8.4h-8.2zM566.5 205.2l4.1 8.4h-8.2zM568 205.5l4.1 8.4h-8.2zM569.5 205.8l4.1 8.4h-8.2zM571 206l4.1 8.4h-8.2zM572.5 206.1l4.1 8.4h-8.2zM574 206.2l4.1 8.4h-8.2zM575.5 206.2l4.1 8.4h-8.2zM577 206.2l4.1 8.4h-8.2zM578.5 206.1l4.1 8.4h-8.2zM580 206.1l4.1 8.4h-8.2zM581.5 206l4.1 8.4h-8.2zM583 206l4.1 8.4h-8.2zM584.5 205.7l4.1 8.4h-8.2zM586 205.2l4.1 8.4h-8.2zM587.5 204.6l4.1 8.4h-8.2zM589 204l4.1 8.4h-8.2zM590.5 203.2l4.1 8.4h-8.2zM592 202.4l4.1 8.4h-8.2zM593.5 201.5l4.1 8.4h-8.2zM595 200.4l4.1 8.4h-8.2zM596.5 199.3l4.1 8.4h-8.2zM598 198.1l4.1 8.4h-8.2zM599.5 196.8l4.1 8.4h-8.2zM601 195.6l4.1 8.4h-8.2zM602.5 194.5l4.1 8.4h-8.2zM604 193.3l4.1 8.4h-8.2zM605.5 192.1l4.1 8.4h-8.2zM607 190.9l4.1 8.4h-8.2zM608.5 189.7l4.1 8.4h-8.2zM610 188.3l4.1 8.4h-8.2zM611.5 186.9l4.1 8.4h-8.2zM613 185.5l4.1 8.4h-8.2zM614.5 184l4.1 8.4h-8.2zM616 182.5l4.1 8.4h-8.2zM617.5 180.8l4.1 8.4h-8.2zM619 179l4.1 8.4h-8.2zM620.5 177.1l4.1 8.4h-8.2zM622 174.9l4.1 8.4h-8.2zM623.5 172.4l4.1 8.4h-8.2zM625 169.6l4.1 8.4h-8.2zM626.5 166.7l4.1 8.4h-8.2zM628 163.8l4.1 8.4h-8.2zM629.5 160.7l4.1 8.4h-8.2zM631 157.4l4.1 8.4h-8.2zM632.5 154l4.1 8.4h-8.2zM634 150.6l4.1 8.4h-8.2zM635.5 147.3l4.1 8.4h-8.2zM637 144.2l4.1 8.4h-8.2zM638.5 141.3l4.1 8.4h-8.2zM640 138.5l4.1 8.4h-8.2zM641.5 135.7l4.1 8.4h-8.2zM643 132.6l4.1 8.4h-8.2zM644.5 129.1l4.1 8.4h-8.2zM646 125l4.1 8.4h-8.2zM647.5 120.4l4.1 8.4h-8.2zM649 115.5l4.1 8.4h-8.2zM650.5 110.4l4.1 8.4h-8.2zM652 105.2l4.1 8.4h-8.2zM653.5 100.1l4.1 8.4h-8.2zM655 95.2l4.1 8.4h-8.2zM656.5 90.4l4.1 8.4h-8.2zM658 85.6l4.1 8.4h-8.2zM659.5 80.8l4.1 8.4h-8.2zM661 75.8l4.1 8.4h-8.2zM662.5 70.8l4.1 8.4h-8.2zM664 65.6l4.1 8.4h-8.2zM665.5 60.5l4.1 8.4h-8.2zM667 55.3l4.1 8.4h-8.2zM668.5 50.2l4.1 8.4h-8.2zM670 45.1l4.1 8.4h-8.2zM671.5 40.1l4.1 8.4h-8.2zM673 35.2l4.1 8.4h-8.2zM674.5 30.1l4.1 8.4h-8.2zM676 25l4.1 8.4h-8.2zM677.5 19.8l4.1 8.4h-8.2zM679 14.6l4.1 8.4h-8.2zM680.5 9.3l4.1 8.4h-8.2z" fill="#858500"/>
</g>
<g id="axes">
<path d="M49.2 5.0H380.3V240.0H49.2Z" fill="none" stroke="#151515" stroke-width="1.5"/>
<path d="M49.2 27.2h5M49.2 73.3h5M49.2 119.5h5M49.2 165.7h5M49.2 211.8h5M49.2 50.3h3M49.2 96.4h3M49.2 142.6h3M49.2 188.7h3M49.2 234.9h3M69.3 240.0v-5M110.8 240.0v-5M152.3 240.0v-5M193.8 240.0v-5M235.3 240.0v-5M276.8 240.0v-5M318.3 240.0v-5M359.8 240.0v-5M90.1 240.0v-3M131.6 240.0v-3M173.1 240.0v-3M214.6 240.0v-3M256.1 240.0v-3M297.6 240.0v-3M339.1 240.0v-3" stroke="#000" stroke-width="1.15" fill="none"/>
<path d="M386.6 199.5H723.2M674.2 9.1V247.2" stroke="#000" stroke-width="1.25" fill="none"/>
<path d="M386.2 199.5v4.5M482.2 199.5v4.5M578.2 199.5v4.5M722.6 199.5v4.5M434.2 199.5v3M530.2 199.5v3M626.2 199.5v3M669.2 8.8h9.5M669.2 56.5h9.5M669.2 104.2h9.5M669.2 151.9h9.5M669.2 247.3h9.5M671.2 32.6h6M671.2 80.3h6M671.2 128h6M671.2 175.8h6M671.2 223.4h6" stroke="#000" stroke-width="1.3" fill="none"/>
<text x="45" y="30.3" text-anchor="end" class="tk">1.0</text>
<text x="45" y="76.4" text-anchor="end" class="tk">0.5</text>
<text x="45" y="122.6" text-anchor="end" class="tk">0.0</text>
<text x="45" y="168.8" text-anchor="end" class="tk">-0.5</text>
<text x="45" y="214.9" text-anchor="end" class="tk">-1.0</text>
<text x="69.3" y="251.2" text-anchor="middle" class="tk">-5</text>
<text x="110.8" y="251.2" text-anchor="middle" class="tk">-4</text>
<text x="152.3" y="251.2" text-anchor="middle" class="tk">-3</text>
<text x="193.8" y="251.2" text-anchor="middle" class="tk">-2</text>
<text x="235.3" y="251.2" text-anchor="middle" class="tk">-1</text>
<text x="276.8" y="251.2" text-anchor="middle" class="tk">0</text>
<text x="318.3" y="251.2" text-anchor="middle" class="tk">1</text>
<text x="359.8" y="251.2" text-anchor="middle" class="tk">2</text>
<text x="387.7" y="213.2" text-anchor="middle" class="tk" style="font-size:8px">-3</text>
<text x="482.2" y="213.2" text-anchor="middle" class="tk" style="font-size:8px">-2</text>
<text x="578.2" y="213.2" text-anchor="middle" class="tk" style="font-size:8px">-1</text>
<text x="674.2" y="213" text-anchor="middle" class="tk">0</text>
<text x="678.8" y="8.9" class="tb">4</text>
<text x="678.8" y="56.6" class="tb">3</text>
<text x="678.8" y="104.3" class="tb">2</text>
<text x="678.8" y="152" class="tb">1</text>
<text x="678.8" y="199.7" class="tb">0</text>
<text x="678.8" y="247.4" class="tb">-1</text>
</g>
<g id="labels">
<text x="1.5" y="23" class="pl">(a)</text>
<text x="393" y="23" class="pl">(b)</text>
<text x="189.6" y="264.7" class="al">Bias (V)</text>
<text transform="translate(25.3 149.6) rotate(-90)" class="al" style="font-size:10.9px">Current (<tspan font-weight="normal">µ</tspan>A)</text>
<text x="545.6" y="178.4" class="bl">Bias (V)</text>
<text transform="translate(692.2 108.5) rotate(90)" class="bl" style="font-size:12.4px">dI/dV (<tspan font-weight="normal">µ</tspan>S)</text>
</g>
<g id="legendA">
<circle cx="310.3" cy="137" r="3.1" fill="#000"/>
<circle cx="310.3" cy="150.6" r="2.5" fill="#fff" stroke="#ff0000" stroke-width="1.3"/>
<path d="M310.3 160.4l4.3 7.4h-8.6z" fill="#8000ff"/>
<path d="M310.3 178.3l3.3 5.7h-6.6z" fill="#fff" stroke="#858500" stroke-width="1.3"/>
<path d="M310.3 196.4l4.4 4.4l-4.4 4.4l-4.4 -4.4z" fill="#009600"/>
<path d="M310.3 214.8l3.6 3.6l-3.6 3.6l-3.6 -3.6z" fill="#fff" stroke="#0000ff" stroke-width="1.3"/>
<text x="325.6" y="140.9" class="lg">HRS Dark</text>
<text x="325.6" y="155" class="lg">LRS Dark</text>
<text x="325.6" y="169" class="lg">HRS <tspan font-weight="normal">λ</tspan><tspan class="sub" dy="3.8">1</tspan></text>
<text x="325.6" y="186.4" class="lg">LRS <tspan font-weight="normal">λ</tspan><tspan class="sub" dy="3.8">1</tspan></text>
<text x="325.6" y="204.6" class="lg">HRS <tspan font-weight="normal">λ</tspan><tspan class="sub" dy="3.8">2</tspan></text>
<text x="325.6" y="222.2" class="lg">LRS <tspan font-weight="normal">λ</tspan><tspan class="sub" dy="3.8">2</tspan></text>
</g>
<g id="legendB">
<path d="M448.8 38.8h24.4" stroke="#ff9a9a" stroke-width="1"/>
<path d="M448.8 52.8h24.4" stroke="#c8c88a" stroke-width="1"/>
<path d="M448.8 71.5h24.4" stroke="#b8b8ff" stroke-width="1"/>
<circle cx="460.8" cy="38.8" r="3.3" fill="#ff0000"/>
<path d="M460.8 48.4l4.2 7.2h-8.4z" fill="#858500"/>
<path d="M460.8 67.3l4.2 4.2l-4.2 4.2l-4.2 -4.2z" fill="#0000ff"/>
<text x="476.9" y="42.6" class="lg lgb">LRS Dark</text>
<text x="476.9" y="56.6" class="lg lgb">LRS <tspan font-weight="normal">λ</tspan><tspan class="sub" dy="3.8">1</tspan></text>
<text x="476.9" y="75.3" class="lg lgb">LRS <tspan font-weight="normal">λ</tspan><tspan class="sub" dy="3.8">2</tspan></text>
</g>
<g id="annot">
<text x="433" y="227" class="an" fill="#ff0000" style="fill:#ff0000">V<tspan class="ans" dy="3.2">2, dark</tspan></text>
<text x="486" y="236.3" class="an" style="fill:#0000ff">V<tspan class="ans" dy="3.4">2, <tspan font-weight="normal">λ</tspan>2</tspan></text>
<text x="517.3" y="147.2" class="an" style="fill:#858500">V<tspan class="ans" dy="3.2">2, <tspan font-weight="normal">λ</tspan>1</tspan></text>
<text x="596" y="162.8" class="an" style="fill:#900014">V<tspan class="ans" dy="3.2">1</tspan></text>
<path d="M452.5 222L465.6 205.4" stroke="#ff0000" stroke-width="1.5" fill="none"/>
<path d="M467.2 203.2l-2.2 8.2l-5.2-4.2z" fill="#ff0000"/>
<path d="M499 229.4L501.7 208" stroke="#0000ff" stroke-width="1.5" fill="none"/>
<path d="M502 205l2.6 8.4l-6.6-0.8z" fill="#0000ff"/>
<path d="M532.5 159.7L537.6 188" stroke="#858500" stroke-width="1.6" fill="none"/>
<path d="M538.5 193l-5-9.6l6.6-1.1z" fill="#858500"/>
<path d="M602 166.5L610.9 189.6" stroke="#900014" stroke-width="1.5" fill="none"/>
<path d="M611.9 192.7l-5.9-6.8l6.3-2.3z" fill="#900014"/>
</g>

</svg>
</body></html>
